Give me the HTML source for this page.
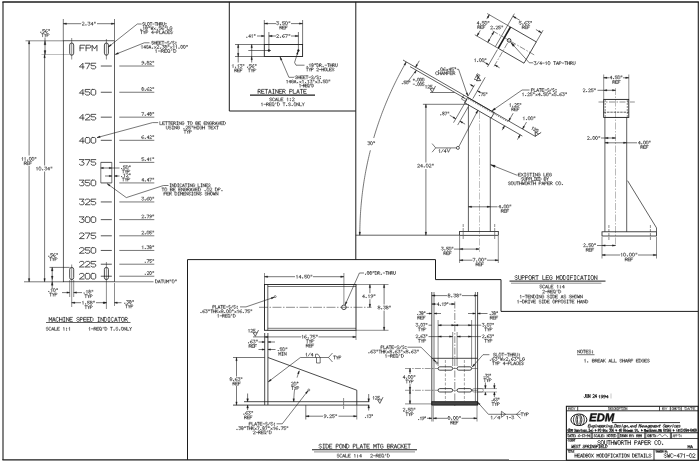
<!DOCTYPE html>
<html><head><meta charset="utf-8"><title>Headbox Modification Details</title>
<style>
html,body{margin:0;padding:0;background:#fff;}
body{width:700px;height:463px;overflow:hidden;font-family:"Liberation Mono",monospace;}
svg{display:block;}
</style></head><body>
<svg width="700" height="463" viewBox="0 0 700 463">
<line x1="2.40" y1="1.90" x2="698.90" y2="1.90" stroke="#1c1c1c" stroke-width="1.5"/>
<line x1="3.00" y1="1.90" x2="3.00" y2="459.90" stroke="#1c1c1c" stroke-width="1.1"/>
<line x1="698.30" y1="1.90" x2="698.30" y2="460.20" stroke="#1c1c1c" stroke-width="1.1"/>
<line x1="2.40" y1="459.90" x2="698.90" y2="460.10" stroke="#1c1c1c" stroke-width="1.2"/>
<line x1="229.30" y1="1.90" x2="229.30" y2="111.00" stroke="#1c1c1c" stroke-width="1.0"/>
<line x1="229.30" y1="111.00" x2="355.80" y2="111.00" stroke="#1c1c1c" stroke-width="1.0"/>
<line x1="355.80" y1="1.90" x2="355.80" y2="259.60" stroke="#1c1c1c" stroke-width="1.0"/>
<path d="M187.50 459.90 L187.50 259.60 L435.50 259.60 L435.50 279.60 L501.00 279.60 L501.00 311.40 L698.20 311.40" fill="none" stroke="#1c1c1c" stroke-width="1.0"/>
<rect x="63.30" y="40.80" width="51.20" height="241.00" rx="0" fill="none" stroke="#1c1c1c" stroke-width="0.7"/>
<line x1="63.30" y1="19.00" x2="63.30" y2="40.80" stroke="#1c1c1c" stroke-width="0.6"/>
<line x1="114.50" y1="19.00" x2="114.50" y2="40.80" stroke="#1c1c1c" stroke-width="0.6"/>
<line x1="63.30" y1="23.70" x2="81.00" y2="23.70" stroke="#1c1c1c" stroke-width="0.6"/>
<line x1="97.00" y1="23.70" x2="114.50" y2="23.70" stroke="#1c1c1c" stroke-width="0.6"/>
<path d="M63.30 23.70 L66.50 22.95 L66.50 24.45 Z" fill="#1c1c1c" stroke="#1c1c1c" stroke-width="0.3"/>
<path d="M114.50 23.70 L111.30 24.45 L111.30 22.95 Z" fill="#1c1c1c" stroke="#1c1c1c" stroke-width="0.3"/>
<path d="M82.00 22.70L82.55 22.20L83.64 22.20L84.19 22.70L84.19 23.30L82.00 25.20L84.19 25.20M85.88 24.90L86.21 24.90L86.21 25.20L85.88 25.20L85.88 24.90M87.91 22.20L90.09 22.20L89.00 23.45L89.55 23.45L90.09 23.95L90.09 24.70L89.55 25.20L88.45 25.20L87.91 24.70M92.50 25.20L92.50 22.20L90.86 24.20L93.05 24.20M94.47 22.20L94.47 23.10M95.34 22.20L95.34 23.10" fill="none" stroke="#1a1a1a" stroke-width="0.56" stroke-linecap="round" stroke-linejoin="round"/>
<rect x="69.70" y="43.00" width="4.00" height="12.20" rx="2" fill="none" stroke="#1c1c1c" stroke-width="0.8"/>
<rect x="69.70" y="267.40" width="4.00" height="12.20" rx="2" fill="none" stroke="#1c1c1c" stroke-width="0.8"/>
<rect x="104.40" y="43.00" width="4.00" height="12.20" rx="2" fill="none" stroke="#1c1c1c" stroke-width="0.8"/>
<rect x="104.40" y="267.40" width="4.00" height="12.20" rx="2" fill="none" stroke="#1c1c1c" stroke-width="0.8"/>
<line x1="71.70" y1="38.00" x2="71.70" y2="59.50" stroke="#1c1c1c" stroke-width="0.5"/>
<line x1="106.40" y1="39.00" x2="106.40" y2="59.50" stroke="#1c1c1c" stroke-width="0.5"/>
<line x1="71.70" y1="264.50" x2="71.70" y2="307.00" stroke="#1c1c1c" stroke-width="0.5"/>
<line x1="106.40" y1="262.00" x2="106.40" y2="309.00" stroke="#1c1c1c" stroke-width="0.5"/>
<path d="M40.77 32.20L41.07 32.20L41.07 32.50L40.77 32.50L40.77 32.20M44.65 29.50L42.63 29.50L42.63 30.80L44.14 30.80L44.65 31.30L44.65 32.00L44.14 32.50L43.14 32.50L42.63 32.00M47.11 29.50L46.36 29.50L45.35 30.50L45.35 32.00L45.86 32.50L46.86 32.50L47.37 32.00L47.37 31.50L46.86 31.00L45.86 31.00L45.35 31.50M48.68 29.50L48.68 30.40M49.48 29.50L49.48 30.40" fill="none" stroke="#1a1a1a" stroke-width="0.56" stroke-linecap="round" stroke-linejoin="round"/>
<path d="M41.57 33.70L43.59 33.70M42.58 33.70L42.58 36.70M44.29 33.70L45.30 35.20L46.31 33.70M45.30 35.20L45.30 36.70M47.01 36.70L47.01 33.70L48.52 33.70L49.03 34.20L49.03 34.70L48.52 35.20L47.01 35.20" fill="none" stroke="#1a1a1a" stroke-width="0.56" stroke-linecap="round" stroke-linejoin="round"/>
<line x1="25.50" y1="40.80" x2="63.30" y2="40.80" stroke="#1c1c1c" stroke-width="0.5"/>
<line x1="41.50" y1="54.60" x2="69.70" y2="54.60" stroke="#1c1c1c" stroke-width="0.45" opacity="0.7"/>
<line x1="45.00" y1="37.50" x2="45.00" y2="40.80" stroke="#1c1c1c" stroke-width="0.6"/>
<line x1="45.00" y1="40.80" x2="45.00" y2="54.60" stroke="#1c1c1c" stroke-width="0.6"/>
<path d="M45.00 40.80 L45.90 44.80 L44.10 44.80 Z" fill="#1c1c1c" stroke="#1c1c1c" stroke-width="0.3"/>
<path d="M45.00 54.60 L44.10 50.60 L45.90 50.60 Z" fill="#1c1c1c" stroke="#1c1c1c" stroke-width="0.3"/>
<line x1="29.10" y1="40.80" x2="29.10" y2="155.50" stroke="#1c1c1c" stroke-width="0.6"/>
<line x1="29.10" y1="166.00" x2="29.10" y2="281.80" stroke="#1c1c1c" stroke-width="0.6"/>
<path d="M29.10 40.80 L29.85 44.00 L28.35 44.00 Z" fill="#1c1c1c" stroke="#1c1c1c" stroke-width="0.3"/>
<path d="M29.10 281.80 L28.35 278.60 L29.85 278.60 Z" fill="#1c1c1c" stroke="#1c1c1c" stroke-width="0.3"/>
<path d="M21.98 158.00L22.56 157.40L22.56 160.40M24.60 158.00L25.18 157.40L25.18 160.40M27.55 160.10L27.84 160.10L27.84 160.40L27.55 160.40L27.55 160.10M29.82 157.40L30.79 157.40L31.27 157.90L31.27 159.90L30.79 160.40L29.82 160.40L29.34 159.90L29.34 157.90L29.82 157.40M32.44 157.40L33.40 157.40L33.89 157.90L33.89 159.90L33.40 160.40L32.44 160.40L31.95 159.90L31.95 157.90L32.44 157.40M35.15 157.40L35.15 158.30M35.92 157.40L35.92 158.30" fill="none" stroke="#1a1a1a" stroke-width="0.56" stroke-linecap="round" stroke-linejoin="round"/>
<path d="M24.27 164.70L24.27 161.70L25.78 161.70L26.29 162.20L26.29 162.70L25.78 163.20L24.27 163.20M25.28 163.20L26.29 164.70M29.01 161.70L26.99 161.70L26.99 164.70L29.01 164.70M26.99 163.20L28.50 163.20M31.73 161.70L29.71 161.70L29.71 164.70M29.71 163.20L31.22 163.20" fill="none" stroke="#1a1a1a" stroke-width="0.56" stroke-linecap="round" stroke-linejoin="round"/>
<line x1="44.60" y1="54.60" x2="44.60" y2="165.50" stroke="#1c1c1c" stroke-width="0.6"/>
<line x1="44.60" y1="171.50" x2="44.60" y2="281.80" stroke="#1c1c1c" stroke-width="0.6"/>
<path d="M44.60 54.60 L45.35 57.80 L43.85 57.80 Z" fill="#1c1c1c" stroke="#1c1c1c" stroke-width="0.3"/>
<path d="M44.60 281.80 L43.85 278.60 L45.35 278.60 Z" fill="#1c1c1c" stroke="#1c1c1c" stroke-width="0.3"/>
<path d="M36.53 167.70L37.17 167.10L37.17 170.10M39.41 167.10L40.47 167.10L41.00 167.60L41.00 169.60L40.47 170.10L39.41 170.10L38.87 169.60L38.87 167.60L39.41 167.10M42.65 169.80L42.97 169.80L42.97 170.10L42.65 170.10L42.65 169.80M44.62 167.10L46.75 167.10L45.69 168.35L46.22 168.35L46.75 168.85L46.75 169.60L46.22 170.10L45.16 170.10L44.62 169.60M49.09 170.10L49.09 167.10L47.50 169.10L49.63 169.10M51.01 167.10L51.01 168.00M51.86 167.10L51.86 168.00" fill="none" stroke="#1a1a1a" stroke-width="0.56" stroke-linecap="round" stroke-linejoin="round"/>
<line x1="24.00" y1="281.80" x2="63.30" y2="281.80" stroke="#1c1c1c" stroke-width="0.6"/>
<line x1="114.50" y1="281.80" x2="153.50" y2="281.80" stroke="#1c1c1c" stroke-width="0.6"/>
<path d="M155.50 279.90L155.50 282.90L156.78 282.90L157.56 282.15L157.56 280.65L156.78 279.90L155.50 279.90M158.28 282.90L159.31 279.90L160.33 282.90M158.69 281.90L159.92 281.90M161.06 279.90L163.11 279.90M162.08 279.90L162.08 282.90M163.83 279.90L163.83 282.40L164.35 282.90L165.38 282.90L165.89 282.40L165.89 279.90M166.61 282.90L166.61 279.90L167.64 281.90L168.67 279.90L168.67 282.90M170.01 279.90L170.01 280.80M170.83 279.90L170.83 280.80M172.68 279.90L173.71 279.90L174.22 280.40L174.22 282.40L173.71 282.90L172.68 282.90L172.17 282.40L172.17 280.40L172.68 279.90M175.56 279.90L175.56 280.80M176.38 279.90L176.38 280.80" fill="none" stroke="#1a1a1a" stroke-width="0.56" stroke-linecap="round" stroke-linejoin="round"/>
<path d="M84.85 45.20L80.00 45.20L80.00 50.80M80.00 48.00L83.64 48.00M86.06 50.80L86.06 45.20L89.69 45.20L90.91 46.13L90.91 47.07L89.69 48.00L86.06 48.00M92.12 50.80L92.12 45.20L94.54 48.93L96.96 45.20L96.96 50.80" fill="none" stroke="#1a1a1a" stroke-width="0.75" stroke-linecap="round" stroke-linejoin="round"/>
<path d="M82.90 68.83L82.90 63.23L79.40 66.97L84.07 66.97M85.24 63.23L89.91 63.23L86.99 68.83M95.75 63.23L91.08 63.23L91.08 65.66L94.58 65.66L95.75 66.59L95.75 67.90L94.58 68.83L92.25 68.83L91.08 67.90" fill="none" stroke="#1a1a1a" stroke-width="0.75" stroke-linecap="round" stroke-linejoin="round"/>
<line x1="100.80" y1="66.03" x2="111.80" y2="66.03" stroke="#1c1c1c" stroke-width="0.75"/>
<line x1="119.30" y1="66.03" x2="154.30" y2="66.03" stroke="#1c1c1c" stroke-width="0.6"/>
<path d="M142.02 64.33L142.75 64.33L143.72 63.33L143.72 61.83L143.24 61.33L142.27 61.33L141.78 61.83L141.78 62.33L142.27 62.83L143.24 62.83L143.72 62.33M145.23 64.03L145.52 64.03L145.52 64.33L145.23 64.33L145.23 64.03M147.51 61.33L148.48 61.33L148.96 61.83L148.96 62.33L148.48 62.83L147.51 62.83L147.02 62.33L147.02 61.83L147.51 61.33M147.51 62.83L147.02 63.33L147.02 63.83L147.51 64.33L148.48 64.33L148.96 63.83L148.96 63.33L148.48 62.83M149.64 61.83L150.13 61.33L151.10 61.33L151.58 61.83L151.58 62.43L149.64 64.33L151.58 64.33M152.84 61.33L152.84 62.23M153.62 61.33L153.62 62.23" fill="none" stroke="#1a1a1a" stroke-width="0.56" stroke-linecap="round" stroke-linejoin="round"/>
<path d="M82.90 95.05L82.90 89.45L79.40 93.19L84.07 93.19M89.91 89.45L85.24 89.45L85.24 91.88L88.74 91.88L89.91 92.81L89.91 94.12L88.74 95.05L86.41 95.05L85.24 94.12M92.25 89.45L94.58 89.45L95.75 90.39L95.75 94.12L94.58 95.05L92.25 95.05L91.08 94.12L91.08 90.39L92.25 89.45" fill="none" stroke="#1a1a1a" stroke-width="0.75" stroke-linecap="round" stroke-linejoin="round"/>
<line x1="100.80" y1="92.25" x2="111.80" y2="92.25" stroke="#1c1c1c" stroke-width="0.75"/>
<line x1="119.30" y1="92.25" x2="154.30" y2="92.25" stroke="#1c1c1c" stroke-width="0.6"/>
<path d="M142.27 87.55L143.24 87.55L143.72 88.05L143.72 88.55L143.24 89.05L142.27 89.05L141.78 88.55L141.78 88.05L142.27 87.55M142.27 89.05L141.78 89.55L141.78 90.05L142.27 90.55L143.24 90.55L143.72 90.05L143.72 89.55L143.24 89.05M145.23 90.25L145.52 90.25L145.52 90.55L145.23 90.55L145.23 90.25M148.72 87.55L147.99 87.55L147.02 88.55L147.02 90.05L147.51 90.55L148.48 90.55L148.96 90.05L148.96 89.55L148.48 89.05L147.51 89.05L147.02 89.55M149.64 88.05L150.13 87.55L151.10 87.55L151.58 88.05L151.58 88.65L149.64 90.55L151.58 90.55M152.84 87.55L152.84 88.45M153.62 87.55L153.62 88.45" fill="none" stroke="#1a1a1a" stroke-width="0.56" stroke-linecap="round" stroke-linejoin="round"/>
<path d="M82.90 119.96L82.90 114.36L79.40 118.10L84.07 118.10M85.24 115.30L86.41 114.36L88.74 114.36L89.91 115.30L89.91 116.42L85.24 119.96L89.91 119.96M95.75 114.36L91.08 114.36L91.08 116.79L94.58 116.79L95.75 117.72L95.75 119.03L94.58 119.96L92.25 119.96L91.08 119.03" fill="none" stroke="#1a1a1a" stroke-width="0.75" stroke-linecap="round" stroke-linejoin="round"/>
<line x1="100.80" y1="117.16" x2="111.80" y2="117.16" stroke="#1c1c1c" stroke-width="0.75"/>
<line x1="119.30" y1="117.16" x2="154.30" y2="117.16" stroke="#1c1c1c" stroke-width="0.6"/>
<path d="M141.78 112.46L143.72 112.46L142.51 115.46M145.23 115.16L145.52 115.16L145.52 115.46L145.23 115.46L145.23 115.16M148.48 115.46L148.48 112.46L147.02 114.46L148.96 114.46M150.13 112.46L151.10 112.46L151.58 112.96L151.58 113.46L151.10 113.96L150.13 113.96L149.64 113.46L149.64 112.96L150.13 112.46M150.13 113.96L149.64 114.46L149.64 114.96L150.13 115.46L151.10 115.46L151.58 114.96L151.58 114.46L151.10 113.96M152.84 112.46L152.84 113.36M153.62 112.46L153.62 113.36" fill="none" stroke="#1a1a1a" stroke-width="0.56" stroke-linecap="round" stroke-linejoin="round"/>
<path d="M82.90 143.12L82.90 137.52L79.40 141.26L84.07 141.26M86.41 137.52L88.74 137.52L89.91 138.46L89.91 142.19L88.74 143.12L86.41 143.12L85.24 142.19L85.24 138.46L86.41 137.52M92.25 137.52L94.58 137.52L95.75 138.46L95.75 142.19L94.58 143.12L92.25 143.12L91.08 142.19L91.08 138.46L92.25 137.52" fill="none" stroke="#1a1a1a" stroke-width="0.75" stroke-linecap="round" stroke-linejoin="round"/>
<line x1="100.80" y1="140.32" x2="111.80" y2="140.32" stroke="#1c1c1c" stroke-width="0.75"/>
<line x1="119.30" y1="140.32" x2="154.30" y2="140.32" stroke="#1c1c1c" stroke-width="0.6"/>
<path d="M143.48 135.62L142.75 135.62L141.78 136.62L141.78 138.12L142.27 138.62L143.24 138.62L143.72 138.12L143.72 137.62L143.24 137.12L142.27 137.12L141.78 137.62M145.23 138.32L145.52 138.32L145.52 138.62L145.23 138.62L145.23 138.32M148.48 138.62L148.48 135.62L147.02 137.62L148.96 137.62M149.64 136.12L150.13 135.62L151.10 135.62L151.58 136.12L151.58 136.72L149.64 138.62L151.58 138.62M152.84 135.62L152.84 136.52M153.62 135.62L153.62 136.52" fill="none" stroke="#1a1a1a" stroke-width="0.56" stroke-linecap="round" stroke-linejoin="round"/>
<path d="M79.40 159.59L84.07 159.59L81.74 161.92L82.90 161.92L84.07 162.86L84.07 164.26L82.90 165.19L80.57 165.19L79.40 164.26M85.24 159.59L89.91 159.59L86.99 165.19M95.75 159.59L91.08 159.59L91.08 162.02L94.58 162.02L95.75 162.95L95.75 164.26L94.58 165.19L92.25 165.19L91.08 164.26" fill="none" stroke="#1a1a1a" stroke-width="0.75" stroke-linecap="round" stroke-linejoin="round"/>
<line x1="100.80" y1="162.39" x2="111.80" y2="162.39" stroke="#1c1c1c" stroke-width="0.75"/>
<line x1="119.30" y1="162.39" x2="154.30" y2="162.39" stroke="#1c1c1c" stroke-width="0.6"/>
<path d="M143.72 157.69L141.78 157.69L141.78 158.99L143.24 158.99L143.72 159.49L143.72 160.19L143.24 160.69L142.27 160.69L141.78 160.19M145.23 160.39L145.52 160.39L145.52 160.69L145.23 160.69L145.23 160.39M148.48 160.69L148.48 157.69L147.02 159.69L148.96 159.69M150.13 158.29L150.71 157.69L150.71 160.69M152.84 157.69L152.84 158.59M153.62 157.69L153.62 158.59" fill="none" stroke="#1a1a1a" stroke-width="0.56" stroke-linecap="round" stroke-linejoin="round"/>
<path d="M79.40 180.13L84.07 180.13L81.74 182.46L82.90 182.46L84.07 183.40L84.07 184.80L82.90 185.73L80.57 185.73L79.40 184.80M89.91 180.13L85.24 180.13L85.24 182.56L88.74 182.56L89.91 183.49L89.91 184.80L88.74 185.73L86.41 185.73L85.24 184.80M92.25 180.13L94.58 180.13L95.75 181.06L95.75 184.80L94.58 185.73L92.25 185.73L91.08 184.80L91.08 181.06L92.25 180.13" fill="none" stroke="#1a1a1a" stroke-width="0.75" stroke-linecap="round" stroke-linejoin="round"/>
<line x1="100.80" y1="182.93" x2="111.80" y2="182.93" stroke="#1c1c1c" stroke-width="0.75"/>
<line x1="119.30" y1="182.93" x2="154.30" y2="182.93" stroke="#1c1c1c" stroke-width="0.6"/>
<path d="M143.24 181.23L143.24 178.23L141.78 180.23L143.72 180.23M145.23 180.93L145.52 180.93L145.52 181.23L145.23 181.23L145.23 180.93M148.48 181.23L148.48 178.23L147.02 180.23L148.96 180.23M149.64 178.23L151.58 178.23L150.37 181.23M152.84 178.23L152.84 179.13M153.62 178.23L153.62 179.13" fill="none" stroke="#1a1a1a" stroke-width="0.56" stroke-linecap="round" stroke-linejoin="round"/>
<path d="M79.40 199.14L84.07 199.14L81.74 201.47L82.90 201.47L84.07 202.41L84.07 203.81L82.90 204.74L80.57 204.74L79.40 203.81M85.24 200.07L86.41 199.14L88.74 199.14L89.91 200.07L89.91 201.19L85.24 204.74L89.91 204.74M95.75 199.14L91.08 199.14L91.08 201.57L94.58 201.57L95.75 202.50L95.75 203.81L94.58 204.74L92.25 204.74L91.08 203.81" fill="none" stroke="#1a1a1a" stroke-width="0.75" stroke-linecap="round" stroke-linejoin="round"/>
<line x1="100.80" y1="201.94" x2="111.80" y2="201.94" stroke="#1c1c1c" stroke-width="0.75"/>
<line x1="119.30" y1="201.94" x2="154.30" y2="201.94" stroke="#1c1c1c" stroke-width="0.6"/>
<path d="M141.78 197.24L143.72 197.24L142.75 198.49L143.24 198.49L143.72 198.99L143.72 199.74L143.24 200.24L142.27 200.24L141.78 199.74M145.23 199.94L145.52 199.94L145.52 200.24L145.23 200.24L145.23 199.94M148.72 197.24L147.99 197.24L147.02 198.24L147.02 199.74L147.51 200.24L148.48 200.24L148.96 199.74L148.96 199.24L148.48 198.74L147.51 198.74L147.02 199.24M150.13 197.24L151.10 197.24L151.58 197.74L151.58 199.74L151.10 200.24L150.13 200.24L149.64 199.74L149.64 197.74L150.13 197.24M152.84 197.24L152.84 198.14M153.62 197.24L153.62 198.14" fill="none" stroke="#1a1a1a" stroke-width="0.56" stroke-linecap="round" stroke-linejoin="round"/>
<path d="M79.40 216.84L84.07 216.84L81.74 219.17L82.90 219.17L84.07 220.11L84.07 221.51L82.90 222.44L80.57 222.44L79.40 221.51M86.41 216.84L88.74 216.84L89.91 217.77L89.91 221.51L88.74 222.44L86.41 222.44L85.24 221.51L85.24 217.77L86.41 216.84M92.25 216.84L94.58 216.84L95.75 217.77L95.75 221.51L94.58 222.44L92.25 222.44L91.08 221.51L91.08 217.77L92.25 216.84" fill="none" stroke="#1a1a1a" stroke-width="0.75" stroke-linecap="round" stroke-linejoin="round"/>
<line x1="100.80" y1="219.64" x2="111.80" y2="219.64" stroke="#1c1c1c" stroke-width="0.75"/>
<line x1="119.30" y1="219.64" x2="154.30" y2="219.64" stroke="#1c1c1c" stroke-width="0.6"/>
<path d="M141.78 215.44L142.27 214.94L143.24 214.94L143.72 215.44L143.72 216.04L141.78 217.94L143.72 217.94M145.23 217.64L145.52 217.64L145.52 217.94L145.23 217.94L145.23 217.64M147.02 214.94L148.96 214.94L147.75 217.94M149.88 217.94L150.61 217.94L151.58 216.94L151.58 215.44L151.10 214.94L150.13 214.94L149.64 215.44L149.64 215.94L150.13 216.44L151.10 216.44L151.58 215.94M152.84 214.94L152.84 215.84M153.62 214.94L153.62 215.84" fill="none" stroke="#1a1a1a" stroke-width="0.56" stroke-linecap="round" stroke-linejoin="round"/>
<path d="M79.40 233.94L80.57 233.01L82.90 233.01L84.07 233.94L84.07 235.06L79.40 238.61L84.07 238.61M85.24 233.01L89.91 233.01L86.99 238.61M95.75 233.01L91.08 233.01L91.08 235.43L94.58 235.43L95.75 236.37L95.75 237.67L94.58 238.61L92.25 238.61L91.08 237.67" fill="none" stroke="#1a1a1a" stroke-width="0.75" stroke-linecap="round" stroke-linejoin="round"/>
<line x1="100.80" y1="235.81" x2="111.80" y2="235.81" stroke="#1c1c1c" stroke-width="0.75"/>
<line x1="119.30" y1="235.81" x2="154.30" y2="235.81" stroke="#1c1c1c" stroke-width="0.6"/>
<path d="M141.78 231.61L142.27 231.11L143.24 231.11L143.72 231.61L143.72 232.21L141.78 234.11L143.72 234.11M145.23 233.81L145.52 233.81L145.52 234.11L145.23 234.11L145.23 233.81M147.51 231.11L148.48 231.11L148.96 231.61L148.96 233.61L148.48 234.11L147.51 234.11L147.02 233.61L147.02 231.61L147.51 231.11M151.58 231.11L149.64 231.11L149.64 232.41L151.10 232.41L151.58 232.91L151.58 233.61L151.10 234.11L150.13 234.11L149.64 233.61M152.84 231.11L152.84 232.01M153.62 231.11L153.62 232.01" fill="none" stroke="#1a1a1a" stroke-width="0.56" stroke-linecap="round" stroke-linejoin="round"/>
<path d="M79.40 248.58L80.57 247.65L82.90 247.65L84.07 248.58L84.07 249.70L79.40 253.25L84.07 253.25M89.91 247.65L85.24 247.65L85.24 250.07L88.74 250.07L89.91 251.01L89.91 252.31L88.74 253.25L86.41 253.25L85.24 252.31M92.25 247.65L94.58 247.65L95.75 248.58L95.75 252.31L94.58 253.25L92.25 253.25L91.08 252.31L91.08 248.58L92.25 247.65" fill="none" stroke="#1a1a1a" stroke-width="0.75" stroke-linecap="round" stroke-linejoin="round"/>
<line x1="100.80" y1="250.45" x2="111.80" y2="250.45" stroke="#1c1c1c" stroke-width="0.75"/>
<line x1="119.30" y1="250.45" x2="154.30" y2="250.45" stroke="#1c1c1c" stroke-width="0.6"/>
<path d="M142.27 246.35L142.85 245.75L142.85 248.75M145.23 248.45L145.52 248.45L145.52 248.75L145.23 248.75L145.23 248.45M147.02 245.75L148.96 245.75L147.99 247.00L148.48 247.00L148.96 247.50L148.96 248.25L148.48 248.75L147.51 248.75L147.02 248.25M150.13 245.75L151.10 245.75L151.58 246.25L151.58 246.75L151.10 247.25L150.13 247.25L149.64 246.75L149.64 246.25L150.13 245.75M150.13 247.25L149.64 247.75L149.64 248.25L150.13 248.75L151.10 248.75L151.58 248.25L151.58 247.75L151.10 247.25M152.84 245.75L152.84 246.65M153.62 245.75L153.62 246.65" fill="none" stroke="#1a1a1a" stroke-width="0.56" stroke-linecap="round" stroke-linejoin="round"/>
<path d="M79.40 262.35L80.57 261.41L82.90 261.41L84.07 262.35L84.07 263.47L79.40 267.01L84.07 267.01M85.24 262.35L86.41 261.41L88.74 261.41L89.91 262.35L89.91 263.47L85.24 267.01L89.91 267.01M95.75 261.41L91.08 261.41L91.08 263.84L94.58 263.84L95.75 264.77L95.75 266.08L94.58 267.01L92.25 267.01L91.08 266.08" fill="none" stroke="#1a1a1a" stroke-width="0.75" stroke-linecap="round" stroke-linejoin="round"/>
<line x1="100.80" y1="264.21" x2="111.80" y2="264.21" stroke="#1c1c1c" stroke-width="0.75"/>
<line x1="119.30" y1="264.21" x2="154.30" y2="264.21" stroke="#1c1c1c" stroke-width="0.6"/>
<path d="M145.23 262.21L145.52 262.21L145.52 262.51L145.23 262.51L145.23 262.21M147.02 259.51L148.96 259.51L147.75 262.51M151.58 259.51L149.64 259.51L149.64 260.81L151.10 260.81L151.58 261.31L151.58 262.01L151.10 262.51L150.13 262.51L149.64 262.01M152.84 259.51L152.84 260.41M153.62 259.51L153.62 260.41" fill="none" stroke="#1a1a1a" stroke-width="0.56" stroke-linecap="round" stroke-linejoin="round"/>
<path d="M79.40 274.36L80.57 273.43L82.90 273.43L84.07 274.36L84.07 275.48L79.40 279.03L84.07 279.03M86.41 273.43L88.74 273.43L89.91 274.36L89.91 278.10L88.74 279.03L86.41 279.03L85.24 278.10L85.24 274.36L86.41 273.43M92.25 273.43L94.58 273.43L95.75 274.36L95.75 278.10L94.58 279.03L92.25 279.03L91.08 278.10L91.08 274.36L92.25 273.43" fill="none" stroke="#1a1a1a" stroke-width="0.75" stroke-linecap="round" stroke-linejoin="round"/>
<line x1="100.80" y1="276.23" x2="111.80" y2="276.23" stroke="#1c1c1c" stroke-width="0.75"/>
<line x1="119.30" y1="276.23" x2="154.30" y2="276.23" stroke="#1c1c1c" stroke-width="0.6"/>
<path d="M145.23 274.23L145.52 274.23L145.52 274.53L145.23 274.53L145.23 274.23M147.02 272.03L147.51 271.53L148.48 271.53L148.96 272.03L148.96 272.63L147.02 274.53L148.96 274.53M150.13 271.53L151.10 271.53L151.58 272.03L151.58 274.03L151.10 274.53L150.13 274.53L149.64 274.03L149.64 272.03L150.13 271.53M152.84 271.53L152.84 272.43M153.62 271.53L153.62 272.43" fill="none" stroke="#1a1a1a" stroke-width="0.56" stroke-linecap="round" stroke-linejoin="round"/>
<line x1="100.80" y1="162.39" x2="100.80" y2="182.93" stroke="#1c1c1c" stroke-width="0.6"/>
<line x1="111.80" y1="162.39" x2="111.80" y2="182.93" stroke="#1c1c1c" stroke-width="0.6"/>
<line x1="100.80" y1="168.00" x2="111.80" y2="168.00" stroke="#1c1c1c" stroke-width="0.6"/>
<path d="M100.80 168.00 L103.40 167.25 L103.40 168.75 Z" fill="#1c1c1c" stroke="#1c1c1c" stroke-width="0.3"/>
<path d="M111.80 168.00 L109.20 168.75 L109.20 167.25 Z" fill="#1c1c1c" stroke="#1c1c1c" stroke-width="0.3"/>
<line x1="111.80" y1="168.00" x2="119.50" y2="168.00" stroke="#1c1c1c" stroke-width="0.6"/>
<path d="M121.57 168.50L121.87 168.50L121.87 168.80L121.57 168.80L121.57 168.50M125.45 165.80L123.43 165.80L123.43 167.10L124.94 167.10L125.45 167.60L125.45 168.30L124.94 168.80L123.94 168.80L123.43 168.30M126.66 165.80L127.66 165.80L128.17 166.30L128.17 168.30L127.66 168.80L126.66 168.80L126.15 168.30L126.15 166.30L126.66 165.80M129.48 165.80L129.48 166.70M130.28 165.80L130.28 166.70" fill="none" stroke="#1a1a1a" stroke-width="0.56" stroke-linecap="round" stroke-linejoin="round"/>
<path d="M122.27 170.00L124.29 170.00M123.28 170.00L123.28 173.00M124.99 170.00L126.00 171.50L127.01 170.00M126.00 171.50L126.00 173.00M127.71 173.00L127.71 170.00L129.22 170.00L129.73 170.50L129.73 171.00L129.22 171.50L127.71 171.50" fill="none" stroke="#1a1a1a" stroke-width="0.56" stroke-linecap="round" stroke-linejoin="round"/>
<line x1="105.00" y1="176.00" x2="111.80" y2="176.00" stroke="#1c1c1c" stroke-width="0.6"/>
<path d="M111.80 176.00 L109.20 176.75 L109.20 175.25 Z" fill="#1c1c1c" stroke="#1c1c1c" stroke-width="0.3"/>
<path d="M114.50 176.00 L117.10 175.25 L117.10 176.75 Z" fill="#1c1c1c" stroke="#1c1c1c" stroke-width="0.3"/>
<line x1="114.50" y1="176.00" x2="119.50" y2="176.00" stroke="#1c1c1c" stroke-width="0.6"/>
<path d="M121.57 176.50L121.87 176.50L121.87 176.80L121.57 176.80L121.57 176.50M123.94 174.40L124.54 173.80L124.54 176.80M126.15 174.30L126.66 173.80L127.66 173.80L128.17 174.30L128.17 174.90L126.15 176.80L128.17 176.80M129.48 173.80L129.48 174.70M130.28 173.80L130.28 174.70" fill="none" stroke="#1a1a1a" stroke-width="0.56" stroke-linecap="round" stroke-linejoin="round"/>
<path d="M122.27 178.00L124.29 178.00M123.28 178.00L123.28 181.00M124.99 178.00L126.00 179.50L127.01 178.00M126.00 179.50L126.00 181.00M127.71 181.00L127.71 178.00L129.22 178.00L129.73 178.50L129.73 179.00L129.22 179.50L127.71 179.50" fill="none" stroke="#1a1a1a" stroke-width="0.56" stroke-linecap="round" stroke-linejoin="round"/>
<path d="M168.50 185.50 L163.40 185.50 L126.30 197.60 L107.20 183.70" fill="none" stroke="#1c1c1c" stroke-width="0.6"/>
<path d="M107.20 183.70 L110.23 184.98 L109.35 186.19 Z" fill="#1c1c1c" stroke="#1c1c1c" stroke-width="0.3"/>
<path d="M170.55 183.80L170.55 186.80M170.08 183.80L171.03 183.80M170.08 186.80L171.03 186.80M172.18 186.80L172.18 183.80L174.09 186.80L174.09 183.80M174.76 183.80L174.76 186.80L175.95 186.80L176.67 186.05L176.67 184.55L175.95 183.80L174.76 183.80M178.29 183.80L178.29 186.80M177.82 183.80L178.77 183.80M177.82 186.80L178.77 186.80M181.83 184.30L181.35 183.80L180.39 183.80L179.92 184.30L179.92 186.30L180.39 186.80L181.35 186.80L181.83 186.30M182.50 186.80L183.45 183.80L184.41 186.80M182.88 185.80L184.02 185.80M185.08 183.80L186.99 183.80M186.03 183.80L186.03 186.80M188.61 183.80L188.61 186.80M188.13 183.80L189.09 183.80M188.13 186.80L189.09 186.80M190.24 186.80L190.24 183.80L192.14 186.80L192.14 183.80M194.72 184.30L194.25 183.80L193.29 183.80L192.81 184.30L192.81 186.30L193.29 186.80L194.25 186.80L194.72 186.30L194.72 185.30L194.01 185.30M197.97 183.80L197.97 186.80L199.88 186.80M201.51 183.80L201.51 186.80M201.03 183.80L201.98 183.80M201.03 186.80L201.98 186.80M203.13 186.80L203.13 183.80L205.04 186.80L205.04 183.80M207.62 183.80L205.71 183.80L205.71 186.80L207.62 186.80M205.71 185.30L207.14 185.30M210.20 184.30L209.72 183.80L208.77 183.80L208.29 184.30L208.29 184.80L208.77 185.30L209.72 185.30L210.20 185.80L210.20 186.30L209.72 186.80L208.77 186.80L208.29 186.30" fill="none" stroke="#1a1a1a" stroke-width="0.56" stroke-linecap="round" stroke-linejoin="round"/>
<path d="M161.90 188.00L163.98 188.00M162.94 188.00L162.94 191.00M165.24 188.00L166.28 188.00L166.80 188.50L166.80 190.50L166.28 191.00L165.24 191.00L164.72 190.50L164.72 188.50L165.24 188.00M170.35 189.50L171.91 189.50L172.43 190.00L172.43 190.50L171.91 191.00L170.35 191.00L170.35 188.00L171.91 188.00L172.43 188.50L172.43 189.00L171.91 189.50M175.24 188.00L173.16 188.00L173.16 191.00L175.24 191.00M173.16 189.50L174.72 189.50M180.87 188.00L178.79 188.00L178.79 191.00L180.87 191.00M178.79 189.50L180.35 189.50M181.61 191.00L181.61 188.00L183.69 191.00L183.69 188.00M186.50 188.50L185.98 188.00L184.94 188.00L184.42 188.50L184.42 190.50L184.94 191.00L185.98 191.00L186.50 190.50L186.50 189.50L185.72 189.50M187.24 191.00L187.24 188.00L188.80 188.00L189.32 188.50L189.32 189.00L188.80 189.50L187.24 189.50M188.28 189.50L189.32 191.00M190.05 191.00L191.09 188.00L192.13 191.00M190.47 190.00L191.72 190.00M192.87 188.00L193.91 191.00L194.95 188.00M197.76 188.00L195.68 188.00L195.68 191.00L197.76 191.00M195.68 189.50L197.24 189.50M198.50 188.00L198.50 191.00L199.80 191.00L200.58 190.25L200.58 188.75L199.80 188.00L198.50 188.00M205.01 190.70L205.32 190.70L205.32 191.00L205.01 191.00L205.01 190.70M207.46 188.00L208.50 188.00L209.02 188.50L209.02 190.50L208.50 191.00L207.46 191.00L206.94 190.50L206.94 188.50L207.46 188.00M209.76 188.50L210.28 188.00L211.32 188.00L211.84 188.50L211.84 189.10L209.76 191.00L211.84 191.00M215.39 188.00L215.39 191.00L216.69 191.00L217.47 190.25L217.47 188.75L216.69 188.00L215.39 188.00M218.20 191.00L218.20 188.00L219.76 188.00L220.28 188.50L220.28 189.00L219.76 189.50L218.20 189.50M221.90 190.70L222.21 190.70L222.21 191.00L221.90 191.00L221.90 190.70" fill="none" stroke="#1a1a1a" stroke-width="0.56" stroke-linecap="round" stroke-linejoin="round"/>
<path d="M164.00 195.20L164.00 192.20L165.52 192.20L166.02 192.70L166.02 193.20L165.52 193.70L164.00 193.70M168.76 192.20L166.74 192.20L166.74 195.20L168.76 195.20M166.74 193.70L168.25 193.70M169.47 195.20L169.47 192.20L170.99 192.20L171.50 192.70L171.50 193.20L170.99 193.70L169.47 193.70M170.48 193.70L171.50 195.20M174.94 192.20L174.94 195.20L176.21 195.20L176.97 194.45L176.97 192.95L176.21 192.20L174.94 192.20M178.69 192.20L178.69 195.20M178.18 192.20L179.20 192.20M178.18 195.20L179.20 195.20M180.41 195.20L180.41 192.20L181.43 194.20L182.44 192.20L182.44 195.20M185.17 192.20L183.15 192.20L183.15 195.20L185.17 195.20M183.15 193.70L184.67 193.70M185.88 195.20L185.88 192.20L187.91 195.20L187.91 192.20M190.64 192.70L190.14 192.20L189.13 192.20L188.62 192.70L188.62 193.20L189.13 193.70L190.14 193.70L190.64 194.20L190.64 194.70L190.14 195.20L189.13 195.20L188.62 194.70M192.37 192.20L192.37 195.20M191.86 192.20L192.87 192.20M191.86 195.20L192.87 195.20M194.60 192.20L195.61 192.20L196.12 192.70L196.12 194.70L195.61 195.20L194.60 195.20L194.09 194.70L194.09 192.70L194.60 192.20M196.83 195.20L196.83 192.20L198.85 195.20L198.85 192.20M201.59 192.70L201.08 192.20L200.07 192.20L199.56 192.70L199.56 193.20L200.07 193.70L201.08 193.70L201.59 194.20L201.59 194.70L201.08 195.20L200.07 195.20L199.56 194.70M207.06 192.70L206.55 192.20L205.54 192.20L205.03 192.70L205.03 193.20L205.54 193.70L206.55 193.70L207.06 194.20L207.06 194.70L206.55 195.20L205.54 195.20L205.03 194.70M207.77 192.20L207.77 195.20M209.79 192.20L209.79 195.20M207.77 193.70L209.79 193.70M211.01 192.20L212.02 192.20L212.53 192.70L212.53 194.70L212.02 195.20L211.01 195.20L210.50 194.70L210.50 192.70L211.01 192.20M213.24 192.20L213.75 195.20L214.25 193.20L214.76 195.20L215.26 192.20M215.98 195.20L215.98 192.20L218.00 195.20L218.00 192.20" fill="none" stroke="#1a1a1a" stroke-width="0.56" stroke-linecap="round" stroke-linejoin="round"/>
<path d="M158.20 122.60 L152.60 122.60 L97.00 137.60" fill="none" stroke="#1c1c1c" stroke-width="0.6"/>
<path d="M97.00 137.60 L99.89 136.04 L100.28 137.49 Z" fill="#1c1c1c" stroke="#1c1c1c" stroke-width="0.3"/>
<path d="M159.80 121.70L159.80 124.70L161.85 124.70M164.62 121.70L162.57 121.70L162.57 124.70L164.62 124.70M162.57 123.20L164.10 123.20M165.33 121.70L167.38 121.70M166.36 121.70L166.36 124.70M168.10 121.70L170.15 121.70M169.13 121.70L169.13 124.70M172.92 121.70L170.87 121.70L170.87 124.70L172.92 124.70M170.87 123.20L172.41 123.20M173.64 124.70L173.64 121.70L175.17 121.70L175.69 122.20L175.69 122.70L175.17 123.20L173.64 123.20M174.66 123.20L175.69 124.70M177.43 121.70L177.43 124.70M176.92 121.70L177.94 121.70M176.92 124.70L177.94 124.70M179.17 124.70L179.17 121.70L181.22 124.70L181.22 121.70M183.99 122.20L183.48 121.70L182.45 121.70L181.94 122.20L181.94 124.20L182.45 124.70L183.48 124.70L183.99 124.20L183.99 123.20L183.22 123.20M187.47 121.70L189.52 121.70M188.50 121.70L188.50 124.70M190.75 121.70L191.78 121.70L192.29 122.20L192.29 124.20L191.78 124.70L190.75 124.70L190.24 124.20L190.24 122.20L190.75 121.70M195.78 123.20L197.31 123.20L197.83 123.70L197.83 124.20L197.31 124.70L195.78 124.70L195.78 121.70L197.31 121.70L197.83 122.20L197.83 122.70L197.31 123.20M200.59 121.70L198.54 121.70L198.54 124.70L200.59 124.70M198.54 123.20L200.08 123.20M206.13 121.70L204.08 121.70L204.08 124.70L206.13 124.70M204.08 123.20L205.62 123.20M206.85 124.70L206.85 121.70L208.90 124.70L208.90 121.70M211.66 122.20L211.15 121.70L210.13 121.70L209.61 122.20L209.61 124.20L210.13 124.70L211.15 124.70L211.66 124.20L211.66 123.20L210.89 123.20M212.38 124.70L212.38 121.70L213.92 121.70L214.43 122.20L214.43 122.70L213.92 123.20L212.38 123.20M213.41 123.20L214.43 124.70M215.15 124.70L216.17 121.70L217.20 124.70M215.56 123.70L216.79 123.70M217.92 121.70L218.94 124.70L219.97 121.70M222.73 121.70L220.68 121.70L220.68 124.70L222.73 124.70M220.68 123.20L222.22 123.20M223.45 121.70L223.45 124.70L224.73 124.70L225.50 123.95L225.50 122.45L224.73 121.70L223.45 121.70" fill="none" stroke="#1a1a1a" stroke-width="0.56" stroke-linecap="round" stroke-linejoin="round"/>
<path d="M166.30 126.10L166.30 128.60L166.82 129.10L167.85 129.10L168.36 128.60L168.36 126.10M171.15 126.60L170.63 126.10L169.60 126.10L169.09 126.60L169.09 127.10L169.60 127.60L170.63 127.60L171.15 128.10L171.15 128.60L170.63 129.10L169.60 129.10L169.09 128.60M172.90 126.10L172.90 129.10M172.39 126.10L173.42 126.10M172.39 129.10L173.42 129.10M174.66 129.10L174.66 126.10L176.72 129.10L176.72 126.10M179.50 126.60L178.99 126.10L177.96 126.10L177.44 126.60L177.44 128.60L177.96 129.10L178.99 129.10L179.50 128.60L179.50 127.60L178.73 127.60M183.89 128.80L184.20 128.80L184.20 129.10L183.89 129.10L183.89 128.80M185.80 126.60L186.31 126.10L187.34 126.10L187.86 126.60L187.86 127.20L185.80 129.10L187.86 129.10M190.65 126.10L188.58 126.10L188.58 127.40L190.13 127.40L190.65 127.90L190.65 128.60L190.13 129.10L189.10 129.10L188.58 128.60M191.99 126.10L191.99 127.00M192.81 126.10L192.81 127.00M194.15 126.10L194.15 129.10M196.22 126.10L196.22 129.10M194.15 127.60L196.22 127.60M197.97 126.10L197.97 129.10M197.46 126.10L198.49 126.10M197.46 129.10L198.49 129.10M201.79 126.60L201.27 126.10L200.24 126.10L199.73 126.60L199.73 128.60L200.24 129.10L201.27 129.10L201.79 128.60L201.79 127.60L201.01 127.60M202.51 126.10L202.51 129.10M204.57 126.10L204.57 129.10M202.51 127.60L204.57 127.60M208.08 126.10L210.14 126.10M209.11 126.10L209.11 129.10M212.93 126.10L210.87 126.10L210.87 129.10L212.93 129.10M210.87 127.60L212.41 127.60M213.65 126.10L215.71 129.10M215.71 126.10L213.65 129.10M216.44 126.10L218.50 126.10M217.47 126.10L217.47 129.10" fill="none" stroke="#1a1a1a" stroke-width="0.56" stroke-linecap="round" stroke-linejoin="round"/>
<path d="M183.97 130.30L185.99 130.30M184.98 130.30L184.98 133.30M186.69 130.30L187.70 131.80L188.71 130.30M187.70 131.80L187.70 133.30M189.41 133.30L189.41 130.30L190.92 130.30L191.43 130.80L191.43 131.30L190.92 131.80L189.41 131.80" fill="none" stroke="#1a1a1a" stroke-width="0.56" stroke-linecap="round" stroke-linejoin="round"/>
<path d="M141.50 24.00 L137.30 24.00 L108.30 47.00" fill="none" stroke="#1c1c1c" stroke-width="0.6"/>
<path d="M108.30 47.00 L110.34 44.42 L111.27 45.60 Z" fill="#1c1c1c" stroke="#1c1c1c" stroke-width="0.3"/>
<path d="M144.36 23.00L143.90 22.50L142.97 22.50L142.50 23.00L142.50 23.50L142.97 24.00L143.90 24.00L144.36 24.50L144.36 25.00L143.90 25.50L142.97 25.50L142.50 25.00M145.02 22.50L145.02 25.50L146.88 25.50M148.00 22.50L148.93 22.50L149.39 23.00L149.39 25.00L148.93 25.50L148.00 25.50L147.53 25.00L147.53 23.00L148.00 22.50M150.05 22.50L151.91 22.50M150.98 22.50L150.98 25.50M152.79 24.00L154.19 24.00M155.08 22.50L156.94 22.50M156.01 22.50L156.01 25.50M157.59 22.50L157.59 25.50M159.45 22.50L159.45 25.50M157.59 24.00L159.45 24.00M160.11 25.50L160.11 22.50L161.50 22.50L161.97 23.00L161.97 23.50L161.50 24.00L160.11 24.00M161.04 24.00L161.97 25.50M162.62 22.50L162.62 25.00L163.09 25.50L164.02 25.50L164.48 25.00L164.48 22.50M165.93 23.40L166.21 23.40L166.21 23.70L165.93 23.70L165.93 23.40M165.93 25.20L166.21 25.20L166.21 25.50L165.93 25.50L165.93 25.20" fill="none" stroke="#1a1a1a" stroke-width="0.56" stroke-linecap="round" stroke-linejoin="round"/>
<path d="M140.86 29.30L141.16 29.30L141.16 29.60L140.86 29.60L140.86 29.30M143.23 27.20L143.84 26.60L143.84 29.60M145.96 26.60L146.96 26.60L147.47 27.10L147.47 27.60L146.96 28.10L145.96 28.10L145.45 27.60L145.45 27.10L145.96 26.60M145.96 28.10L145.45 28.60L145.45 29.10L145.96 29.60L146.96 29.60L147.47 29.10L147.47 28.60L146.96 28.10M148.78 26.60L148.78 27.50M149.59 26.60L149.59 27.50M150.90 26.60L151.41 29.60L151.91 27.60L152.42 29.60L152.92 26.60M153.88 27.85L155.39 29.60M155.39 27.85L153.88 29.60M157.21 29.30L157.51 29.30L157.51 29.60L157.21 29.60L157.21 29.30M161.10 26.60L159.08 26.60L159.08 27.90L160.59 27.90L161.10 28.40L161.10 29.10L160.59 29.60L159.58 29.60L159.08 29.10M163.57 26.60L162.81 26.60L161.81 27.60L161.81 29.10L162.31 29.60L163.32 29.60L163.82 29.10L163.82 28.60L163.32 28.10L162.31 28.10L161.81 28.60M165.14 26.60L165.14 27.50M165.94 26.60L165.94 27.50M167.26 26.60L167.26 29.60L169.27 29.60M172.00 27.10L171.50 26.60L170.49 26.60L169.98 27.10L169.98 29.10L170.49 29.60L171.50 29.60L172.00 29.10L172.00 28.10L171.24 28.10" fill="none" stroke="#1a1a1a" stroke-width="0.56" stroke-linecap="round" stroke-linejoin="round"/>
<path d="M140.50 30.70L142.52 30.70M141.51 30.70L141.51 33.70M143.23 30.70L144.23 32.20L145.24 30.70M144.23 32.20L144.23 33.70M145.95 33.70L145.95 30.70L147.46 30.70L147.97 31.20L147.97 31.70L147.46 32.20L145.95 32.20M152.92 33.70L152.92 30.70L151.40 32.70L153.42 32.70M154.38 32.20L155.89 32.20M156.85 33.70L156.85 30.70L158.37 30.70L158.87 31.20L158.87 31.70L158.37 32.20L156.85 32.20M159.58 30.70L159.58 33.70L161.60 33.70M162.31 33.70L163.31 30.70L164.32 33.70M162.71 32.70L163.92 32.70M167.05 31.20L166.54 30.70L165.54 30.70L165.03 31.20L165.03 33.20L165.54 33.70L166.54 33.70L167.05 33.20M169.77 30.70L167.76 30.70L167.76 33.70L169.77 33.70M167.76 32.20L169.27 32.20M172.50 31.20L172.00 30.70L170.99 30.70L170.48 31.20L170.48 31.70L170.99 32.20L172.00 32.20L172.50 32.70L172.50 33.20L172.00 33.70L170.99 33.70L170.48 33.20" fill="none" stroke="#1a1a1a" stroke-width="0.56" stroke-linecap="round" stroke-linejoin="round"/>
<path d="M149.50 42.80 L144.30 42.80 L115.30 54.40" fill="none" stroke="#1c1c1c" stroke-width="0.6"/>
<path d="M115.30 54.40 L117.99 52.52 L118.55 53.91 Z" fill="#1c1c1c" stroke="#1c1c1c" stroke-width="0.3"/>
<path d="M153.44 41.80L152.95 41.30L151.98 41.30L151.50 41.80L151.50 42.30L151.98 42.80L152.95 42.80L153.44 43.30L153.44 43.80L152.95 44.30L151.98 44.30L151.50 43.80M154.12 41.30L154.12 44.30M156.06 41.30L156.06 44.30M154.12 42.80L156.06 42.80M158.67 41.30L156.74 41.30L156.74 44.30L158.67 44.30M156.74 42.80L158.19 42.80M161.29 41.30L159.35 41.30L159.35 44.30L161.29 44.30M159.35 42.80L160.81 42.80M161.97 41.30L163.91 41.30M162.94 41.30L162.94 44.30M164.83 42.80L166.29 42.80M169.15 41.80L168.66 41.30L167.69 41.30L167.21 41.80L167.21 42.30L167.69 42.80L168.66 42.80L169.15 43.30L169.15 43.80L168.66 44.30L167.69 44.30L167.21 43.80M169.83 44.30L171.76 41.30M174.38 41.80L173.90 41.30L172.93 41.30L172.44 41.80L172.44 42.30L172.93 42.80L173.90 42.80L174.38 43.30L174.38 43.80L173.90 44.30L172.93 44.30L172.44 43.80M175.89 42.20L176.18 42.20L176.18 42.50L175.89 42.50L175.89 42.20M175.89 44.00L176.18 44.00L176.18 44.30L175.89 44.30L175.89 44.00" fill="none" stroke="#1a1a1a" stroke-width="0.56" stroke-linecap="round" stroke-linejoin="round"/>
<path d="M141.49 46.00L142.08 45.40L142.08 48.40M145.12 48.40L145.12 45.40L143.65 47.40L145.61 47.40M148.26 45.90L147.77 45.40L146.79 45.40L146.30 45.90L146.30 47.90L146.79 48.40L147.77 48.40L148.26 47.90L148.26 46.90L147.52 46.90M148.95 48.40L149.93 45.40L150.91 48.40M149.34 47.40L150.52 47.40M152.43 48.10L152.72 48.10L152.72 48.40L152.43 48.40L152.43 48.10M154.49 46.65L155.96 48.40M155.96 46.65L154.49 48.40M156.90 45.90L157.39 45.40L158.37 45.40L158.86 45.90L158.86 46.50L156.90 48.40L158.86 48.40M160.38 48.10L160.67 48.10L160.67 48.40L160.38 48.40L160.38 48.10M162.20 45.40L164.16 45.40L163.18 46.65L163.67 46.65L164.16 47.15L164.16 47.90L163.67 48.40L162.69 48.40L162.20 47.90M165.33 45.40L166.31 45.40L166.80 45.90L166.80 46.40L166.31 46.90L165.33 46.90L164.84 46.40L164.84 45.90L165.33 45.40M165.33 46.90L164.84 47.40L164.84 47.90L165.33 48.40L166.31 48.40L166.80 47.90L166.80 47.40L166.31 46.90M168.08 45.40L168.08 46.30M168.87 45.40L168.87 46.30M170.39 46.65L171.86 48.40M171.86 46.65L170.39 48.40M173.28 46.00L173.87 45.40L173.87 48.40M175.93 46.00L176.52 45.40L176.52 48.40M178.92 48.10L179.22 48.10L179.22 48.40L178.92 48.40L178.92 48.10M181.23 45.40L182.21 45.40L182.70 45.90L182.70 47.90L182.21 48.40L181.23 48.40L180.74 47.90L180.74 45.90L181.23 45.40M183.88 45.40L184.86 45.40L185.35 45.90L185.35 47.90L184.86 48.40L183.88 48.40L183.39 47.90L183.39 45.90L183.88 45.40M186.63 45.40L186.63 46.30M187.41 45.40L187.41 46.30" fill="none" stroke="#1a1a1a" stroke-width="0.56" stroke-linecap="round" stroke-linejoin="round"/>
<path d="M155.58 50.10L156.27 49.50L156.27 52.50M158.40 51.00L160.13 51.00M161.23 52.50L161.23 49.50L162.96 49.50L163.54 50.00L163.54 50.50L162.96 51.00L161.23 51.00M162.38 51.00L163.54 52.50M166.65 49.50L164.35 49.50L164.35 52.50L166.65 52.50M164.35 51.00L166.08 51.00M168.04 49.50L169.19 49.50L169.77 50.00L169.77 52.00L169.19 52.50L168.04 52.50L167.46 52.00L167.46 50.00L168.04 49.50M168.90 51.75L169.77 52.65M171.73 49.50L171.73 50.40M173.69 49.50L173.69 52.50L175.14 52.50L176.00 51.75L176.00 50.25L175.14 49.50L173.69 49.50" fill="none" stroke="#1a1a1a" stroke-width="0.56" stroke-linecap="round" stroke-linejoin="round"/>
<path d="M48.77 256.20L49.07 256.20L49.07 256.50L48.77 256.50L48.77 256.20M52.65 253.50L50.63 253.50L50.63 254.80L52.14 254.80L52.65 255.30L52.65 256.00L52.14 256.50L51.14 256.50L50.63 256.00M55.11 253.50L54.36 253.50L53.35 254.50L53.35 256.00L53.86 256.50L54.86 256.50L55.37 256.00L55.37 255.50L54.86 255.00L53.86 255.00L53.35 255.50M56.68 253.50L56.68 254.40M57.48 253.50L57.48 254.40" fill="none" stroke="#1a1a1a" stroke-width="0.56" stroke-linecap="round" stroke-linejoin="round"/>
<path d="M49.57 257.70L51.59 257.70M50.58 257.70L50.58 260.70M52.29 257.70L53.30 259.20L54.31 257.70M53.30 259.20L53.30 260.70M55.01 260.70L55.01 257.70L56.52 257.70L57.03 258.20L57.03 258.70L56.52 259.20L55.01 259.20" fill="none" stroke="#1a1a1a" stroke-width="0.56" stroke-linecap="round" stroke-linejoin="round"/>
<line x1="49.50" y1="267.40" x2="69.70" y2="267.40" stroke="#1c1c1c" stroke-width="0.6"/>
<line x1="52.20" y1="267.40" x2="52.20" y2="289.00" stroke="#1c1c1c" stroke-width="0.6"/>
<path d="M52.20 267.40 L53.10 270.90 L51.30 270.90 Z" fill="#1c1c1c" stroke="#1c1c1c" stroke-width="0.3"/>
<path d="M52.20 279.60 L51.30 276.10 L53.10 276.10 Z" fill="#1c1c1c" stroke="#1c1c1c" stroke-width="0.3"/>
<path d="M52.20 281.80 L53.10 285.30 L51.30 285.30 Z" fill="#1c1c1c" stroke="#1c1c1c" stroke-width="0.3"/>
<path d="M48.77 291.40L49.07 291.40L49.07 291.70L48.77 291.70L48.77 291.40M51.14 289.30L51.74 288.70L51.74 291.70M53.86 288.70L54.86 288.70L55.37 289.20L55.37 291.20L54.86 291.70L53.86 291.70L53.35 291.20L53.35 289.20L53.86 288.70M56.68 288.70L56.68 289.60M57.48 288.70L57.48 289.60" fill="none" stroke="#1a1a1a" stroke-width="0.56" stroke-linecap="round" stroke-linejoin="round"/>
<path d="M49.57 293.10L51.59 293.10M50.58 293.10L50.58 296.10M52.29 293.10L53.30 294.60L54.31 293.10M53.30 294.60L53.30 296.10M55.01 296.10L55.01 293.10L56.52 293.10L57.03 293.60L57.03 294.10L56.52 294.60L55.01 294.60" fill="none" stroke="#1a1a1a" stroke-width="0.56" stroke-linecap="round" stroke-linejoin="round"/>
<line x1="69.70" y1="280.00" x2="69.70" y2="297.00" stroke="#1c1c1c" stroke-width="0.5"/>
<line x1="73.70" y1="280.00" x2="73.70" y2="297.00" stroke="#1c1c1c" stroke-width="0.5"/>
<line x1="62.00" y1="292.60" x2="69.70" y2="292.60" stroke="#1c1c1c" stroke-width="0.6"/>
<path d="M69.70 292.60 L66.90 293.35 L66.90 291.85 Z" fill="#1c1c1c" stroke="#1c1c1c" stroke-width="0.3"/>
<line x1="73.70" y1="292.60" x2="82.00" y2="292.60" stroke="#1c1c1c" stroke-width="0.6"/>
<path d="M73.70 292.60 L76.50 291.85 L76.50 293.35 Z" fill="#1c1c1c" stroke="#1c1c1c" stroke-width="0.3"/>
<path d="M84.07 293.00L84.37 293.00L84.37 293.30L84.07 293.30L84.07 293.00M86.44 290.90L87.04 290.30L87.04 293.30M89.16 290.30L90.16 290.30L90.67 290.80L90.67 291.30L90.16 291.80L89.16 291.80L88.65 291.30L88.65 290.80L89.16 290.30M89.16 291.80L88.65 292.30L88.65 292.80L89.16 293.30L90.16 293.30L90.67 292.80L90.67 292.30L90.16 291.80M91.98 290.30L91.98 291.20M92.78 290.30L92.78 291.20" fill="none" stroke="#1a1a1a" stroke-width="0.56" stroke-linecap="round" stroke-linejoin="round"/>
<path d="M84.77 294.70L86.79 294.70M85.78 294.70L85.78 297.70M87.49 294.70L88.50 296.20L89.51 294.70M88.50 296.20L88.50 297.70M90.21 297.70L90.21 294.70L91.72 294.70L92.23 295.20L92.23 295.70L91.72 296.20L90.21 296.20" fill="none" stroke="#1a1a1a" stroke-width="0.56" stroke-linecap="round" stroke-linejoin="round"/>
<line x1="71.70" y1="302.70" x2="81.00" y2="302.70" stroke="#1c1c1c" stroke-width="0.6"/>
<line x1="96.00" y1="302.70" x2="106.40" y2="302.70" stroke="#1c1c1c" stroke-width="0.6"/>
<path d="M71.70 302.70 L74.90 301.95 L74.90 303.45 Z" fill="#1c1c1c" stroke="#1c1c1c" stroke-width="0.3"/>
<path d="M106.40 302.70 L103.20 303.45 L103.20 301.95 Z" fill="#1c1c1c" stroke="#1c1c1c" stroke-width="0.3"/>
<path d="M82.51 301.80L83.12 301.20L83.12 304.20M85.61 303.90L85.91 303.90L85.91 304.20L85.61 304.20L85.61 303.90M89.51 301.20L87.49 301.20L87.49 302.50L89.01 302.50L89.51 303.00L89.51 303.70L89.01 304.20L87.99 304.20L87.49 303.70M90.74 301.20L91.75 301.20L92.26 301.70L92.26 302.20L91.75 302.70L90.74 302.70L90.23 302.20L90.23 301.70L90.74 301.20M90.74 302.70L90.23 303.20L90.23 303.70L90.74 304.20L91.75 304.20L92.26 303.70L92.26 303.20L91.75 302.70M93.58 301.20L93.58 302.10M94.39 301.20L94.39 302.10" fill="none" stroke="#1a1a1a" stroke-width="0.56" stroke-linecap="round" stroke-linejoin="round"/>
<path d="M84.87 305.70L86.89 305.70M85.88 305.70L85.88 308.70M87.59 305.70L88.60 307.20L89.61 305.70M88.60 307.20L88.60 308.70M90.31 308.70L90.31 305.70L91.82 305.70L92.33 306.20L92.33 306.70L91.82 307.20L90.31 307.20" fill="none" stroke="#1a1a1a" stroke-width="0.56" stroke-linecap="round" stroke-linejoin="round"/>
<line x1="114.50" y1="283.00" x2="114.50" y2="306.00" stroke="#1c1c1c" stroke-width="0.5"/>
<line x1="114.50" y1="302.70" x2="121.50" y2="302.70" stroke="#1c1c1c" stroke-width="0.6"/>
<path d="M114.50 302.70 L117.30 301.95 L117.30 303.45 Z" fill="#1c1c1c" stroke="#1c1c1c" stroke-width="0.3"/>
<path d="M106.40 302.70 L103.60 303.45 L103.60 301.95 Z" fill="#1c1c1c" stroke="#1c1c1c" stroke-width="0.3"/>
<path d="M124.77 303.20L125.07 303.20L125.07 303.50L124.77 303.50L124.77 303.20M126.63 300.50L128.65 300.50L127.64 301.75L128.14 301.75L128.65 302.25L128.65 303.00L128.14 303.50L127.14 303.50L126.63 303.00M129.86 300.50L130.86 300.50L131.37 301.00L131.37 301.50L130.86 302.00L129.86 302.00L129.35 301.50L129.35 301.00L129.86 300.50M129.86 302.00L129.35 302.50L129.35 303.00L129.86 303.50L130.86 303.50L131.37 303.00L131.37 302.50L130.86 302.00M132.68 300.50L132.68 301.40M133.48 300.50L133.48 301.40" fill="none" stroke="#1a1a1a" stroke-width="0.56" stroke-linecap="round" stroke-linejoin="round"/>
<path d="M125.47 304.90L127.49 304.90M126.48 304.90L126.48 307.90M128.19 304.90L129.20 306.40L130.21 304.90M129.20 306.40L129.20 307.90M130.91 307.90L130.91 304.90L132.42 304.90L132.93 305.40L132.93 305.90L132.42 306.40L130.91 306.40" fill="none" stroke="#1a1a1a" stroke-width="0.56" stroke-linecap="round" stroke-linejoin="round"/>
<path d="M49.20 321.42L49.20 317.38L50.47 320.07L51.75 317.38L51.75 321.42M52.64 321.42L53.92 317.38L55.19 321.42M53.15 320.07L54.68 320.07M58.63 318.06L58.00 317.38L56.72 317.38L56.09 318.06L56.09 320.74L56.72 321.42L58.00 321.42L58.63 320.74M59.53 317.38L59.53 321.42M62.08 317.38L62.08 321.42M59.53 319.40L62.08 319.40M64.25 317.38L64.25 321.42M63.61 317.38L64.88 317.38M63.61 321.42L64.88 321.42M66.42 321.42L66.42 317.38L68.96 321.42L68.96 317.38M72.41 317.38L69.86 317.38L69.86 321.42L72.41 321.42M69.86 319.40L71.77 319.40M79.29 318.06L78.66 317.38L77.38 317.38L76.75 318.06L76.75 318.73L77.38 319.40L78.66 319.40L79.29 320.07L79.29 320.74L78.66 321.42L77.38 321.42L76.75 320.74M80.19 321.42L80.19 317.38L82.10 317.38L82.74 318.06L82.74 318.73L82.10 319.40L80.19 319.40M86.18 317.38L83.63 317.38L83.63 321.42L86.18 321.42M83.63 319.40L85.54 319.40M89.62 317.38L87.08 317.38L87.08 321.42L89.62 321.42M87.08 319.40L88.99 319.40M90.52 317.38L90.52 321.42L92.11 321.42L93.07 320.41L93.07 318.39L92.11 317.38L90.52 317.38M98.68 317.38L98.68 321.42M98.04 317.38L99.32 317.38M98.04 321.42L99.32 321.42M100.85 321.42L100.85 317.38L103.40 321.42L103.40 317.38M104.29 317.38L104.29 321.42L105.88 321.42L106.84 320.41L106.84 318.39L105.88 317.38L104.29 317.38M109.01 317.38L109.01 321.42M108.37 317.38L109.65 317.38M108.37 321.42L109.65 321.42M113.73 318.06L113.09 317.38L111.82 317.38L111.18 318.06L111.18 320.74L111.82 321.42L113.09 321.42L113.73 320.74M114.62 321.42L115.90 317.38L117.17 321.42M115.13 320.07L116.66 320.07M118.07 317.38L120.61 317.38M119.34 317.38L119.34 321.42M122.15 317.38L123.42 317.38L124.06 318.06L124.06 320.74L123.42 321.42L122.15 321.42L121.51 320.74L121.51 318.06L122.15 317.38M124.95 321.42L124.95 317.38L126.86 317.38L127.50 318.06L127.50 318.73L126.86 319.40L124.95 319.40M126.23 319.40L127.50 321.42" fill="none" stroke="#1a1a1a" stroke-width="0.65" stroke-linecap="round" stroke-linejoin="round"/>
<line x1="46.00" y1="322.50" x2="130.50" y2="322.50" stroke="#1c1c1c" stroke-width="0.7"/>
<path d="M48.26 327.80L47.74 327.30L46.71 327.30L46.20 327.80L46.20 328.30L46.71 328.80L47.74 328.80L48.26 329.30L48.26 329.80L47.74 330.30L46.71 330.30L46.20 329.80M51.04 327.80L50.52 327.30L49.49 327.30L48.98 327.80L48.98 329.80L49.49 330.30L50.52 330.30L51.04 329.80M51.76 330.30L52.79 327.30L53.82 330.30M52.17 329.30L53.41 329.30M54.54 327.30L54.54 330.30L56.60 330.30M59.38 327.30L57.32 327.30L57.32 330.30L59.38 330.30M57.32 328.80L58.86 328.80M63.40 327.90L64.01 327.30L64.01 330.30M66.54 328.20L66.85 328.20L66.85 328.50L66.54 328.50L66.54 328.20M66.54 330.00L66.85 330.00L66.85 330.30L66.54 330.30L66.54 330.00M68.96 327.90L69.57 327.30L69.57 330.30" fill="none" stroke="#1a1a1a" stroke-width="0.56" stroke-linecap="round" stroke-linejoin="round"/>
<path d="M89.01 327.90L89.61 327.30L89.61 330.30M91.49 328.80L93.01 328.80M93.98 330.30L93.98 327.30L95.50 327.30L96.00 327.80L96.00 328.30L95.50 328.80L93.98 328.80M94.99 328.80L96.00 330.30M98.74 327.30L96.71 327.30L96.71 330.30L98.74 330.30M96.71 328.80L98.23 328.80M99.96 327.30L100.97 327.30L101.48 327.80L101.48 329.80L100.97 330.30L99.96 330.30L99.45 329.80L99.45 327.80L99.96 327.30M100.72 329.55L101.48 330.45M103.20 327.30L103.20 328.20M104.93 327.30L104.93 330.30L106.20 330.30L106.96 329.55L106.96 328.05L106.20 327.30L104.93 327.30M110.41 327.30L112.43 327.30M111.42 327.30L111.42 330.30M114.01 330.00L114.31 330.00L114.31 330.30L114.01 330.30L114.01 330.00M117.91 327.80L117.40 327.30L116.39 327.30L115.88 327.80L115.88 328.30L116.39 328.80L117.40 328.80L117.91 329.30L117.91 329.80L117.40 330.30L116.39 330.30L115.88 329.80M119.48 330.00L119.79 330.00L119.79 330.30L119.48 330.30L119.48 330.00M121.87 327.30L122.88 327.30L123.39 327.80L123.39 329.80L122.88 330.30L121.87 330.30L121.36 329.80L121.36 327.80L121.87 327.30M124.10 330.30L124.10 327.30L126.12 330.30L126.12 327.30M126.84 327.30L126.84 330.30L128.86 330.30M129.57 327.30L130.59 328.80L131.60 327.30M130.59 328.80L130.59 330.30" fill="none" stroke="#1a1a1a" stroke-width="0.56" stroke-linecap="round" stroke-linejoin="round"/>
<rect x="264.30" y="44.50" width="38.30" height="12.00" rx="0" fill="none" stroke="#1c1c1c" stroke-width="0.9"/>
<line x1="264.30" y1="20.00" x2="264.30" y2="44.50" stroke="#1c1c1c" stroke-width="0.6"/>
<line x1="302.60" y1="20.00" x2="302.60" y2="44.50" stroke="#1c1c1c" stroke-width="0.6"/>
<line x1="264.30" y1="23.60" x2="276.00" y2="23.60" stroke="#1c1c1c" stroke-width="0.6"/>
<line x1="291.00" y1="23.60" x2="302.60" y2="23.60" stroke="#1c1c1c" stroke-width="0.6"/>
<path d="M264.30 23.60 L267.50 22.85 L267.50 24.35 Z" fill="#1c1c1c" stroke="#1c1c1c" stroke-width="0.3"/>
<path d="M302.60 23.60 L299.40 24.35 L299.40 22.85 Z" fill="#1c1c1c" stroke="#1c1c1c" stroke-width="0.3"/>
<path d="M276.50 21.70L278.69 21.70L277.59 22.95L278.14 22.95L278.69 23.45L278.69 24.20L278.14 24.70L277.05 24.70L276.50 24.20M280.38 24.40L280.71 24.40L280.71 24.70L280.38 24.70L280.38 24.40M284.59 21.70L282.41 21.70L282.41 23.00L284.05 23.00L284.59 23.50L284.59 24.20L284.05 24.70L282.95 24.70L282.41 24.20M285.91 21.70L287.00 21.70L287.55 22.20L287.55 24.20L287.00 24.70L285.91 24.70L285.36 24.20L285.36 22.20L285.91 21.70M288.97 21.70L288.97 22.60M289.84 21.70L289.84 22.60" fill="none" stroke="#1a1a1a" stroke-width="0.56" stroke-linecap="round" stroke-linejoin="round"/>
<path d="M279.87 29.10L279.87 26.10L281.38 26.10L281.89 26.60L281.89 27.10L281.38 27.60L279.87 27.60M280.88 27.60L281.89 29.10M284.61 26.10L282.59 26.10L282.59 29.10L284.61 29.10M282.59 27.60L284.10 27.60M287.33 26.10L285.31 26.10L285.31 29.10M285.31 27.60L286.82 27.60" fill="none" stroke="#1a1a1a" stroke-width="0.56" stroke-linecap="round" stroke-linejoin="round"/>
<line x1="268.90" y1="32.00" x2="268.90" y2="51.50" stroke="#1c1c1c" stroke-width="0.6"/>
<line x1="298.40" y1="32.00" x2="298.40" y2="51.50" stroke="#1c1c1c" stroke-width="0.6"/>
<line x1="268.90" y1="36.00" x2="276.00" y2="36.00" stroke="#1c1c1c" stroke-width="0.6"/>
<line x1="291.00" y1="36.00" x2="298.40" y2="36.00" stroke="#1c1c1c" stroke-width="0.6"/>
<path d="M268.90 36.00 L272.10 35.25 L272.10 36.75 Z" fill="#1c1c1c" stroke="#1c1c1c" stroke-width="0.3"/>
<path d="M298.40 36.00 L295.20 36.75 L295.20 35.25 Z" fill="#1c1c1c" stroke="#1c1c1c" stroke-width="0.3"/>
<path d="M276.50 35.00L277.05 34.50L278.14 34.50L278.69 35.00L278.69 35.60L276.50 37.50L278.69 37.50M280.38 37.20L280.71 37.20L280.71 37.50L280.38 37.50L280.38 37.20M284.32 34.50L283.50 34.50L282.41 35.50L282.41 37.00L282.95 37.50L284.05 37.50L284.59 37.00L284.59 36.50L284.05 36.00L282.95 36.00L282.41 36.50M285.36 34.50L287.55 34.50L286.18 37.50M288.97 34.50L288.97 35.40M289.84 34.50L289.84 35.40" fill="none" stroke="#1a1a1a" stroke-width="0.56" stroke-linecap="round" stroke-linejoin="round"/>
<path d="M246.82 37.20L247.10 37.20L247.10 37.50L246.82 37.50L246.82 37.20M250.03 37.50L250.03 34.50L248.59 36.50L250.51 36.50M251.67 35.10L252.24 34.50L252.24 37.50M254.36 34.50L254.36 35.40M255.12 34.50L255.12 35.40" fill="none" stroke="#1a1a1a" stroke-width="0.56" stroke-linecap="round" stroke-linejoin="round"/>
<line x1="257.00" y1="36.00" x2="264.30" y2="36.00" stroke="#1c1c1c" stroke-width="0.6"/>
<path d="M264.30 36.00 L261.50 36.75 L261.50 35.25 Z" fill="#1c1c1c" stroke="#1c1c1c" stroke-width="0.3"/>
<circle cx="268.90" cy="50.50" r="0.9" fill="#1c1c1c" stroke="#1c1c1c" stroke-width="0.5"/>
<circle cx="298.40" cy="50.50" r="0.9" fill="#1c1c1c" stroke="#1c1c1c" stroke-width="0.5"/>
<line x1="235.00" y1="44.50" x2="264.30" y2="44.50" stroke="#1c1c1c" stroke-width="0.6"/>
<line x1="235.00" y1="56.50" x2="264.30" y2="56.50" stroke="#1c1c1c" stroke-width="0.6"/>
<line x1="248.30" y1="50.50" x2="271.00" y2="50.50" stroke="#1c1c1c" stroke-width="0.6"/>
<line x1="238.20" y1="44.50" x2="238.20" y2="62.50" stroke="#1c1c1c" stroke-width="0.6"/>
<path d="M238.20 44.50 L238.95 47.70 L237.45 47.70 Z" fill="#1c1c1c" stroke="#1c1c1c" stroke-width="0.3"/>
<path d="M238.20 56.50 L237.45 53.30 L238.95 53.30 Z" fill="#1c1c1c" stroke="#1c1c1c" stroke-width="0.3"/>
<line x1="251.70" y1="44.50" x2="251.70" y2="62.50" stroke="#1c1c1c" stroke-width="0.6"/>
<path d="M251.70 44.50 L252.45 47.70 L250.95 47.70 Z" fill="#1c1c1c" stroke="#1c1c1c" stroke-width="0.3"/>
<path d="M251.70 56.50 L252.45 59.70 L250.95 59.70 Z" fill="#1c1c1c" stroke="#1c1c1c" stroke-width="0.3"/>
<path d="M232.49 65.10L233.07 64.50L233.07 67.50M235.47 67.20L235.76 67.20L235.76 67.50L235.47 67.50L235.47 67.20M237.76 65.10L238.35 64.50L238.35 67.50M239.91 64.50L241.86 64.50L240.89 65.75L241.38 65.75L241.86 66.25L241.86 67.00L241.38 67.50L240.40 67.50L239.91 67.00M243.13 64.50L243.13 65.40M243.91 64.50L243.91 65.40" fill="none" stroke="#1a1a1a" stroke-width="0.56" stroke-linecap="round" stroke-linejoin="round"/>
<path d="M234.77 71.90L234.77 68.90L236.28 68.90L236.79 69.40L236.79 69.90L236.28 70.40L234.77 70.40M235.78 70.40L236.79 71.90M239.51 68.90L237.49 68.90L237.49 71.90L239.51 71.90M237.49 70.40L239.00 70.40M242.23 68.90L240.21 68.90L240.21 71.90M240.21 70.40L241.72 70.40" fill="none" stroke="#1a1a1a" stroke-width="0.56" stroke-linecap="round" stroke-linejoin="round"/>
<path d="M247.47 67.20L247.77 67.20L247.77 67.50L247.47 67.50L247.47 67.20M251.35 64.50L249.33 64.50L249.33 65.80L250.84 65.80L251.35 66.30L251.35 67.00L250.84 67.50L249.84 67.50L249.33 67.00M253.81 64.50L253.06 64.50L252.05 65.50L252.05 67.00L252.56 67.50L253.56 67.50L254.07 67.00L254.07 66.50L253.56 66.00L252.56 66.00L252.05 66.50M255.38 64.50L255.38 65.40M256.18 64.50L256.18 65.40" fill="none" stroke="#1a1a1a" stroke-width="0.56" stroke-linecap="round" stroke-linejoin="round"/>
<path d="M248.27 68.90L250.29 68.90M249.28 68.90L249.28 71.90M250.99 68.90L252.00 70.40L253.01 68.90M252.00 70.40L252.00 71.90M253.71 71.90L253.71 68.90L255.22 68.90L255.73 69.40L255.73 69.90L255.22 70.40L253.71 70.40" fill="none" stroke="#1a1a1a" stroke-width="0.56" stroke-linecap="round" stroke-linejoin="round"/>
<path d="M304.50 65.20 L296.00 65.20 L294.60 62.50 L298.10 51.20" fill="none" stroke="#1c1c1c" stroke-width="0.6"/>
<path d="M298.10 51.20 L297.87 54.48 L296.44 54.03 Z" fill="#1c1c1c" stroke="#1c1c1c" stroke-width="0.3"/>
<path d="M307.13 66.40L307.43 66.40L307.43 66.70L307.13 66.70L307.13 66.40M309.44 64.30L310.03 63.70L310.03 66.70M312.09 63.70L313.07 63.70L313.56 64.20L313.56 64.70L313.07 65.20L312.09 65.20L311.60 64.70L311.60 64.20L312.09 63.70M312.09 65.20L311.60 65.70L311.60 66.20L312.09 66.70L313.07 66.70L313.56 66.20L313.56 65.70L313.07 65.20M314.84 63.70L314.84 64.60M315.62 63.70L315.62 64.60M316.90 63.70L316.90 66.70L318.12 66.70L318.86 65.95L318.86 64.45L318.12 63.70L316.90 63.70M319.55 66.70L319.55 63.70L321.02 63.70L321.51 64.20L321.51 64.70L321.02 65.20L319.55 65.20M320.53 65.20L321.51 66.70M323.03 66.40L323.32 66.40L323.32 66.70L323.03 66.70L323.03 66.40M325.09 65.20L326.56 65.20M327.49 63.70L329.45 63.70M328.47 63.70L328.47 66.70M330.14 63.70L330.14 66.70M332.10 63.70L332.10 66.70M330.14 65.20L332.10 65.20M332.79 66.70L332.79 63.70L334.26 63.70L334.75 64.20L334.75 64.70L334.26 65.20L332.79 65.20M333.77 65.20L334.75 66.70M335.44 63.70L335.44 66.20L335.93 66.70L336.91 66.70L337.40 66.20L337.40 63.70" fill="none" stroke="#1a1a1a" stroke-width="0.56" stroke-linecap="round" stroke-linejoin="round"/>
<path d="M306.30 68.00L308.21 68.00M307.25 68.00L307.25 71.00M308.88 68.00L309.83 69.50L310.79 68.00M309.83 69.50L309.83 71.00M311.46 71.00L311.46 68.00L312.89 68.00L313.37 68.50L313.37 69.00L312.89 69.50L311.46 69.50M316.62 68.50L317.09 68.00L318.05 68.00L318.53 68.50L318.53 69.10L316.62 71.00L318.53 71.00M319.43 69.50L320.87 69.50M321.77 68.00L321.77 71.00M323.68 68.00L323.68 71.00M321.77 69.50L323.68 69.50M324.83 68.00L325.79 68.00L326.26 68.50L326.26 70.50L325.79 71.00L324.83 71.00L324.35 70.50L324.35 68.50L324.83 68.00M326.93 68.00L326.93 71.00L328.84 71.00M331.42 68.00L329.51 68.00L329.51 71.00L331.42 71.00M329.51 69.50L330.94 69.50M334.00 68.50L333.52 68.00L332.57 68.00L332.09 68.50L332.09 69.00L332.57 69.50L333.52 69.50L334.00 70.00L334.00 70.50L333.52 71.00L332.57 71.00L332.09 70.50" fill="none" stroke="#1a1a1a" stroke-width="0.56" stroke-linecap="round" stroke-linejoin="round"/>
<path d="M294.20 77.30 L288.90 77.30 L280.10 56.90" fill="none" stroke="#1c1c1c" stroke-width="0.6"/>
<path d="M280.10 56.90 L282.06 59.54 L280.68 60.14 Z" fill="#1c1c1c" stroke="#1c1c1c" stroke-width="0.3"/>
<path d="M297.28 76.30L296.79 75.80L295.80 75.80L295.30 76.30L295.30 76.80L295.80 77.30L296.79 77.30L297.28 77.80L297.28 78.30L296.79 78.80L295.80 78.80L295.30 78.30M297.98 75.80L297.98 78.80M299.96 75.80L299.96 78.80M297.98 77.30L299.96 77.30M302.64 75.80L300.66 75.80L300.66 78.80L302.64 78.80M300.66 77.30L302.15 77.30M305.32 75.80L303.34 75.80L303.34 78.80L305.32 78.80M303.34 77.30L304.83 77.30M306.02 75.80L308.00 75.80M307.01 75.80L307.01 78.80M308.95 77.30L310.43 77.30M313.36 76.30L312.87 75.80L311.87 75.80L311.38 76.30L311.38 76.80L311.87 77.30L312.87 77.30L313.36 77.80L313.36 78.30L312.87 78.80L311.87 78.80L311.38 78.30M314.06 78.80L316.04 75.80M318.72 76.30L318.22 75.80L317.23 75.80L316.74 76.30L316.74 76.80L317.23 77.30L318.22 77.30L318.72 77.80L318.72 78.30L318.22 78.80L317.23 78.80L316.74 78.30M320.26 76.70L320.56 76.70L320.56 77.00L320.26 77.00L320.26 76.70M320.26 78.50L320.56 78.50L320.56 78.80L320.26 78.80L320.26 78.50" fill="none" stroke="#1a1a1a" stroke-width="0.56" stroke-linecap="round" stroke-linejoin="round"/>
<path d="M286.69 80.60L287.27 80.00L287.27 83.00M290.31 83.00L290.31 80.00L288.84 82.00L290.79 82.00M293.43 80.50L292.95 80.00L291.97 80.00L291.48 80.50L291.48 82.50L291.97 83.00L292.95 83.00L293.43 82.50L293.43 81.50L292.70 81.50M294.12 83.00L295.10 80.00L296.08 83.00M294.51 82.00L295.68 82.00M297.59 82.70L297.89 82.70L297.89 83.00L297.59 83.00L297.59 82.70M299.65 81.25L301.11 83.00M301.11 81.25L299.65 83.00M302.53 80.60L303.12 80.00L303.12 83.00M305.51 82.70L305.81 82.70L305.81 83.00L305.51 83.00L305.51 82.70M307.81 80.60L308.40 80.00L308.40 83.00M309.96 80.00L311.92 80.00L310.94 81.25L311.43 81.25L311.92 81.75L311.92 82.50L311.43 83.00L310.45 83.00L309.96 82.50M313.19 80.00L313.19 80.90M313.97 80.00L313.97 80.90M315.49 81.25L316.95 83.00M316.95 81.25L315.49 83.00M317.88 80.00L319.84 80.00L318.86 81.25L319.35 81.25L319.84 81.75L319.84 82.50L319.35 83.00L318.37 83.00L317.88 82.50M321.36 82.70L321.65 82.70L321.65 83.00L321.36 83.00L321.36 82.70M325.12 80.00L323.17 80.00L323.17 81.30L324.63 81.30L325.12 81.80L325.12 82.50L324.63 83.00L323.65 83.00L323.17 82.50M326.29 80.00L327.27 80.00L327.76 80.50L327.76 82.50L327.27 83.00L326.29 83.00L325.81 82.50L325.81 80.50L326.29 80.00M329.03 80.00L329.03 80.90M329.81 80.00L329.81 80.90" fill="none" stroke="#1a1a1a" stroke-width="0.56" stroke-linecap="round" stroke-linejoin="round"/>
<path d="M299.69 84.70L300.15 84.10L300.15 87.10M301.59 85.60L302.75 85.60M303.48 87.10L303.48 84.10L304.65 84.10L305.03 84.60L305.03 85.10L304.65 85.60L303.48 85.60M304.26 85.60L305.03 87.10M307.12 84.10L305.58 84.10L305.58 87.10L307.12 87.10M305.58 85.60L306.74 85.60M308.05 84.10L308.83 84.10L309.22 84.60L309.22 86.60L308.83 87.10L308.05 87.10L307.67 86.60L307.67 84.60L308.05 84.10M308.64 86.35L309.22 87.25M310.53 84.10L310.53 85.00M311.85 84.10L311.85 87.10L312.82 87.10L313.40 86.35L313.40 84.85L312.82 84.10L311.85 84.10" fill="none" stroke="#1a1a1a" stroke-width="0.56" stroke-linecap="round" stroke-linejoin="round"/>
<path d="M258.10 93.42L258.10 89.38L260.05 89.38L260.70 90.06L260.70 90.73L260.05 91.40L258.10 91.40M259.40 91.40L260.70 93.42M264.20 89.38L261.61 89.38L261.61 93.42L264.20 93.42M261.61 91.40L263.55 91.40M265.12 89.38L267.71 89.38M266.41 89.38L266.41 93.42M268.62 93.42L269.92 89.38L271.22 93.42M269.14 92.07L270.70 92.07M273.43 89.38L273.43 93.42M272.78 89.38L274.08 89.38M272.78 93.42L274.08 93.42M275.64 93.42L275.64 89.38L278.24 93.42L278.24 89.38M281.74 89.38L279.15 89.38L279.15 93.42L281.74 93.42M279.15 91.40L281.09 91.40M282.66 93.42L282.66 89.38L284.60 89.38L285.25 90.06L285.25 90.73L284.60 91.40L282.66 91.40M283.95 91.40L285.25 93.42M289.67 93.42L289.67 89.38L291.62 89.38L292.27 90.06L292.27 90.73L291.62 91.40L289.67 91.40M293.18 89.38L293.18 93.42L295.78 93.42M296.69 93.42L297.99 89.38L299.28 93.42M297.21 92.07L298.76 92.07M300.20 89.38L302.79 89.38M301.49 89.38L301.49 93.42M306.30 89.38L303.70 89.38L303.70 93.42L306.30 93.42M303.70 91.40L305.65 91.40" fill="none" stroke="#1a1a1a" stroke-width="0.65" stroke-linecap="round" stroke-linejoin="round"/>
<line x1="250.00" y1="95.20" x2="315.00" y2="95.20" stroke="#1c1c1c" stroke-width="1.3"/>
<path d="M271.69 98.40L271.17 97.90L270.12 97.90L269.60 98.40L269.60 98.90L270.12 99.40L271.17 99.40L271.69 99.90L271.69 100.40L271.17 100.90L270.12 100.90L269.60 100.40M274.52 98.40L273.99 97.90L272.95 97.90L272.43 98.40L272.43 100.40L272.95 100.90L273.99 100.90L274.52 100.40M275.25 100.90L276.30 97.90L277.34 100.90M275.67 99.90L276.93 99.90M278.08 97.90L278.08 100.90L280.17 100.90M283.00 97.90L280.90 97.90L280.90 100.90L283.00 100.90M280.90 99.40L282.47 99.40M287.08 98.50L287.71 97.90L287.71 100.90M290.27 98.80L290.59 98.80L290.59 99.10L290.27 99.10L290.27 98.80M290.27 100.60L290.59 100.60L290.59 100.90L290.27 100.90L290.27 100.60M292.21 98.40L292.73 97.90L293.78 97.90L294.30 98.40L294.30 99.00L292.21 100.90L294.30 100.90" fill="none" stroke="#1a1a1a" stroke-width="0.56" stroke-linecap="round" stroke-linejoin="round"/>
<path d="M261.51 103.40L262.12 102.80L262.12 105.80M264.01 104.30L265.53 104.30M266.50 105.80L266.50 102.80L268.03 102.80L268.54 103.30L268.54 103.80L268.03 104.30L266.50 104.30M267.52 104.30L268.54 105.80M271.29 102.80L269.25 102.80L269.25 105.80L271.29 105.80M269.25 104.30L270.78 104.30M272.51 102.80L273.53 102.80L274.04 103.30L274.04 105.30L273.53 105.80L272.51 105.80L272.00 105.30L272.00 103.30L272.51 102.80M273.28 105.05L274.04 105.95M275.77 102.80L275.77 103.70M277.51 102.80L277.51 105.80L278.78 105.80L279.54 105.05L279.54 103.55L278.78 102.80L277.51 102.80M283.01 102.80L285.04 102.80M284.03 102.80L284.03 105.80M286.62 105.50L286.93 105.50L286.93 105.80L286.62 105.80L286.62 105.50M290.55 103.30L290.04 102.80L289.02 102.80L288.51 103.30L288.51 103.80L289.02 104.30L290.04 104.30L290.55 104.80L290.55 105.30L290.04 105.80L289.02 105.80L288.51 105.30M292.13 105.50L292.43 105.50L292.43 105.80L292.13 105.80L292.13 105.50M294.52 102.80L295.54 102.80L296.05 103.30L296.05 105.30L295.54 105.80L294.52 105.80L294.01 105.30L294.01 103.30L294.52 102.80M296.76 105.80L296.76 102.80L298.80 105.80L298.80 102.80M299.51 102.80L299.51 105.80L301.55 105.80M302.26 102.80L303.28 104.30L304.30 102.80M303.28 104.30L303.28 105.80" fill="none" stroke="#1a1a1a" stroke-width="0.56" stroke-linecap="round" stroke-linejoin="round"/>
<line x1="355.80" y1="235.20" x2="459.60" y2="235.20" stroke="#1c1c1c" stroke-width="0.7"/>
<path d="M359.80 235.20 L359.81 233.05 L359.83 230.91 L359.86 228.77 L359.91 226.62 L359.97 224.48 L360.04 222.33 L360.13 220.19 L360.23 218.05 L360.34 215.90 L360.46 213.76 L360.60 211.62 L360.76 209.48 L360.92 207.34 L361.10 205.21 L361.29 203.07 L361.50 200.94 L361.72 198.80 L361.95 196.67 L362.20 194.54 L362.45 192.41 L362.73 190.28 L363.01 188.16 L363.31 186.03 L363.62 183.91 L363.94 181.79 L364.28 179.67 L364.63 177.55 L365.00 175.44 L365.37 173.33 L365.76 171.22 L366.17 169.11 L366.58 167.01 L367.01 164.91 L367.45 162.81 L367.91 160.71 L368.38 158.62 L368.86 156.53 L369.35 154.44 L369.86 152.36 L370.38 150.27" fill="none" stroke="#1c1c1c" stroke-width="0.6"/>
<path d="M373.72 138.03 L374.30 136.05 L374.90 134.07 L375.51 132.09 L376.13 130.12 L376.77 128.15 L377.41 126.18 L378.07 124.22 L378.74 122.26 L379.42 120.31 L380.11 118.36 L380.82 116.41 L381.53 114.47 L382.26 112.53 L383.00 110.60 L383.75 108.67 L384.51 106.74 L385.29 104.83 L386.07 102.91 L386.87 101.00 L387.68 99.10 L388.50 97.19 L389.33 95.30 L390.17 93.41 L391.02 91.52 L391.89 89.64 L392.76 87.77 L393.65 85.90 L394.55 84.03 L395.46 82.17 L396.38 80.32 L397.31 78.47 L398.25 76.63 L399.20 74.79 L400.17 72.96 L401.14 71.14 L402.13 69.32 L403.13 67.50 L404.13 65.70 L405.15 63.90 L406.18 62.10" fill="none" stroke="#1c1c1c" stroke-width="0.6"/>
<path d="M359.80 235.20 L359.05 232.00 L360.55 232.00 Z" fill="#1c1c1c" stroke="#1c1c1c" stroke-width="0.3"/>
<path d="M406.18 62.10 L405.25 65.25 L403.94 64.51 Z" fill="#1c1c1c" stroke="#1c1c1c" stroke-width="0.3"/>
<path d="M367.77 141.80L369.79 141.80L368.78 143.05L369.28 143.05L369.79 143.55L369.79 144.30L369.28 144.80L368.28 144.80L367.77 144.30M371.00 141.80L372.00 141.80L372.51 142.30L372.51 144.30L372.00 144.80L371.00 144.80L370.49 144.30L370.49 142.30L371.00 141.80M373.82 141.80L374.62 141.80L374.62 142.65L373.82 142.65L373.82 141.80" fill="none" stroke="#1a1a1a" stroke-width="0.56" stroke-linecap="round" stroke-linejoin="round"/>
<line x1="403.00" y1="60.00" x2="535.50" y2="136.50" stroke="#1c1c1c" stroke-width="0.7"/>
<line x1="410.00" y1="66.60" x2="464.56" y2="98.10" stroke="#1c1c1c" stroke-width="0.7"/>
<path d="M467.69 97.35 L494.28 112.70 L491.18 118.07 L464.59 102.72 Z" fill="none" stroke="#1c1c1c" stroke-width="0.8"/>
<line x1="468.06" y1="98.72" x2="492.91" y2="113.07" stroke="#1c1c1c" stroke-width="0.7" stroke-dasharray="1 1"/>
<line x1="494.65" y1="114.07" x2="508.50" y2="122.07" stroke="#1c1c1c" stroke-width="0.7" stroke-dasharray="1 1"/>
<line x1="466.49" y1="99.43" x2="462.59" y2="97.18" stroke="#1c1c1c" stroke-width="0.6"/>
<line x1="463.79" y1="95.10" x2="461.49" y2="99.08" stroke="#1c1c1c" stroke-width="0.6"/>
<line x1="461.49" y1="99.08" x2="465.39" y2="101.33" stroke="#1c1c1c" stroke-width="0.6"/>
<line x1="491.18" y1="118.07" x2="522.36" y2="136.07" stroke="#1c1c1c" stroke-width="0.7"/>
<line x1="468.40" y1="104.30" x2="468.40" y2="231.50" stroke="#1c1c1c" stroke-width="0.7"/>
<line x1="490.30" y1="117.60" x2="490.30" y2="231.50" stroke="#1c1c1c" stroke-width="0.7"/>
<line x1="479.30" y1="112.00" x2="479.30" y2="252.00" stroke="#1c1c1c" stroke-width="0.45" stroke-dasharray="7 1.5 1.5 1.5" opacity="0.75"/>
<line x1="422.90" y1="104.30" x2="467.00" y2="104.30" stroke="#1c1c1c" stroke-width="0.6"/>
<line x1="425.90" y1="104.30" x2="425.90" y2="162.50" stroke="#1c1c1c" stroke-width="0.6"/>
<line x1="425.90" y1="169.00" x2="425.90" y2="235.20" stroke="#1c1c1c" stroke-width="0.6"/>
<path d="M425.90 104.30 L426.65 107.50 L425.15 107.50 Z" fill="#1c1c1c" stroke="#1c1c1c" stroke-width="0.3"/>
<path d="M425.90 235.20 L425.15 232.00 L426.65 232.00 Z" fill="#1c1c1c" stroke="#1c1c1c" stroke-width="0.3"/>
<path d="M417.50 164.70L418.03 164.20L419.10 164.20L419.63 164.70L419.63 165.30L417.50 167.20L419.63 167.20M421.97 167.20L421.97 164.20L420.37 166.20L422.50 166.20M424.15 166.90L424.47 166.90L424.47 167.20L424.15 167.20L424.15 166.90M426.66 164.20L427.72 164.20L428.25 164.70L428.25 166.70L427.72 167.20L426.66 167.20L426.12 166.70L426.12 164.70L426.66 164.20M429.00 164.70L429.53 164.20L430.59 164.20L431.13 164.70L431.13 165.30L429.00 167.20L431.13 167.20M432.51 164.20L432.51 165.10M433.36 164.20L433.36 165.10" fill="none" stroke="#1a1a1a" stroke-width="0.56" stroke-linecap="round" stroke-linejoin="round"/>
<rect x="459.60" y="231.50" width="38.70" height="3.80" rx="0" fill="none" stroke="#1c1c1c" stroke-width="0.8"/>
<line x1="463.20" y1="224.00" x2="463.20" y2="240.00" stroke="#1c1c1c" stroke-width="0.5" stroke-dasharray="3 1"/>
<line x1="494.70" y1="224.00" x2="494.70" y2="240.00" stroke="#1c1c1c" stroke-width="0.5" stroke-dasharray="3 1"/>
<line x1="468.40" y1="206.80" x2="490.30" y2="206.80" stroke="#1c1c1c" stroke-width="0.6"/>
<path d="M468.40 206.80 L471.60 206.05 L471.60 207.55 Z" fill="#1c1c1c" stroke="#1c1c1c" stroke-width="0.3"/>
<path d="M490.30 206.80 L487.10 207.55 L487.10 206.05 Z" fill="#1c1c1c" stroke="#1c1c1c" stroke-width="0.3"/>
<line x1="490.30" y1="206.80" x2="497.50" y2="206.80" stroke="#1c1c1c" stroke-width="0.6"/>
<path d="M500.19 208.00L500.19 205.00L498.70 207.00L500.68 207.00M502.22 207.70L502.52 207.70L502.52 208.00L502.22 208.00L502.22 207.70M504.55 205.00L505.55 205.00L506.04 205.50L506.04 207.50L505.55 208.00L504.55 208.00L504.06 207.50L504.06 205.50L504.55 205.00M507.23 205.00L508.22 205.00L508.72 205.50L508.72 207.50L508.22 208.00L507.23 208.00L506.74 207.50L506.74 205.50L507.23 205.00M510.01 205.00L510.01 205.90M510.81 205.00L510.81 205.90" fill="none" stroke="#1a1a1a" stroke-width="0.56" stroke-linecap="round" stroke-linejoin="round"/>
<path d="M501.27 212.40L501.27 209.40L502.78 209.40L503.29 209.90L503.29 210.40L502.78 210.90L501.27 210.90M502.28 210.90L503.29 212.40M506.01 209.40L503.99 209.40L503.99 212.40L506.01 212.40M503.99 210.90L505.50 210.90M508.73 209.40L506.71 209.40L506.71 212.40M506.71 210.90L508.22 210.90" fill="none" stroke="#1a1a1a" stroke-width="0.56" stroke-linecap="round" stroke-linejoin="round"/>
<line x1="459.60" y1="236.00" x2="459.60" y2="263.00" stroke="#1c1c1c" stroke-width="0.5"/>
<line x1="498.30" y1="236.00" x2="498.30" y2="263.00" stroke="#1c1c1c" stroke-width="0.5"/>
<line x1="459.60" y1="249.10" x2="479.30" y2="249.10" stroke="#1c1c1c" stroke-width="0.6"/>
<path d="M459.60 249.10 L462.80 248.35 L462.80 249.85 Z" fill="#1c1c1c" stroke="#1c1c1c" stroke-width="0.3"/>
<path d="M479.30 249.10 L476.10 249.85 L476.10 248.35 Z" fill="#1c1c1c" stroke="#1c1c1c" stroke-width="0.3"/>
<line x1="454.00" y1="249.10" x2="459.60" y2="249.10" stroke="#1c1c1c" stroke-width="0.6"/>
<path d="M441.50 247.20L443.37 247.20L442.44 248.45L442.91 248.45L443.37 248.95L443.37 249.70L442.91 250.20L441.97 250.20L441.50 249.70M444.83 249.90L445.11 249.90L445.11 250.20L444.83 250.20L444.83 249.90M448.44 247.20L446.56 247.20L446.56 248.50L447.97 248.50L448.44 249.00L448.44 249.70L447.97 250.20L447.03 250.20L446.56 249.70M449.56 247.20L450.50 247.20L450.97 247.70L450.97 249.70L450.50 250.20L449.56 250.20L449.09 249.70L449.09 247.70L449.56 247.20M452.19 247.20L452.19 248.10M452.94 247.20L452.94 248.10" fill="none" stroke="#1a1a1a" stroke-width="0.56" stroke-linecap="round" stroke-linejoin="round"/>
<path d="M443.87 254.70L443.87 251.70L445.38 251.70L445.89 252.20L445.89 252.70L445.38 253.20L443.87 253.20M444.88 253.20L445.89 254.70M448.61 251.70L446.59 251.70L446.59 254.70L448.61 254.70M446.59 253.20L448.10 253.20M451.33 251.70L449.31 251.70L449.31 254.70M449.31 253.20L450.82 253.20" fill="none" stroke="#1a1a1a" stroke-width="0.56" stroke-linecap="round" stroke-linejoin="round"/>
<line x1="459.60" y1="260.20" x2="472.50" y2="260.20" stroke="#1c1c1c" stroke-width="0.6"/>
<line x1="487.00" y1="260.20" x2="498.30" y2="260.20" stroke="#1c1c1c" stroke-width="0.6"/>
<path d="M459.60 260.20 L462.80 259.45 L462.80 260.95 Z" fill="#1c1c1c" stroke="#1c1c1c" stroke-width="0.3"/>
<path d="M498.30 260.20 L495.10 260.95 L495.10 259.45 Z" fill="#1c1c1c" stroke="#1c1c1c" stroke-width="0.3"/>
<path d="M473.00 258.30L475.11 258.30L473.79 261.30M476.74 261.00L477.06 261.00L477.06 261.30L476.74 261.30L476.74 261.00M479.22 258.30L480.28 258.30L480.80 258.80L480.80 260.80L480.28 261.30L479.22 261.30L478.70 260.80L478.70 258.80L479.22 258.30M482.07 258.30L483.12 258.30L483.65 258.80L483.65 260.80L483.12 261.30L482.07 261.30L481.54 260.80L481.54 258.80L482.07 258.30M485.02 258.30L485.02 259.20M485.87 258.30L485.87 259.20" fill="none" stroke="#1a1a1a" stroke-width="0.56" stroke-linecap="round" stroke-linejoin="round"/>
<path d="M476.07 265.80L476.07 262.80L477.58 262.80L478.09 263.30L478.09 263.80L477.58 264.30L476.07 264.30M477.08 264.30L478.09 265.80M480.81 262.80L478.79 262.80L478.79 265.80L480.81 265.80M478.79 264.30L480.30 264.30M483.53 262.80L481.51 262.80L481.51 265.80M481.51 264.30L483.02 264.30" fill="none" stroke="#1a1a1a" stroke-width="0.56" stroke-linecap="round" stroke-linejoin="round"/>
<path d="M517.50 175.00 L516.40 175.00 L490.70 164.70" fill="none" stroke="#1c1c1c" stroke-width="0.6"/>
<path d="M490.70 164.70 L495.29 165.35 L494.47 167.40 Z" fill="#1c1c1c" stroke="#1c1c1c" stroke-width="0.3"/>
<path d="M520.49 173.20L518.40 173.20L518.40 176.20L520.49 176.20M518.40 174.70L519.96 174.70M521.22 173.20L523.31 176.20M523.31 173.20L521.22 176.20M525.08 173.20L525.08 176.20M524.56 173.20L525.60 173.20M524.56 176.20L525.60 176.20M528.94 173.70L528.42 173.20L527.38 173.20L526.86 173.70L526.86 174.20L527.38 174.70L528.42 174.70L528.94 175.20L528.94 175.70L528.42 176.20L527.38 176.20L526.86 175.70M529.68 173.20L531.76 173.20M530.72 173.20L530.72 176.20M533.54 173.20L533.54 176.20M533.02 173.20L534.06 173.20M533.02 176.20L534.06 176.20M535.32 176.20L535.32 173.20L537.40 176.20L537.40 173.20M540.22 173.70L539.70 173.20L538.66 173.20L538.14 173.70L538.14 175.70L538.66 176.20L539.70 176.20L540.22 175.70L540.22 174.70L539.44 174.70M543.77 173.20L543.77 176.20L545.86 176.20M548.68 173.20L546.59 173.20L546.59 176.20L548.68 176.20M546.59 174.70L548.16 174.70M551.50 173.70L550.98 173.20L549.94 173.20L549.41 173.70L549.41 175.70L549.94 176.20L550.98 176.20L551.50 175.70L551.50 174.70L550.72 174.70" fill="none" stroke="#1a1a1a" stroke-width="0.56" stroke-linecap="round" stroke-linejoin="round"/>
<path d="M523.27 178.00L522.80 177.50L521.87 177.50L521.40 178.00L521.40 178.50L521.87 179.00L522.80 179.00L523.27 179.50L523.27 180.00L522.80 180.50L521.87 180.50L521.40 180.00M523.92 177.50L523.92 180.00L524.39 180.50L525.32 180.50L525.79 180.00L525.79 177.50M526.45 180.50L526.45 177.50L527.85 177.50L528.31 178.00L528.31 178.50L527.85 179.00L526.45 179.00M528.97 180.50L528.97 177.50L530.37 177.50L530.84 178.00L530.84 178.50L530.37 179.00L528.97 179.00M531.49 177.50L531.49 180.50L533.36 180.50M534.95 177.50L534.95 180.50M534.48 177.50L535.42 177.50M534.48 180.50L535.42 180.50M538.41 177.50L536.54 177.50L536.54 180.50L538.41 180.50M536.54 179.00L537.94 179.00M539.06 177.50L539.06 180.50L540.23 180.50L540.93 179.75L540.93 178.25L540.23 177.50L539.06 177.50M544.11 179.00L545.51 179.00L545.98 179.50L545.98 180.00L545.51 180.50L544.11 180.50L544.11 177.50L545.51 177.50L545.98 178.00L545.98 178.50L545.51 179.00M546.63 177.50L547.57 179.00L548.50 177.50M547.57 179.00L547.57 180.50" fill="none" stroke="#1a1a1a" stroke-width="0.56" stroke-linecap="round" stroke-linejoin="round"/>
<path d="M510.47 182.30L509.95 181.80L508.92 181.80L508.40 182.30L508.40 182.80L508.92 183.30L509.95 183.30L510.47 183.80L510.47 184.30L509.95 184.80L508.92 184.80L508.40 184.30M511.71 181.80L512.74 181.80L513.26 182.30L513.26 184.30L512.74 184.80L511.71 184.80L511.19 184.30L511.19 182.30L511.71 181.80M513.98 181.80L513.98 184.30L514.50 184.80L515.53 184.80L516.05 184.30L516.05 181.80M516.77 181.80L518.84 181.80M517.81 181.80L517.81 184.80M519.57 181.80L519.57 184.80M521.63 181.80L521.63 184.80M519.57 183.30L521.63 183.30M522.36 181.80L522.87 184.80L523.39 182.80L523.91 184.80L524.42 181.80M525.66 181.80L526.70 181.80L527.21 182.30L527.21 184.30L526.70 184.80L525.66 184.80L525.15 184.30L525.15 182.30L525.66 181.80M527.94 184.80L527.94 181.80L529.49 181.80L530.00 182.30L530.00 182.80L529.49 183.30L527.94 183.30M528.97 183.30L530.00 184.80M530.73 181.80L532.80 181.80M531.76 181.80L531.76 184.80M533.52 181.80L533.52 184.80M535.59 181.80L535.59 184.80M533.52 183.30L535.59 183.30M539.10 184.80L539.10 181.80L540.65 181.80L541.17 182.30L541.17 182.80L540.65 183.30L539.10 183.30M541.90 184.80L542.93 181.80L543.96 184.80M542.31 183.80L543.55 183.80M544.69 184.80L544.69 181.80L546.24 181.80L546.75 182.30L546.75 182.80L546.24 183.30L544.69 183.30M549.54 181.80L547.48 181.80L547.48 184.80L549.54 184.80M547.48 183.30L549.03 183.30M550.27 184.80L550.27 181.80L551.82 181.80L552.33 182.30L552.33 182.80L551.82 183.30L550.27 183.30M551.30 183.30L552.33 184.80M557.92 182.30L557.40 181.80L556.37 181.80L555.85 182.30L555.85 184.30L556.37 184.80L557.40 184.80L557.92 184.30M559.16 181.80L560.19 181.80L560.71 182.30L560.71 184.30L560.19 184.80L559.16 184.80L558.64 184.30L558.64 182.30L559.16 181.80M562.31 184.50L562.62 184.50L562.62 184.80L562.31 184.80L562.31 184.50" fill="none" stroke="#1a1a1a" stroke-width="0.56" stroke-linecap="round" stroke-linejoin="round"/>
<circle cx="457.90" cy="147.90" r="1.5" fill="none" stroke="#1c1c1c" stroke-width="0.7"/>
<line x1="435.70" y1="147.90" x2="456.40" y2="147.90" stroke="#1c1c1c" stroke-width="0.6"/>
<line x1="435.70" y1="147.90" x2="432.10" y2="143.60" stroke="#1c1c1c" stroke-width="0.6"/>
<line x1="435.70" y1="147.90" x2="432.10" y2="152.20" stroke="#1c1c1c" stroke-width="0.6"/>
<path d="M439.01 150.09L439.61 149.49L439.61 152.51M441.24 152.51L443.26 149.49M445.49 152.51L445.49 149.49L443.97 151.50L446.00 151.50" fill="none" stroke="#1a1a1a" stroke-width="0.56" stroke-linecap="round" stroke-linejoin="round"/>
<path d="M446.80 148.20 L448.40 152.30 L450.40 148.20" fill="none" stroke="#1c1c1c" stroke-width="0.6"/>
<line x1="458.80" y1="146.70" x2="477.90" y2="110.30" stroke="#1c1c1c" stroke-width="0.6"/>
<path d="M477.90 110.30 L477.08 113.48 L475.75 112.79 Z" fill="#1c1c1c" stroke="#1c1c1c" stroke-width="0.3"/>
<line x1="467.04" y1="99.28" x2="453.54" y2="122.66" stroke="#1c1c1c" stroke-width="0.6"/>
<line x1="468.20" y1="106.88" x2="457.70" y2="125.06" stroke="#1c1c1c" stroke-width="0.6"/>
<line x1="449.73" y1="115.27" x2="455.79" y2="118.77" stroke="#1c1c1c" stroke-width="0.6"/>
<path d="M455.79 118.77 L452.99 118.02 L453.74 116.72 Z" fill="#1c1c1c" stroke="#1c1c1c" stroke-width="0.3"/>
<line x1="465.14" y1="124.17" x2="459.95" y2="121.17" stroke="#1c1c1c" stroke-width="0.6"/>
<path d="M459.95 121.17 L462.75 121.92 L462.00 123.22 Z" fill="#1c1c1c" stroke="#1c1c1c" stroke-width="0.3"/>
<path d="M440.78 114.80L441.06 114.80L441.06 115.10L440.78 115.10L440.78 114.80M442.95 112.10L443.87 112.10L444.33 112.60L444.33 113.10L443.87 113.60L442.95 113.60L442.49 113.10L442.49 112.60L442.95 112.10M442.95 113.60L442.49 114.10L442.49 114.60L442.95 115.10L443.87 115.10L444.33 114.60L444.33 114.10L443.87 113.60M444.97 112.10L446.81 112.10L445.66 115.10M448.01 112.10L448.01 113.00M448.75 112.10L448.75 113.00" fill="none" stroke="#1a1a1a" stroke-width="0.56" stroke-linecap="round" stroke-linejoin="round"/>
<path d="M438.76 70.50L439.07 70.50L439.07 70.80L438.76 70.80L438.76 70.50M441.15 67.80L442.17 67.80L442.68 68.30L442.68 70.30L442.17 70.80L441.15 70.80L440.64 70.30L440.64 68.30L441.15 67.80M445.17 67.80L444.41 67.80L443.39 68.80L443.39 70.30L443.90 70.80L444.91 70.80L445.42 70.30L445.42 69.80L444.91 69.30L443.90 69.30L443.39 69.80M446.39 69.05L447.91 70.80M447.91 69.05L446.39 70.80M450.40 70.80L450.40 67.80L448.88 69.80L450.91 69.80M453.66 67.80L451.62 67.80L451.62 69.10L453.15 69.10L453.66 69.60L453.66 70.30L453.15 70.80L452.13 70.80L451.62 70.30M454.98 67.80L455.79 67.80L455.79 68.65L454.98 68.65L454.98 67.80" fill="none" stroke="#1a1a1a" stroke-width="0.56" stroke-linecap="round" stroke-linejoin="round"/>
<path d="M437.82 72.20L437.29 71.70L436.23 71.70L435.70 72.20L435.70 74.20L436.23 74.70L437.29 74.70L437.82 74.20M438.56 71.70L438.56 74.70M440.68 71.70L440.68 74.70M438.56 73.20L440.68 73.20M441.43 74.70L442.49 71.70L443.55 74.70M441.85 73.70L443.12 73.70M444.29 74.70L444.29 71.70L445.35 73.70L446.41 71.70L446.41 74.70M449.27 71.70L447.15 71.70L447.15 74.70M447.15 73.20L448.74 73.20M452.14 71.70L450.02 71.70L450.02 74.70L452.14 74.70M450.02 73.20L451.61 73.20M452.88 74.70L452.88 71.70L454.47 71.70L455.00 72.20L455.00 72.70L454.47 73.20L452.88 73.20M453.94 73.20L455.00 74.70" fill="none" stroke="#1a1a1a" stroke-width="0.56" stroke-linecap="round" stroke-linejoin="round"/>
<path d="M456.80 69.30 L458.60 69.30 L467.70 95.70" fill="none" stroke="#1c1c1c" stroke-width="0.6"/>
<path d="M467.70 95.70 L466.08 93.30 L467.50 92.81 Z" fill="#1c1c1c" stroke="#1c1c1c" stroke-width="0.3"/>
<line x1="467.90" y1="96.40" x2="474.65" y2="84.71" stroke="#1c1c1c" stroke-width="0.6"/>
<line x1="472.90" y1="98.60" x2="485.20" y2="77.30" stroke="#1c1c1c" stroke-width="0.6"/>
<line x1="469.75" y1="84.19" x2="473.65" y2="86.44" stroke="#1c1c1c" stroke-width="0.6"/>
<path d="M473.65 86.44 L470.85 85.69 L471.60 84.39 Z" fill="#1c1c1c" stroke="#1c1c1c" stroke-width="0.3"/>
<line x1="480.86" y1="92.81" x2="477.40" y2="90.81" stroke="#1c1c1c" stroke-width="0.6"/>
<path d="M477.40 90.81 L480.20 91.56 L479.45 92.86 Z" fill="#1c1c1c" stroke="#1c1c1c" stroke-width="0.3"/>
<path d="M479.35 95.50L479.61 95.50L479.61 95.80L479.35 95.80L479.35 95.50M480.98 92.80L482.74 92.80L481.64 95.80M485.12 92.80L483.36 92.80L483.36 94.10L484.68 94.10L485.12 94.60L485.12 95.30L484.68 95.80L483.80 95.80L483.36 95.30M486.27 92.80L486.27 93.70M486.97 92.80L486.97 93.70" fill="none" stroke="#1a1a1a" stroke-width="0.56" stroke-linecap="round" stroke-linejoin="round"/>
<g transform="translate(480.70 80.60) rotate(-60)">
<path d="M-2.20 -3.60 L0.00 0.00 L3.20 -6.20" fill="none" stroke="#1c1c1c" stroke-width="0.7"/>
<line x1="-2.20" y1="-3.60" x2="1.90" y2="-3.60" stroke="#1c1c1c" stroke-width="0.6"/>
<path d="M-2.13 -5.67L-1.56 -6.25L-1.56 -3.35M-0.05 -5.77L0.43 -6.25L1.37 -6.25L1.85 -5.77L1.85 -5.19L-0.05 -3.35L1.85 -3.35M4.40 -6.25L2.51 -6.25L2.51 -4.99L3.93 -4.99L4.40 -4.51L4.40 -3.83L3.93 -3.35L2.98 -3.35L2.51 -3.83" fill="none" stroke="#1a1a1a" stroke-width="0.56" stroke-linecap="round" stroke-linejoin="round"/>
</g>
<g transform="translate(432.30 92.30)">
<path d="M-2.20 -3.60 L0.00 0.00 L3.20 -6.20" fill="none" stroke="#1c1c1c" stroke-width="0.7"/>
<line x1="-2.20" y1="-3.60" x2="1.90" y2="-3.60" stroke="#1c1c1c" stroke-width="0.6"/>
<path d="M-6.73 -6.47L-6.16 -7.05L-6.16 -4.15M-4.65 -6.57L-4.17 -7.05L-3.23 -7.05L-2.75 -6.57L-2.75 -5.99L-4.65 -4.15L-2.75 -4.15M-0.20 -7.05L-2.09 -7.05L-2.09 -5.79L-0.67 -5.79L-0.20 -5.31L-0.20 -4.63L-0.67 -4.15L-1.62 -4.15L-2.09 -4.63" fill="none" stroke="#1a1a1a" stroke-width="0.56" stroke-linecap="round" stroke-linejoin="round"/>
</g>
<line x1="430.00" y1="92.50" x2="454.50" y2="92.50" stroke="#1c1c1c" stroke-width="0.6"/>
<line x1="419.31" y1="60.75" x2="415.56" y2="67.25" stroke="#1c1c1c" stroke-width="0.6"/>
<path d="M415.56 67.25 L416.41 64.28 L417.71 65.03 Z" fill="#1c1c1c" stroke="#1c1c1c" stroke-width="0.3"/>
<line x1="416.32" y1="70.25" x2="407.50" y2="82.00" stroke="#1c1c1c" stroke-width="0.6"/>
<path d="M416.32 70.25 L415.47 73.22 L414.17 72.47 Z" fill="#1c1c1c" stroke="#1c1c1c" stroke-width="0.3"/>
<path d="M402.26 83.70L402.52 83.70L402.52 84.00L402.26 84.00L402.26 83.70M405.69 81.00L403.91 81.00L403.91 82.30L405.24 82.30L405.69 82.80L405.69 83.50L405.24 84.00L404.35 84.00L403.91 83.50M406.76 81.00L407.65 81.00L408.09 81.50L408.09 83.50L407.65 84.00L406.76 84.00L406.31 83.50L406.31 81.50L406.76 81.00M409.25 81.00L409.25 81.90M409.97 81.00L409.97 81.90" fill="none" stroke="#1a1a1a" stroke-width="0.56" stroke-linecap="round" stroke-linejoin="round"/>
<path d="M413.21 79.70L414.50 79.70M413.86 78.94L413.86 80.46M416.05 80.91L416.31 80.91L416.31 81.21L416.05 81.21L416.05 80.91M418.07 78.19L418.93 78.19L419.36 78.69L419.36 80.71L418.93 81.21L418.07 81.21L417.64 80.71L417.64 78.69L418.07 78.19M420.39 78.19L421.25 78.19L421.68 78.69L421.68 80.71L421.25 81.21L420.39 81.21L419.96 80.71L419.96 78.69L420.39 78.19M422.71 78.19L423.57 78.19L424.00 78.69L424.00 80.71L423.57 81.21L422.71 81.21L422.28 80.71L422.28 78.69L422.71 78.19" fill="none" stroke="#1a1a1a" stroke-width="0.56" stroke-linecap="round" stroke-linejoin="round"/>
<path d="M413.21 84.20L414.50 84.20M416.05 85.41L416.31 85.41L416.31 85.71L416.05 85.71L416.05 85.41M418.07 82.69L418.93 82.69L419.36 83.19L419.36 85.21L418.93 85.71L418.07 85.71L417.64 85.21L417.64 83.19L418.07 82.69M420.39 82.69L421.25 82.69L421.68 83.19L421.68 85.21L421.25 85.71L420.39 85.71L419.96 85.21L419.96 83.19L420.39 82.69M424.00 82.69L422.28 82.69L422.28 84.00L423.57 84.00L424.00 84.50L424.00 85.21L423.57 85.71L422.71 85.71L422.28 85.21" fill="none" stroke="#1a1a1a" stroke-width="0.56" stroke-linecap="round" stroke-linejoin="round"/>
<path d="M529.50 90.00 L522.10 90.00 L492.10 110.70" fill="none" stroke="#1c1c1c" stroke-width="0.6"/>
<path d="M492.10 110.70 L494.41 107.89 L495.55 109.54 Z" fill="#1c1c1c" stroke="#1c1c1c" stroke-width="0.3"/>
<path d="M531.40 91.50L531.40 88.50L532.86 88.50L533.35 89.00L533.35 89.50L532.86 90.00L531.40 90.00M534.04 88.50L534.04 91.50L535.99 91.50M536.68 91.50L537.65 88.50L538.63 91.50M537.07 90.50L538.24 90.50M539.32 88.50L541.27 88.50M540.29 88.50L540.29 91.50M543.91 88.50L541.95 88.50L541.95 91.50L543.91 91.50M541.95 90.00L543.42 90.00M544.84 90.00L546.30 90.00M549.18 89.00L548.70 88.50L547.72 88.50L547.23 89.00L547.23 89.50L547.72 90.00L548.70 90.00L549.18 90.50L549.18 91.00L548.70 91.50L547.72 91.50L547.23 91.00M549.87 91.50L551.82 88.50M554.46 89.00L553.97 88.50L553.00 88.50L552.51 89.00L552.51 89.50L553.00 90.00L553.97 90.00L554.46 90.50L554.46 91.00L553.97 91.50L553.00 91.50L552.51 91.00M555.98 89.40L556.27 89.40L556.27 89.70L555.98 89.70L555.98 89.40M555.98 91.20L556.27 91.20L556.27 91.50L555.98 91.50L555.98 91.20" fill="none" stroke="#1a1a1a" stroke-width="0.56" stroke-linecap="round" stroke-linejoin="round"/>
<path d="M522.60 93.40L523.19 92.80L523.19 95.80M525.63 95.50L525.93 95.50L525.93 95.80L525.63 95.80L525.63 95.50M527.48 93.30L527.97 92.80L528.97 92.80L529.47 93.30L529.47 93.90L527.48 95.80L529.47 95.80M532.15 92.80L530.16 92.80L530.16 94.10L531.66 94.10L532.15 94.60L532.15 95.30L531.66 95.80L530.66 95.80L530.16 95.30M533.45 92.80L533.45 93.70M534.25 92.80L534.25 93.70M535.79 94.05L537.28 95.80M537.28 94.05L535.79 95.80M539.72 95.80L539.72 92.80L538.23 94.80L540.22 94.80M541.76 95.50L542.06 95.50L542.06 95.80L541.76 95.80L541.76 95.50M545.59 92.80L543.61 92.80L543.61 94.10L545.10 94.10L545.59 94.60L545.59 95.30L545.10 95.80L544.10 95.80L543.61 95.30M546.79 92.80L547.79 92.80L548.28 93.30L548.28 95.30L547.79 95.80L546.79 95.80L546.29 95.30L546.29 93.30L546.79 92.80M549.58 92.80L549.58 93.70M550.37 92.80L550.37 93.70M551.92 94.05L553.41 95.80M553.41 94.05L551.92 95.80M556.35 92.80L554.36 92.80L554.36 94.10L555.85 94.10L556.35 94.60L556.35 95.30L555.85 95.80L554.86 95.80L554.36 95.30M557.89 95.50L558.19 95.50L558.19 95.80L557.89 95.80L557.89 95.50M561.48 92.80L560.73 92.80L559.73 93.80L559.73 95.30L560.23 95.80L561.23 95.80L561.72 95.30L561.72 94.80L561.23 94.30L560.23 94.30L559.73 94.80M562.42 92.80L564.41 92.80L563.42 94.05L563.91 94.05L564.41 94.55L564.41 95.30L563.91 95.80L562.92 95.80L562.42 95.30M565.71 92.80L565.71 93.70M566.50 92.80L566.50 93.70" fill="none" stroke="#1a1a1a" stroke-width="0.56" stroke-linecap="round" stroke-linejoin="round"/>
<line x1="513.16" y1="113.21" x2="508.66" y2="121.00" stroke="#1c1c1c" stroke-width="0.6"/>
<path d="M508.66 121.00 L509.51 118.03 L510.80 118.78 Z" fill="#1c1c1c" stroke="#1c1c1c" stroke-width="0.3"/>
<line x1="502.10" y1="130.15" x2="504.60" y2="125.82" stroke="#1c1c1c" stroke-width="0.6"/>
<path d="M504.60 125.82 L503.75 128.79 L502.45 128.04 Z" fill="#1c1c1c" stroke="#1c1c1c" stroke-width="0.3"/>
<path d="M509.77 104.10L510.34 103.50L510.34 106.50M512.66 106.20L512.94 106.20L512.94 106.50L512.66 106.50L512.66 106.20M514.41 104.00L514.88 103.50L515.82 103.50L516.29 104.00L516.29 104.60L514.41 106.50L516.29 106.50M518.85 103.50L516.96 103.50L516.96 104.80L518.38 104.80L518.85 105.30L518.85 106.00L518.38 106.50L517.43 106.50L516.96 106.00M520.08 103.50L520.08 104.40M520.83 103.50L520.83 104.40" fill="none" stroke="#1a1a1a" stroke-width="0.56" stroke-linecap="round" stroke-linejoin="round"/>
<path d="M511.77 110.80L511.77 107.80L513.28 107.80L513.79 108.30L513.79 108.80L513.28 109.30L511.77 109.30M512.78 109.30L513.79 110.80M516.51 107.80L514.49 107.80L514.49 110.80L516.51 110.80M514.49 109.30L516.00 109.30M519.23 107.80L517.21 107.80L517.21 110.80M517.21 109.30L518.72 109.30" fill="none" stroke="#1a1a1a" stroke-width="0.56" stroke-linecap="round" stroke-linejoin="round"/>
<line x1="526.51" y1="122.07" x2="522.51" y2="129.00" stroke="#1c1c1c" stroke-width="0.6"/>
<path d="M522.51 129.00 L523.36 126.03 L524.66 126.78 Z" fill="#1c1c1c" stroke="#1c1c1c" stroke-width="0.3"/>
<line x1="517.44" y1="139.58" x2="520.19" y2="134.82" stroke="#1c1c1c" stroke-width="0.6"/>
<path d="M520.19 134.82 L519.34 137.79 L518.04 137.04 Z" fill="#1c1c1c" stroke="#1c1c1c" stroke-width="0.3"/>
<path d="M523.39 117.40L523.98 116.80L523.98 119.80M526.39 119.50L526.69 119.50L526.69 119.80L526.39 119.80L526.39 119.50M528.71 116.80L529.69 116.80L530.18 117.30L530.18 119.30L529.69 119.80L528.71 119.80L528.22 119.30L528.22 117.30L528.71 116.80M531.37 116.80L532.35 116.80L532.84 117.30L532.84 119.30L532.35 119.80L531.37 119.80L530.87 119.30L530.87 117.30L531.37 116.80M534.12 116.80L534.12 117.70M534.91 116.80L534.91 117.70" fill="none" stroke="#1a1a1a" stroke-width="0.56" stroke-linecap="round" stroke-linejoin="round"/>
<g transform="translate(535.30 136.20) rotate(30)">
<path d="M-2.20 -3.60 L0.00 0.00 L3.20 -6.20" fill="none" stroke="#1c1c1c" stroke-width="0.7"/>
<line x1="-2.20" y1="-3.60" x2="1.90" y2="-3.60" stroke="#1c1c1c" stroke-width="0.6"/>
<path d="M-6.73 -6.47L-6.16 -7.05L-6.16 -4.15M-4.65 -6.57L-4.17 -7.05L-3.23 -7.05L-2.75 -6.57L-2.75 -5.99L-4.65 -4.15L-2.75 -4.15M-0.20 -7.05L-2.09 -7.05L-2.09 -5.79L-0.67 -5.79L-0.20 -5.31L-0.20 -4.63L-0.67 -4.15L-1.62 -4.15L-2.09 -4.63" fill="none" stroke="#1a1a1a" stroke-width="0.56" stroke-linecap="round" stroke-linejoin="round"/>
</g>
<line x1="510.50" y1="27.00" x2="536.31" y2="41.90" stroke="#1c1c1c" stroke-width="0.8"/>
<line x1="536.31" y1="41.90" x2="524.01" y2="63.20" stroke="#1c1c1c" stroke-width="0.8"/>
<line x1="524.01" y1="63.20" x2="498.20" y2="48.30" stroke="#1c1c1c" stroke-width="0.8"/>
<line x1="510.50" y1="27.00" x2="498.20" y2="48.30" stroke="#1c1c1c" stroke-width="1.6"/>
<line x1="514.39" y1="13.66" x2="495.34" y2="46.65" stroke="#1c1c1c" stroke-width="0.6"/>
<line x1="497.45" y1="49.60" x2="487.45" y2="66.92" stroke="#1c1c1c" stroke-width="0.6"/>
<line x1="487.12" y1="13.50" x2="510.50" y2="27.00" stroke="#1c1c1c" stroke-width="0.6"/>
<line x1="474.82" y1="34.80" x2="498.20" y2="48.30" stroke="#1c1c1c" stroke-width="0.6"/>
<line x1="543.06" y1="30.21" x2="536.31" y2="41.90" stroke="#1c1c1c" stroke-width="0.6"/>
<line x1="512.89" y1="16.26" x2="519.82" y2="20.26" stroke="#1c1c1c" stroke-width="0.6"/>
<line x1="535.93" y1="29.56" x2="541.56" y2="32.81" stroke="#1c1c1c" stroke-width="0.6"/>
<path d="M512.89 16.26 L516.04 17.21 L515.29 18.51 Z" fill="#1c1c1c" stroke="#1c1c1c" stroke-width="0.3"/>
<path d="M541.56 32.81 L538.41 31.86 L539.16 30.56 Z" fill="#1c1c1c" stroke="#1c1c1c" stroke-width="0.3"/>
<path d="M521.30 21.40L519.30 21.40L519.30 22.70L520.80 22.70L521.30 23.20L521.30 23.90L520.80 24.40L519.80 24.40L519.30 23.90M522.85 24.10L523.15 24.10L523.15 24.40L522.85 24.40L522.85 24.10M526.45 21.40L525.70 21.40L524.70 22.40L524.70 23.90L525.20 24.40L526.20 24.40L526.70 23.90L526.70 23.40L526.20 22.90L525.20 22.90L524.70 23.40M527.40 21.40L529.40 21.40L528.40 22.65L528.90 22.65L529.40 23.15L529.40 23.90L528.90 24.40L527.90 24.40L527.40 23.90M530.70 21.40L530.70 22.30M531.50 21.40L531.50 22.30" fill="none" stroke="#1a1a1a" stroke-width="0.56" stroke-linecap="round" stroke-linejoin="round"/>
<path d="M522.27 28.70L522.27 25.70L523.78 25.70L524.29 26.20L524.29 26.70L523.78 27.20L522.27 27.20M523.28 27.20L524.29 28.70M527.01 25.70L524.99 25.70L524.99 28.70L527.01 28.70M524.99 27.20L526.50 27.20M529.73 25.70L527.71 25.70L527.71 28.70M527.71 27.20L529.22 27.20" fill="none" stroke="#1a1a1a" stroke-width="0.56" stroke-linecap="round" stroke-linejoin="round"/>
<line x1="489.28" y1="14.75" x2="486.78" y2="19.08" stroke="#1c1c1c" stroke-width="0.6"/>
<line x1="480.23" y1="30.43" x2="476.98" y2="36.05" stroke="#1c1c1c" stroke-width="0.6"/>
<path d="M489.28 14.75 L488.33 17.90 L487.03 17.15 Z" fill="#1c1c1c" stroke="#1c1c1c" stroke-width="0.3"/>
<path d="M476.98 36.05 L477.93 32.91 L479.23 33.66 Z" fill="#1c1c1c" stroke="#1c1c1c" stroke-width="0.3"/>
<path d="M478.46 24.40L478.46 21.40L477.00 23.40L478.95 23.40M480.47 24.10L480.76 24.10L480.76 24.40L480.47 24.40L480.47 24.10M484.23 21.40L482.27 21.40L482.27 22.70L483.74 22.70L484.23 23.20L484.23 23.90L483.74 24.40L482.76 24.40L482.27 23.90M485.40 21.40L486.38 21.40L486.86 21.90L486.86 23.90L486.38 24.40L485.40 24.40L484.91 23.90L484.91 21.90L485.40 21.40M488.13 21.40L488.13 22.30M488.91 21.40L488.91 22.30" fill="none" stroke="#1a1a1a" stroke-width="0.56" stroke-linecap="round" stroke-linejoin="round"/>
<path d="M477.77 28.60L477.77 25.60L479.28 25.60L479.79 26.10L479.79 26.60L479.28 27.10L477.77 27.10M478.78 27.10L479.79 28.60M482.51 25.60L480.49 25.60L480.49 28.60L482.51 28.60M480.49 27.10L482.00 27.10M485.23 25.60L483.21 25.60L483.21 28.60M483.21 27.10L484.72 27.10" fill="none" stroke="#1a1a1a" stroke-width="0.56" stroke-linecap="round" stroke-linejoin="round"/>
<circle cx="509.08" cy="40.38" r="1.8" fill="none" stroke="#1c1c1c" stroke-width="0.9"/>
<line x1="492.62" y1="30.88" x2="535.06" y2="55.38" stroke="#1c1c1c" stroke-width="0.5" stroke-dasharray="6 1.5 1.5 1.5"/>
<line x1="507.58" y1="42.98" x2="493.58" y2="67.23" stroke="#1c1c1c" stroke-width="0.5" stroke-dasharray="6 1.5 1.5 1.5"/>
<line x1="493.92" y1="31.63" x2="487.81" y2="42.30" stroke="#1c1c1c" stroke-width="0.6"/>
<path d="M493.92 31.63 L492.97 34.78 L491.67 34.03 Z" fill="#1c1c1c" stroke="#1c1c1c" stroke-width="0.3"/>
<path d="M487.81 42.30 L488.76 39.16 L490.06 39.91 Z" fill="#1c1c1c" stroke="#1c1c1c" stroke-width="0.3"/>
<path d="M490.60 26.50L491.09 26.00L492.08 26.00L492.57 26.50L492.57 27.10L490.60 29.00L492.57 29.00M494.09 28.70L494.39 28.70L494.39 29.00L494.09 29.00L494.09 28.70M495.92 26.50L496.41 26.00L497.39 26.00L497.88 26.50L497.88 27.10L495.92 29.00L497.88 29.00M500.54 26.00L498.57 26.00L498.57 27.30L500.05 27.30L500.54 27.80L500.54 28.50L500.05 29.00L499.07 29.00L498.57 28.50M501.82 26.00L501.82 26.90M502.61 26.00L502.61 26.90" fill="none" stroke="#1a1a1a" stroke-width="0.56" stroke-linecap="round" stroke-linejoin="round"/>
<path d="M510.80 42.40 L529.30 62.80 L533.00 62.80" fill="none" stroke="#1c1c1c" stroke-width="0.6"/>
<path d="M510.80 42.40 L514.64 44.99 L513.01 46.47 Z" fill="#1c1c1c" stroke="#1c1c1c" stroke-width="0.3"/>
<path d="M534.00 61.60L536.07 61.60L535.03 62.85L535.55 62.85L536.07 63.35L536.07 64.10L535.55 64.60L534.52 64.60L534.00 64.10M536.80 64.60L538.86 61.60M541.14 64.60L541.14 61.60L539.59 63.60L541.66 63.60M542.64 63.10L544.20 63.10M545.70 62.20L546.32 61.60L546.32 64.60M548.49 61.60L549.53 61.60L550.04 62.10L550.04 64.10L549.53 64.60L548.49 64.60L547.98 64.10L547.98 62.10L548.49 61.60M553.57 61.60L555.63 61.60M554.60 61.60L554.60 64.60M556.36 64.60L557.40 61.60L558.43 64.60M556.77 63.60L558.02 63.60M559.16 64.60L559.16 61.60L560.71 61.60L561.22 62.10L561.22 62.60L560.71 63.10L559.16 63.10M562.21 63.10L563.76 63.10M564.75 61.60L566.81 61.60M565.78 61.60L565.78 64.60M567.54 61.60L567.54 64.60M569.61 61.60L569.61 64.60M567.54 63.10L569.61 63.10M570.34 64.60L570.34 61.60L571.89 61.60L572.40 62.10L572.40 62.60L571.89 63.10L570.34 63.10M571.37 63.10L572.40 64.60M573.13 61.60L573.13 64.10L573.65 64.60L574.68 64.60L575.20 64.10L575.20 61.60" fill="none" stroke="#1a1a1a" stroke-width="0.56" stroke-linecap="round" stroke-linejoin="round"/>
<line x1="483.50" y1="61.76" x2="488.70" y2="64.76" stroke="#1c1c1c" stroke-width="0.6"/>
<path d="M488.70 64.76 L485.90 64.01 L486.65 62.71 Z" fill="#1c1c1c" stroke="#1c1c1c" stroke-width="0.3"/>
<line x1="499.59" y1="67.81" x2="494.83" y2="65.06" stroke="#1c1c1c" stroke-width="0.6"/>
<path d="M494.83 65.06 L497.63 65.81 L496.88 67.11 Z" fill="#1c1c1c" stroke="#1c1c1c" stroke-width="0.3"/>
<path d="M474.78 59.30L475.35 58.70L475.35 61.70M477.68 61.40L477.97 61.40L477.97 61.70L477.68 61.70L477.68 61.40M479.92 58.70L480.88 58.70L481.35 59.20L481.35 61.20L480.88 61.70L479.92 61.70L479.45 61.20L479.45 59.20L479.92 58.70M482.50 58.70L483.45 58.70L483.93 59.20L483.93 61.20L483.45 61.70L482.50 61.70L482.02 61.20L482.02 59.20L482.50 58.70M485.17 58.70L485.17 59.60M485.93 58.70L485.93 59.60" fill="none" stroke="#1a1a1a" stroke-width="0.56" stroke-linecap="round" stroke-linejoin="round"/>
<rect x="603.70" y="99.40" width="25.10" height="18.00" rx="0" fill="none" stroke="#1c1c1c" stroke-width="0.9"/>
<line x1="603.70" y1="112.20" x2="628.80" y2="112.20" stroke="#1c1c1c" stroke-width="0.7" stroke-dasharray="2.5 0.8"/>
<line x1="605.20" y1="100.00" x2="605.20" y2="117.00" stroke="#1c1c1c" stroke-width="0.5" stroke-dasharray="2 1"/>
<line x1="627.30" y1="100.00" x2="627.30" y2="117.00" stroke="#1c1c1c" stroke-width="0.5" stroke-dasharray="2 1"/>
<line x1="598.50" y1="102.00" x2="634.80" y2="102.00" stroke="#1c1c1c" stroke-width="0.5" stroke-dasharray="6 1.5 1.5 1.5"/>
<line x1="615.60" y1="88.00" x2="615.60" y2="246.00" stroke="#1c1c1c" stroke-width="0.45" stroke-dasharray="7 1.5 1.5 1.5" opacity="0.75"/>
<line x1="603.70" y1="74.50" x2="603.70" y2="99.00" stroke="#1c1c1c" stroke-width="0.5"/>
<line x1="628.80" y1="74.50" x2="628.80" y2="99.00" stroke="#1c1c1c" stroke-width="0.5"/>
<line x1="603.70" y1="77.80" x2="609.50" y2="77.80" stroke="#1c1c1c" stroke-width="0.6"/>
<line x1="623.00" y1="77.80" x2="628.80" y2="77.80" stroke="#1c1c1c" stroke-width="0.6"/>
<path d="M603.70 77.80 L606.90 77.05 L606.90 78.55 Z" fill="#1c1c1c" stroke="#1c1c1c" stroke-width="0.3"/>
<path d="M628.80 77.80 L625.60 78.55 L625.60 77.05 Z" fill="#1c1c1c" stroke="#1c1c1c" stroke-width="0.3"/>
<path d="M611.46 78.90L611.46 75.90L610.00 77.90L611.95 77.90M613.47 78.60L613.76 78.60L613.76 78.90L613.47 78.90L613.47 78.60M617.23 75.90L615.27 75.90L615.27 77.20L616.74 77.20L617.23 77.70L617.23 78.40L616.74 78.90L615.76 78.90L615.27 78.40M618.40 75.90L619.38 75.90L619.86 76.40L619.86 78.40L619.38 78.90L618.40 78.90L617.91 78.40L617.91 76.40L618.40 75.90M621.13 75.90L621.13 76.80M621.91 75.90L621.91 76.80" fill="none" stroke="#1a1a1a" stroke-width="0.56" stroke-linecap="round" stroke-linejoin="round"/>
<path d="M612.77 83.50L612.77 80.50L614.28 80.50L614.79 81.00L614.79 81.50L614.28 82.00L612.77 82.00M613.78 82.00L614.79 83.50M617.51 80.50L615.49 80.50L615.49 83.50L617.51 83.50M615.49 82.00L617.00 82.00M620.23 80.50L618.21 80.50L618.21 83.50M618.21 82.00L619.72 82.00" fill="none" stroke="#1a1a1a" stroke-width="0.56" stroke-linecap="round" stroke-linejoin="round"/>
<line x1="603.70" y1="90.30" x2="615.60" y2="90.30" stroke="#1c1c1c" stroke-width="0.6"/>
<path d="M603.70 90.30 L606.90 89.55 L606.90 91.05 Z" fill="#1c1c1c" stroke="#1c1c1c" stroke-width="0.3"/>
<path d="M615.60 90.30 L612.40 91.05 L612.40 89.55 Z" fill="#1c1c1c" stroke="#1c1c1c" stroke-width="0.3"/>
<line x1="597.50" y1="90.30" x2="603.70" y2="90.30" stroke="#1c1c1c" stroke-width="0.6"/>
<path d="M583.00 89.30L583.51 88.80L584.52 88.80L585.03 89.30L585.03 89.90L583.00 91.80L585.03 91.80M586.61 91.50L586.91 91.50L586.91 91.80L586.61 91.80L586.61 91.50M588.49 89.30L588.99 88.80L590.01 88.80L590.51 89.30L590.51 89.90L588.49 91.80L590.51 91.80M593.26 88.80L591.23 88.80L591.23 90.10L592.75 90.10L593.26 90.60L593.26 91.30L592.75 91.80L591.74 91.80L591.23 91.30M594.58 88.80L594.58 89.70M595.39 88.80L595.39 89.70" fill="none" stroke="#1a1a1a" stroke-width="0.56" stroke-linecap="round" stroke-linejoin="round"/>
<line x1="604.90" y1="117.40" x2="604.90" y2="231.80" stroke="#1c1c1c" stroke-width="0.7"/>
<line x1="626.70" y1="117.40" x2="626.70" y2="231.80" stroke="#1c1c1c" stroke-width="0.7"/>
<line x1="604.90" y1="138.00" x2="615.60" y2="138.00" stroke="#1c1c1c" stroke-width="0.6"/>
<path d="M604.90 138.00 L608.10 137.25 L608.10 138.75 Z" fill="#1c1c1c" stroke="#1c1c1c" stroke-width="0.3"/>
<path d="M615.60 138.00 L612.40 138.75 L612.40 137.25 Z" fill="#1c1c1c" stroke="#1c1c1c" stroke-width="0.3"/>
<line x1="601.00" y1="138.00" x2="604.90" y2="138.00" stroke="#1c1c1c" stroke-width="0.6"/>
<path d="M587.30 137.00L587.81 136.50L588.82 136.50L589.33 137.00L589.33 137.60L587.30 139.50L589.33 139.50M590.91 139.20L591.21 139.20L591.21 139.50L590.91 139.50L590.91 139.20M593.29 136.50L594.31 136.50L594.81 137.00L594.81 139.00L594.31 139.50L593.29 139.50L592.79 139.00L592.79 137.00L593.29 136.50M596.04 136.50L597.05 136.50L597.56 137.00L597.56 139.00L597.05 139.50L596.04 139.50L595.53 139.00L595.53 137.00L596.04 136.50M598.88 136.50L598.88 137.40M599.69 136.50L599.69 137.40" fill="none" stroke="#1a1a1a" stroke-width="0.56" stroke-linecap="round" stroke-linejoin="round"/>
<line x1="604.90" y1="142.80" x2="626.70" y2="142.80" stroke="#1c1c1c" stroke-width="0.6"/>
<path d="M604.90 142.80 L608.10 142.05 L608.10 143.55 Z" fill="#1c1c1c" stroke="#1c1c1c" stroke-width="0.3"/>
<path d="M626.70 142.80 L623.50 143.55 L623.50 142.05 Z" fill="#1c1c1c" stroke="#1c1c1c" stroke-width="0.3"/>
<line x1="626.70" y1="142.80" x2="637.00" y2="142.80" stroke="#1c1c1c" stroke-width="0.6"/>
<path d="M639.76 144.10L639.76 141.10L638.30 143.10L640.25 143.10M641.77 143.80L642.06 143.80L642.06 144.10L641.77 144.10L641.77 143.80M644.06 141.10L645.04 141.10L645.53 141.60L645.53 143.60L645.04 144.10L644.06 144.10L643.57 143.60L643.57 141.60L644.06 141.10M646.70 141.10L647.67 141.10L648.16 141.60L648.16 143.60L647.67 144.10L646.70 144.10L646.21 143.60L646.21 141.60L646.70 141.10M649.43 141.10L649.43 142.00M650.21 141.10L650.21 142.00" fill="none" stroke="#1a1a1a" stroke-width="0.56" stroke-linecap="round" stroke-linejoin="round"/>
<path d="M640.77 148.50L640.77 145.50L642.28 145.50L642.79 146.00L642.79 146.50L642.28 147.00L640.77 147.00M641.78 147.00L642.79 148.50M645.51 145.50L643.49 145.50L643.49 148.50L645.51 148.50M643.49 147.00L645.00 147.00M648.23 145.50L646.21 145.50L646.21 148.50M646.21 147.00L647.72 147.00" fill="none" stroke="#1a1a1a" stroke-width="0.56" stroke-linecap="round" stroke-linejoin="round"/>
<path d="M627.60 180.70 L656.50 227.90 L656.50 231.80" fill="none" stroke="#1c1c1c" stroke-width="0.7"/>
<rect x="602.00" y="231.80" width="54.50" height="4.20" rx="0" fill="none" stroke="#1c1c1c" stroke-width="0.8"/>
<line x1="608.90" y1="225.00" x2="608.90" y2="241.00" stroke="#1c1c1c" stroke-width="0.5" stroke-dasharray="3 1"/>
<line x1="650.40" y1="225.00" x2="650.40" y2="241.00" stroke="#1c1c1c" stroke-width="0.5" stroke-dasharray="3 1"/>
<line x1="602.00" y1="237.00" x2="602.00" y2="258.50" stroke="#1c1c1c" stroke-width="0.5"/>
<line x1="656.50" y1="237.00" x2="656.50" y2="258.50" stroke="#1c1c1c" stroke-width="0.5"/>
<line x1="602.00" y1="245.50" x2="615.60" y2="245.50" stroke="#1c1c1c" stroke-width="0.6"/>
<path d="M602.00 245.50 L605.20 244.75 L605.20 246.25 Z" fill="#1c1c1c" stroke="#1c1c1c" stroke-width="0.3"/>
<path d="M615.60 245.50 L612.40 246.25 L612.40 244.75 Z" fill="#1c1c1c" stroke="#1c1c1c" stroke-width="0.3"/>
<line x1="597.00" y1="245.50" x2="602.00" y2="245.50" stroke="#1c1c1c" stroke-width="0.6"/>
<path d="M583.50 244.20L583.99 243.70L584.96 243.70L585.45 244.20L585.45 244.80L583.50 246.70L585.45 246.70M586.97 246.40L587.26 246.40L587.26 246.70L586.97 246.70L586.97 246.40M590.73 243.70L588.77 243.70L588.77 245.00L590.24 245.00L590.73 245.50L590.73 246.20L590.24 246.70L589.26 246.70L588.77 246.20M591.90 243.70L592.88 243.70L593.36 244.20L593.36 246.20L592.88 246.70L591.90 246.70L591.41 246.20L591.41 244.20L591.90 243.70M594.63 243.70L594.63 244.60M595.41 243.70L595.41 244.60" fill="none" stroke="#1a1a1a" stroke-width="0.56" stroke-linecap="round" stroke-linejoin="round"/>
<path d="M586.27 251.30L586.27 248.30L587.78 248.30L588.29 248.80L588.29 249.30L587.78 249.80L586.27 249.80M587.28 249.80L588.29 251.30M591.01 248.30L588.99 248.30L588.99 251.30L591.01 251.30M588.99 249.80L590.50 249.80M593.73 248.30L591.71 248.30L591.71 251.30M591.71 249.80L593.22 249.80" fill="none" stroke="#1a1a1a" stroke-width="0.56" stroke-linecap="round" stroke-linejoin="round"/>
<line x1="602.00" y1="255.00" x2="620.00" y2="255.00" stroke="#1c1c1c" stroke-width="0.6"/>
<line x1="638.00" y1="255.00" x2="656.50" y2="255.00" stroke="#1c1c1c" stroke-width="0.6"/>
<path d="M602.00 255.00 L605.20 254.25 L605.20 255.75 Z" fill="#1c1c1c" stroke="#1c1c1c" stroke-width="0.3"/>
<path d="M656.50 255.00 L653.30 255.75 L653.30 254.25 Z" fill="#1c1c1c" stroke="#1c1c1c" stroke-width="0.3"/>
<path d="M621.05 253.80L621.71 253.20L621.71 256.20M624.01 253.20L625.11 253.20L625.65 253.70L625.65 255.70L625.11 256.20L624.01 256.20L623.46 255.70L623.46 253.70L624.01 253.20M627.35 255.90L627.68 255.90L627.68 256.20L627.35 256.20L627.35 255.90M629.93 253.20L631.03 253.20L631.58 253.70L631.58 255.70L631.03 256.20L629.93 256.20L629.39 255.70L629.39 253.70L629.93 253.20M632.89 253.20L633.99 253.20L634.54 253.70L634.54 255.70L633.99 256.20L632.89 256.20L632.35 255.70L632.35 253.70L632.89 253.20M635.97 253.20L635.97 254.10M636.84 253.20L636.84 254.10" fill="none" stroke="#1a1a1a" stroke-width="0.56" stroke-linecap="round" stroke-linejoin="round"/>
<path d="M625.27 260.90L625.27 257.90L626.78 257.90L627.29 258.40L627.29 258.90L626.78 259.40L625.27 259.40M626.28 259.40L627.29 260.90M630.01 257.90L627.99 257.90L627.99 260.90L630.01 260.90M627.99 259.40L629.50 259.40M632.73 257.90L630.71 257.90L630.71 260.90M630.71 259.40L632.22 259.40" fill="none" stroke="#1a1a1a" stroke-width="0.56" stroke-linecap="round" stroke-linejoin="round"/>
<path d="M517.65 276.26L517.01 275.58L515.74 275.58L515.10 276.26L515.10 276.93L515.74 277.60L517.01 277.60L517.65 278.27L517.65 278.94L517.01 279.62L515.74 279.62L515.10 278.94M518.55 275.58L518.55 278.94L519.19 279.62L520.46 279.62L521.10 278.94L521.10 275.58M522.00 279.62L522.00 275.58L523.91 275.58L524.55 276.26L524.55 276.93L523.91 277.60L522.00 277.60M525.45 279.62L525.45 275.58L527.36 275.58L528.00 276.26L528.00 276.93L527.36 277.60L525.45 277.60M529.54 275.58L530.81 275.58L531.45 276.26L531.45 278.94L530.81 279.62L529.54 279.62L528.90 278.94L528.90 276.26L529.54 275.58M532.35 279.62L532.35 275.58L534.26 275.58L534.90 276.26L534.90 276.93L534.26 277.60L532.35 277.60M533.63 277.60L534.90 279.62M535.80 275.58L538.35 275.58M537.08 275.58L537.08 279.62M542.70 275.58L542.70 279.62L545.25 279.62M548.70 275.58L546.15 275.58L546.15 279.62L548.70 279.62M546.15 277.60L548.06 277.60M552.15 276.26L551.51 275.58L550.24 275.58L549.60 276.26L549.60 278.94L550.24 279.62L551.51 279.62L552.15 278.94L552.15 277.60L551.19 277.60M556.50 279.62L556.50 275.58L557.77 278.27L559.05 275.58L559.05 279.62M560.59 275.58L561.86 275.58L562.50 276.26L562.50 278.94L561.86 279.62L560.59 279.62L559.95 278.94L559.95 276.26L560.59 275.58M563.40 275.58L563.40 279.62L564.99 279.62L565.95 278.61L565.95 276.59L564.99 275.58L563.40 275.58M568.12 275.58L568.12 279.62M567.49 275.58L568.76 275.58M567.49 279.62L568.76 279.62M572.85 275.58L570.30 275.58L570.30 279.62M570.30 277.60L572.21 277.60M575.02 275.58L575.02 279.62M574.39 275.58L575.66 275.58M574.39 279.62L575.66 279.62M579.75 276.26L579.11 275.58L577.84 275.58L577.20 276.26L577.20 278.94L577.84 279.62L579.11 279.62L579.75 278.94M580.65 279.62L581.92 275.58L583.20 279.62M581.16 278.27L582.69 278.27M584.10 275.58L586.65 275.58M585.37 275.58L585.37 279.62M588.82 275.58L588.82 279.62M588.19 275.58L589.46 275.58M588.19 279.62L589.46 279.62M591.64 275.58L592.91 275.58L593.55 276.26L593.55 278.94L592.91 279.62L591.64 279.62L591.00 278.94L591.00 276.26L591.64 275.58M594.45 279.62L594.45 275.58L597.00 279.62L597.00 275.58" fill="none" stroke="#1a1a1a" stroke-width="0.65" stroke-linecap="round" stroke-linejoin="round"/>
<line x1="509.50" y1="281.10" x2="605.50" y2="281.10" stroke="#1c1c1c" stroke-width="1.0"/>
<line x1="511.00" y1="283.20" x2="601.40" y2="283.20" stroke="#1c1c1c" stroke-width="0.5"/>
<path d="M541.87 285.60L541.36 285.10L540.32 285.10L539.80 285.60L539.80 286.10L540.32 286.60L541.36 286.60L541.87 287.10L541.87 287.60L541.36 288.10L540.32 288.10L539.80 287.60M544.68 285.60L544.16 285.10L543.12 285.10L542.60 285.60L542.60 287.60L543.12 288.10L544.16 288.10L544.68 287.60M545.41 288.10L546.44 285.10L547.48 288.10M545.82 287.10L547.07 287.10M548.21 285.10L548.21 288.10L550.28 288.10M553.09 285.10L551.01 285.10L551.01 288.10L553.09 288.10M551.01 286.60L552.57 286.60M557.14 285.70L557.76 285.10L557.76 288.10M560.30 286.00L560.62 286.00L560.62 286.30L560.30 286.30L560.30 286.00M560.30 287.80L560.62 287.80L560.62 288.10L560.30 288.10L560.30 287.80M563.78 288.10L563.78 285.10L562.23 287.10L564.30 287.10" fill="none" stroke="#1a1a1a" stroke-width="0.56" stroke-linecap="round" stroke-linejoin="round"/>
<path d="M542.60 290.60L543.10 290.10L544.09 290.10L544.59 290.60L544.59 291.20L542.60 293.10L544.59 293.10M545.53 291.60L547.02 291.60M547.97 293.10L547.97 290.10L549.46 290.10L549.96 290.60L549.96 291.10L549.46 291.60L547.97 291.60M548.96 291.60L549.96 293.10M552.64 290.10L550.66 290.10L550.66 293.10L552.64 293.10M550.66 291.60L552.15 291.60M553.84 290.10L554.83 290.10L555.33 290.60L555.33 292.60L554.83 293.10L553.84 293.10L553.34 292.60L553.34 290.60L553.84 290.10M554.58 292.35L555.33 293.25M557.02 290.10L557.02 291.00M558.71 290.10L558.71 293.10L559.95 293.10L560.70 292.35L560.70 290.85L559.95 290.10L558.71 290.10" fill="none" stroke="#1a1a1a" stroke-width="0.56" stroke-linecap="round" stroke-linejoin="round"/>
<path d="M520.21 295.70L520.82 295.10L520.82 298.10M522.71 296.60L524.24 296.60M525.21 295.10L527.25 295.10M526.23 295.10L526.23 298.10M530.01 295.10L527.97 295.10L527.97 298.10L530.01 298.10M527.97 296.60L529.50 296.60M530.73 298.10L530.73 295.10L532.77 298.10L532.77 295.10M533.49 295.10L533.49 298.10L534.76 298.10L535.53 297.35L535.53 295.85L534.76 295.10L533.49 295.10M537.26 295.10L537.26 298.10M536.75 295.10L537.77 295.10M536.75 298.10L537.77 298.10M539.00 298.10L539.00 295.10L541.04 298.10L541.04 295.10M543.80 295.60L543.29 295.10L542.27 295.10L541.76 295.60L541.76 297.60L542.27 298.10L543.29 298.10L543.80 297.60L543.80 296.60L543.03 296.60M549.31 295.60L548.80 295.10L547.78 295.10L547.27 295.60L547.27 296.10L547.78 296.60L548.80 296.60L549.31 297.10L549.31 297.60L548.80 298.10L547.78 298.10L547.27 297.60M551.05 295.10L551.05 298.10M550.54 295.10L551.56 295.10M550.54 298.10L551.56 298.10M552.79 295.10L552.79 298.10L554.06 298.10L554.83 297.35L554.83 295.85L554.06 295.10L552.79 295.10M557.58 295.10L555.54 295.10L555.54 298.10L557.58 298.10M555.54 296.60L557.07 296.60M561.06 298.10L562.08 295.10L563.10 298.10M561.47 297.10L562.69 297.10M565.86 295.60L565.35 295.10L564.33 295.10L563.82 295.60L563.82 296.10L564.33 296.60L565.35 296.60L565.86 297.10L565.86 297.60L565.35 298.10L564.33 298.10L563.82 297.60M571.37 295.60L570.86 295.10L569.84 295.10L569.33 295.60L569.33 296.10L569.84 296.60L570.86 296.60L571.37 297.10L571.37 297.60L570.86 298.10L569.84 298.10L569.33 297.60M572.09 295.10L572.09 298.10M574.13 295.10L574.13 298.10M572.09 296.60L574.13 296.60M575.36 295.10L576.38 295.10L576.89 295.60L576.89 297.60L576.38 298.10L575.36 298.10L574.85 297.60L574.85 295.60L575.36 295.10M577.60 295.10L578.11 298.10L578.62 296.10L579.13 298.10L579.64 295.10M580.36 298.10L580.36 295.10L582.40 298.10L582.40 295.10" fill="none" stroke="#1a1a1a" stroke-width="0.56" stroke-linecap="round" stroke-linejoin="round"/>
<path d="M517.61 300.70L518.22 300.10L518.22 303.10M520.10 301.60L521.63 301.60M522.59 300.10L522.59 303.10L523.86 303.10L524.63 302.35L524.63 300.85L523.86 300.10L522.59 300.10M525.34 303.10L525.34 300.10L526.86 300.10L527.37 300.60L527.37 301.10L526.86 301.60L525.34 301.60M526.36 301.60L527.37 303.10M529.10 300.10L529.10 303.10M528.59 300.10L529.61 300.10M528.59 303.10L529.61 303.10M530.83 300.10L531.85 303.10L532.87 300.10M535.61 300.10L533.58 300.10L533.58 303.10L535.61 303.10M533.58 301.60L535.10 301.60M541.11 300.60L540.60 300.10L539.58 300.10L539.07 300.60L539.07 301.10L539.58 301.60L540.60 301.60L541.11 302.10L541.11 302.60L540.60 303.10L539.58 303.10L539.07 302.60M542.84 300.10L542.84 303.10M542.33 300.10L543.34 300.10M542.33 303.10L543.34 303.10M544.57 300.10L544.57 303.10L545.84 303.10L546.60 302.35L546.60 300.85L545.84 300.10L544.57 300.10M549.35 300.10L547.31 300.10L547.31 303.10L549.35 303.10M547.31 301.60L548.84 301.60M553.32 300.10L554.33 300.10L554.84 300.60L554.84 302.60L554.33 303.10L553.32 303.10L552.81 302.60L552.81 300.60L553.32 300.10M555.55 303.10L555.55 300.10L557.08 300.10L557.59 300.60L557.59 301.10L557.08 301.60L555.55 301.60M558.30 303.10L558.30 300.10L559.82 300.10L560.33 300.60L560.33 301.10L559.82 301.60L558.30 301.60M561.56 300.10L562.57 300.10L563.08 300.60L563.08 302.60L562.57 303.10L561.56 303.10L561.05 302.60L561.05 300.60L561.56 300.10M565.83 300.60L565.32 300.10L564.30 300.10L563.79 300.60L563.79 301.10L564.30 301.60L565.32 301.60L565.83 302.10L565.83 302.60L565.32 303.10L564.30 303.10L563.79 302.60M567.56 300.10L567.56 303.10M567.05 300.10L568.06 300.10M567.05 303.10L568.06 303.10M569.29 300.10L571.32 300.10M570.30 300.10L570.30 303.10M574.07 300.10L572.03 300.10L572.03 303.10L574.07 303.10M572.03 301.60L573.56 301.60M577.53 300.10L577.53 303.10M579.56 300.10L579.56 303.10M577.53 301.60L579.56 301.60M580.27 303.10L581.29 300.10L582.31 303.10M580.68 302.10L581.90 302.10M583.02 303.10L583.02 300.10L585.05 303.10L585.05 300.10M585.77 300.10L585.77 303.10L587.04 303.10L587.80 302.35L587.80 300.85L587.04 300.10L585.77 300.10" fill="none" stroke="#1a1a1a" stroke-width="0.56" stroke-linecap="round" stroke-linejoin="round"/>
<path d="M577.70 353.10L577.70 350.10L579.76 353.10L579.76 350.10M581.00 350.10L582.03 350.10L582.55 350.60L582.55 352.60L582.03 353.10L581.00 353.10L580.49 352.60L580.49 350.60L581.00 350.10M583.27 350.10L585.34 350.10M584.31 350.10L584.31 353.10M588.13 350.10L586.06 350.10L586.06 353.10L588.13 353.10M586.06 351.60L587.61 351.60M590.91 350.60L590.40 350.10L589.37 350.10L588.85 350.60L588.85 351.10L589.37 351.60L590.40 351.60L590.91 352.10L590.91 352.60L590.40 353.10L589.37 353.10L588.85 352.60M592.51 351.00L592.82 351.00L592.82 351.30L592.51 351.30L592.51 351.00M592.51 352.80L592.82 352.80L592.82 353.10L592.51 353.10L592.51 352.80" fill="none" stroke="#1a1a1a" stroke-width="0.56" stroke-linecap="round" stroke-linejoin="round"/>
<line x1="577.00" y1="354.70" x2="594.50" y2="354.70" stroke="#1c1c1c" stroke-width="0.6"/>
<path d="M584.61 359.80L585.22 359.20L585.22 362.20M587.72 361.90L588.02 361.90L588.02 362.20L587.72 362.20L587.72 361.90M592.35 360.70L593.88 360.70L594.39 361.20L594.39 361.70L593.88 362.20L592.35 362.20L592.35 359.20L593.88 359.20L594.39 359.70L594.39 360.20L593.88 360.70M595.10 362.20L595.10 359.20L596.63 359.20L597.14 359.70L597.14 360.20L596.63 360.70L595.10 360.70M596.12 360.70L597.14 362.20M599.89 359.20L597.85 359.20L597.85 362.20L599.89 362.20M597.85 360.70L599.38 360.70M600.60 362.20L601.62 359.20L602.64 362.20M601.01 361.20L602.23 361.20M603.35 359.20L603.35 362.20M605.39 359.20L603.35 360.95M604.12 360.45L605.39 362.20M608.86 362.20L609.87 359.20L610.89 362.20M609.26 361.20L610.48 361.20M611.61 359.20L611.61 362.20L613.64 362.20M614.36 359.20L614.36 362.20L616.39 362.20M621.89 359.70L621.38 359.20L620.37 359.20L619.86 359.70L619.86 360.20L620.37 360.70L621.38 360.70L621.89 361.20L621.89 361.70L621.38 362.20L620.37 362.20L619.86 361.70M622.61 359.20L622.61 362.20M624.64 359.20L624.64 362.20M622.61 360.70L624.64 360.70M625.36 362.20L626.38 359.20L627.39 362.20M625.77 361.20L626.99 361.20M628.11 362.20L628.11 359.20L629.64 359.20L630.15 359.70L630.15 360.20L629.64 360.70L628.11 360.70M629.13 360.70L630.15 362.20M630.86 362.20L630.86 359.20L632.39 359.20L632.90 359.70L632.90 360.20L632.39 360.70L630.86 360.70M638.40 359.20L636.36 359.20L636.36 362.20L638.40 362.20M636.36 360.70L637.89 360.70M639.11 359.20L639.11 362.20L640.38 362.20L641.15 361.45L641.15 359.95L640.38 359.20L639.11 359.20M643.90 359.70L643.39 359.20L642.37 359.20L641.86 359.70L641.86 361.70L642.37 362.20L643.39 362.20L643.90 361.70L643.90 360.70L643.14 360.70M646.65 359.20L644.61 359.20L644.61 362.20L646.65 362.20M644.61 360.70L646.14 360.70M649.40 359.70L648.89 359.20L647.87 359.20L647.36 359.70L647.36 360.20L647.87 360.70L648.89 360.70L649.40 361.20L649.40 361.70L648.89 362.20L647.87 362.20L647.36 361.70" fill="none" stroke="#1a1a1a" stroke-width="0.56" stroke-linecap="round" stroke-linejoin="round"/>
<path d="M585.52 394.40L585.52 397.07L585.09 397.60L584.44 397.60L584.00 397.07M586.18 394.40L586.18 397.07L586.61 397.60L587.48 397.60L587.92 397.07L587.92 394.40M588.36 397.60L588.36 394.40L590.10 397.60L590.10 394.40M592.71 394.93L593.15 394.40L594.02 394.40L594.45 394.93L594.45 395.57L592.71 397.60L594.45 397.60M596.20 397.60L596.20 394.40L594.89 396.53L596.63 396.53" fill="none" stroke="#1a1a1a" stroke-width="0.8" stroke-linecap="round" stroke-linejoin="round"/>
<path d="M599.01 395.82L599.62 395.30L599.62 397.90M601.29 397.90L602.06 397.90L603.07 397.03L603.07 395.73L602.56 395.30L601.55 395.30L601.04 395.73L601.04 396.17L601.55 396.60L602.56 396.60L603.07 396.17M603.83 397.90L604.60 397.90L605.61 397.03L605.61 395.73L605.10 395.30L604.09 395.30L603.58 395.73L603.58 396.17L604.09 396.60L605.10 396.60L605.61 396.17M607.64 397.90L607.64 395.30L606.12 397.03L608.15 397.03" fill="none" stroke="#1a1a1a" stroke-width="0.8" stroke-linecap="round" stroke-linejoin="round"/>
<line x1="611.00" y1="393.50" x2="611.00" y2="398.50" stroke="#1c1c1c" stroke-width="0.5" opacity="0.5"/>
<rect x="264.50" y="284.50" width="91.50" height="45.80" rx="0" fill="none" stroke="#1c1c1c" stroke-width="0.9"/>
<line x1="267.80" y1="284.50" x2="267.80" y2="330.30" stroke="#1c1c1c" stroke-width="0.7"/>
<line x1="267.80" y1="286.50" x2="356.00" y2="286.50" stroke="#1c1c1c" stroke-width="0.6"/>
<line x1="267.80" y1="328.30" x2="356.00" y2="328.30" stroke="#1c1c1c" stroke-width="0.6"/>
<circle cx="343.90" cy="307.30" r="2.3" fill="none" stroke="#1c1c1c" stroke-width="0.8"/>
<line x1="259.00" y1="307.30" x2="371.50" y2="307.30" stroke="#1c1c1c" stroke-width="0.5" stroke-dasharray="9 1.5 1.5 1.5"/>
<line x1="264.50" y1="273.00" x2="264.50" y2="284.50" stroke="#1c1c1c" stroke-width="0.5"/>
<line x1="343.90" y1="273.00" x2="343.90" y2="304.50" stroke="#1c1c1c" stroke-width="0.5"/>
<line x1="264.50" y1="276.70" x2="295.00" y2="276.70" stroke="#1c1c1c" stroke-width="0.6"/>
<line x1="313.00" y1="276.70" x2="343.90" y2="276.70" stroke="#1c1c1c" stroke-width="0.6"/>
<path d="M264.50 276.70 L267.70 275.95 L267.70 277.45 Z" fill="#1c1c1c" stroke="#1c1c1c" stroke-width="0.3"/>
<path d="M343.90 276.70 L340.70 277.45 L340.70 275.95 Z" fill="#1c1c1c" stroke="#1c1c1c" stroke-width="0.3"/>
<path d="M296.53 275.80L297.17 275.20L297.17 278.20M300.47 278.20L300.47 275.20L298.87 277.20L301.00 277.20M302.65 277.90L302.97 277.90L302.97 278.20L302.65 278.20L302.65 277.90M306.75 275.20L304.62 275.20L304.62 276.50L306.22 276.50L306.75 277.00L306.75 277.70L306.22 278.20L305.16 278.20L304.62 277.70M308.03 275.20L309.09 275.20L309.63 275.70L309.63 277.70L309.09 278.20L308.03 278.20L307.50 277.70L307.50 275.70L308.03 275.20M311.01 275.20L311.01 276.10M311.86 275.20L311.86 276.10" fill="none" stroke="#1a1a1a" stroke-width="0.56" stroke-linecap="round" stroke-linejoin="round"/>
<path d="M364.00 273.00 L359.40 273.00 L345.10 305.00" fill="none" stroke="#1c1c1c" stroke-width="0.6"/>
<path d="M345.10 305.00 L345.72 301.77 L347.09 302.38 Z" fill="#1c1c1c" stroke="#1c1c1c" stroke-width="0.3"/>
<path d="M365.43 274.20L365.72 274.20L365.72 274.50L365.43 274.50L365.43 274.20M367.72 271.50L368.69 271.50L369.18 272.00L369.18 272.50L368.69 273.00L367.72 273.00L367.23 272.50L367.23 272.00L367.72 271.50M367.72 273.00L367.23 273.50L367.23 274.00L367.72 274.50L368.69 274.50L369.18 274.00L369.18 273.50L368.69 273.00M370.35 271.50L371.32 271.50L371.81 272.00L371.81 272.50L371.32 273.00L370.35 273.00L369.86 272.50L369.86 272.00L370.35 271.50M370.35 273.00L369.86 273.50L369.86 274.00L370.35 274.50L371.32 274.50L371.81 274.00L371.81 273.50L371.32 273.00M373.08 271.50L373.08 272.40M373.86 271.50L373.86 272.40M375.13 271.50L375.13 274.50L376.35 274.50L377.08 273.75L377.08 272.25L376.35 271.50L375.13 271.50M377.76 274.50L377.76 271.50L379.22 271.50L379.71 272.00L379.71 272.50L379.22 273.00L377.76 273.00M378.73 273.00L379.71 274.50M381.22 274.20L381.51 274.20L381.51 274.50L381.22 274.50L381.22 274.20M383.27 273.00L384.73 273.00M385.66 271.50L387.60 271.50M386.63 271.50L386.63 274.50M388.29 271.50L388.29 274.50M390.24 271.50L390.24 274.50M388.29 273.00L390.24 273.00M390.92 274.50L390.92 271.50L392.38 271.50L392.87 272.00L392.87 272.50L392.38 273.00L390.92 273.00M391.89 273.00L392.87 274.50M393.55 271.50L393.55 274.00L394.04 274.50L395.01 274.50L395.50 274.00L395.50 271.50" fill="none" stroke="#1a1a1a" stroke-width="0.56" stroke-linecap="round" stroke-linejoin="round"/>
<line x1="356.00" y1="284.50" x2="388.50" y2="284.50" stroke="#1c1c1c" stroke-width="0.5"/>
<line x1="356.00" y1="330.30" x2="388.50" y2="330.30" stroke="#1c1c1c" stroke-width="0.5"/>
<line x1="369.90" y1="284.50" x2="369.90" y2="293.20" stroke="#1c1c1c" stroke-width="0.6"/>
<line x1="369.90" y1="299.20" x2="369.90" y2="307.30" stroke="#1c1c1c" stroke-width="0.6"/>
<path d="M369.90 284.50 L370.65 287.70 L369.15 287.70 Z" fill="#1c1c1c" stroke="#1c1c1c" stroke-width="0.3"/>
<path d="M369.90 307.30 L369.15 304.10 L370.65 304.10 Z" fill="#1c1c1c" stroke="#1c1c1c" stroke-width="0.3"/>
<path d="M363.95 297.70L363.95 294.70L362.40 296.70L364.46 296.70M366.06 297.40L366.37 297.40L366.37 297.70L366.06 297.70L366.06 297.40M368.48 295.30L369.10 294.70L369.10 297.70M371.01 297.70L371.78 297.70L372.82 296.70L372.82 295.20L372.30 294.70L371.27 294.70L370.75 295.20L370.75 295.70L371.27 296.20L372.30 296.20L372.82 295.70M374.16 294.70L374.16 295.60M374.98 294.70L374.98 295.60" fill="none" stroke="#1a1a1a" stroke-width="0.56" stroke-linecap="round" stroke-linejoin="round"/>
<line x1="384.10" y1="284.50" x2="384.10" y2="304.50" stroke="#1c1c1c" stroke-width="0.6"/>
<line x1="384.10" y1="310.60" x2="384.10" y2="330.30" stroke="#1c1c1c" stroke-width="0.6"/>
<path d="M384.10 284.50 L384.85 287.70 L383.35 287.70 Z" fill="#1c1c1c" stroke="#1c1c1c" stroke-width="0.3"/>
<path d="M384.10 330.30 L383.35 327.10 L384.85 327.10 Z" fill="#1c1c1c" stroke="#1c1c1c" stroke-width="0.3"/>
<path d="M378.51 306.10L379.52 306.10L380.03 306.60L380.03 307.10L379.52 307.60L378.51 307.60L378.00 307.10L378.00 306.60L378.51 306.10M378.51 307.60L378.00 308.10L378.00 308.60L378.51 309.10L379.52 309.10L380.03 308.60L380.03 308.10L379.52 307.60M381.61 308.80L381.91 308.80L381.91 309.10L381.61 309.10L381.61 308.80M383.49 306.10L385.51 306.10L384.50 307.35L385.01 307.35L385.51 307.85L385.51 308.60L385.01 309.10L383.99 309.10L383.49 308.60M386.74 306.10L387.75 306.10L388.26 306.60L388.26 307.10L387.75 307.60L386.74 307.60L386.23 307.10L386.23 306.60L386.74 306.10M386.74 307.60L386.23 308.10L386.23 308.60L386.74 309.10L387.75 309.10L388.26 308.60L388.26 308.10L387.75 307.60M389.58 306.10L389.58 307.00M390.39 306.10L390.39 307.00" fill="none" stroke="#1a1a1a" stroke-width="0.56" stroke-linecap="round" stroke-linejoin="round"/>
<path d="M240.00 306.90 L246.00 306.90 L274.40 297.20" fill="none" stroke="#1c1c1c" stroke-width="0.6"/>
<path d="M274.40 297.20 L271.61 298.94 L271.13 297.52 Z" fill="#1c1c1c" stroke="#1c1c1c" stroke-width="0.3"/>
<circle cx="275.20" cy="296.60" r="1.0" fill="none" stroke="#1c1c1c" stroke-width="0.5"/>
<path d="M212.80 308.40L212.80 305.40L214.25 305.40L214.74 305.90L214.74 306.40L214.25 306.90L212.80 306.90M215.42 305.40L215.42 308.40L217.36 308.40M218.04 308.40L219.00 305.40L219.97 308.40M218.42 307.40L219.59 307.40M220.65 305.40L222.59 305.40M221.62 305.40L221.62 308.40M225.21 305.40L223.27 305.40L223.27 308.40L225.21 308.40M223.27 306.90L224.73 306.90M226.13 306.90L227.59 306.90M230.45 305.90L229.96 305.40L228.99 305.40L228.51 305.90L228.51 306.40L228.99 306.90L229.96 306.90L230.45 307.40L230.45 307.90L229.96 308.40L228.99 308.40L228.51 307.90M231.13 308.40L233.06 305.40M235.68 305.90L235.20 305.40L234.23 305.40L233.74 305.90L233.74 306.40L234.23 306.90L235.20 306.90L235.68 307.40L235.68 307.90L235.20 308.40L234.23 308.40L233.74 307.90M237.19 306.30L237.48 306.30L237.48 306.60L237.19 306.60L237.19 306.30M237.19 308.10L237.48 308.10L237.48 308.40L237.19 308.40L237.19 308.10" fill="none" stroke="#1a1a1a" stroke-width="0.56" stroke-linecap="round" stroke-linejoin="round"/>
<path d="M200.93 312.50L201.23 312.50L201.23 312.80L200.93 312.80L200.93 312.50M204.46 309.80L203.72 309.80L202.74 310.80L202.74 312.30L203.23 312.80L204.21 312.80L204.70 312.30L204.70 311.80L204.21 311.30L203.23 311.30L202.74 311.80M205.39 309.80L207.35 309.80L206.37 311.05L206.86 311.05L207.35 311.55L207.35 312.30L206.86 312.80L205.88 312.80L205.39 312.30M208.62 309.80L208.62 310.70M209.40 309.80L209.40 310.70M210.68 309.80L212.63 309.80M211.66 309.80L211.66 312.80M213.32 309.80L213.32 312.80M215.28 309.80L215.28 312.80M213.32 311.30L215.28 311.30M215.97 309.80L215.97 312.80M217.92 309.80L215.97 311.55M216.70 311.05L217.92 312.80M218.86 311.05L220.32 312.80M220.32 311.05L218.86 312.80M221.74 309.80L222.72 309.80L223.21 310.30L223.21 310.80L222.72 311.30L221.74 311.30L221.26 310.80L221.26 310.30L221.74 309.80M221.74 311.30L221.26 311.80L221.26 312.30L221.74 312.80L222.72 312.80L223.21 312.30L223.21 311.80L222.72 311.30M224.73 312.50L225.02 312.50L225.02 312.80L224.73 312.80L224.73 312.50M227.03 309.80L228.01 309.80L228.50 310.30L228.50 312.30L228.01 312.80L227.03 312.80L226.54 312.30L226.54 310.30L227.03 309.80M229.68 309.80L230.66 309.80L231.14 310.30L231.14 312.30L230.66 312.80L229.68 312.80L229.19 312.30L229.19 310.30L229.68 309.80M232.42 309.80L232.42 310.70M233.20 309.80L233.20 310.70M234.72 311.05L236.19 312.80M236.19 311.05L234.72 312.80M237.61 310.40L238.20 309.80L238.20 312.80M241.48 309.80L240.74 309.80L239.77 310.80L239.77 312.30L240.25 312.80L241.23 312.80L241.72 312.30L241.72 311.80L241.23 311.30L240.25 311.30L239.77 311.80M243.24 312.50L243.54 312.50L243.54 312.80L243.24 312.80L243.24 312.50M245.05 309.80L247.01 309.80L245.79 312.80M249.66 309.80L247.70 309.80L247.70 311.10L249.17 311.10L249.66 311.60L249.66 312.30L249.17 312.80L248.19 312.80L247.70 312.30M250.93 309.80L250.93 310.70M251.71 309.80L251.71 310.70" fill="none" stroke="#1a1a1a" stroke-width="0.56" stroke-linecap="round" stroke-linejoin="round"/>
<path d="M217.70 314.90L218.29 314.30L218.29 317.30M220.13 315.80L221.62 315.80M222.57 317.30L222.57 314.30L224.06 314.30L224.56 314.80L224.56 315.30L224.06 315.80L222.57 315.80M223.56 315.80L224.56 317.30M227.24 314.30L225.26 314.30L225.26 317.30L227.24 317.30M225.26 315.80L226.75 315.80M228.44 314.30L229.43 314.30L229.93 314.80L229.93 316.80L229.43 317.30L228.44 317.30L227.94 316.80L227.94 314.80L228.44 314.30M229.18 316.55L229.93 317.45M231.62 314.30L231.62 315.20M233.31 314.30L233.31 317.30L234.55 317.30L235.30 316.55L235.30 315.05L234.55 314.30L233.31 314.30" fill="none" stroke="#1a1a1a" stroke-width="0.56" stroke-linecap="round" stroke-linejoin="round"/>
<line x1="356.00" y1="330.30" x2="356.00" y2="340.00" stroke="#1c1c1c" stroke-width="0.5"/>
<line x1="264.50" y1="336.90" x2="301.00" y2="336.90" stroke="#1c1c1c" stroke-width="0.6"/>
<line x1="318.50" y1="336.90" x2="356.00" y2="336.90" stroke="#1c1c1c" stroke-width="0.6"/>
<path d="M264.50 336.90 L267.70 336.15 L267.70 337.65 Z" fill="#1c1c1c" stroke="#1c1c1c" stroke-width="0.3"/>
<path d="M356.00 336.90 L352.80 337.65 L352.80 336.15 Z" fill="#1c1c1c" stroke="#1c1c1c" stroke-width="0.3"/>
<path d="M302.03 335.80L302.67 335.20L302.67 338.20M306.24 335.20L305.44 335.20L304.37 336.20L304.37 337.70L304.91 338.20L305.97 338.20L306.50 337.70L306.50 337.20L305.97 336.70L304.91 336.70L304.37 337.20M308.15 337.90L308.47 337.90L308.47 338.20L308.15 338.20L308.15 337.90M310.12 335.20L312.25 335.20L310.92 338.20M315.13 335.20L313.00 335.20L313.00 336.50L314.59 336.50L315.13 337.00L315.13 337.70L314.59 338.20L313.53 338.20L313.00 337.70M316.51 335.20L316.51 336.10M317.36 335.20L317.36 336.10" fill="none" stroke="#1a1a1a" stroke-width="0.56" stroke-linecap="round" stroke-linejoin="round"/>
<path d="M306.27 339.70L308.29 339.70M307.28 339.70L307.28 342.70M308.99 339.70L310.00 341.20L311.01 339.70M310.00 341.20L310.00 342.70M311.71 342.70L311.71 339.70L313.22 339.70L313.73 340.20L313.73 340.70L313.22 341.20L311.71 341.20" fill="none" stroke="#1a1a1a" stroke-width="0.56" stroke-linecap="round" stroke-linejoin="round"/>
<path d="M306.27 347.10L306.27 344.10L307.78 344.10L308.29 344.60L308.29 345.10L307.78 345.60L306.27 345.60M307.28 345.60L308.29 347.10M311.01 344.10L308.99 344.10L308.99 347.10L311.01 347.10M308.99 345.60L310.50 345.60M313.73 344.10L311.71 344.10L311.71 347.10M311.71 345.60L313.22 345.60" fill="none" stroke="#1a1a1a" stroke-width="0.56" stroke-linecap="round" stroke-linejoin="round"/>
<g transform="translate(255.30 336.30)">
<path d="M-2.20 -3.60 L0.00 0.00 L3.20 -6.20" fill="none" stroke="#1c1c1c" stroke-width="0.7"/>
<line x1="-2.20" y1="-3.60" x2="1.90" y2="-3.60" stroke="#1c1c1c" stroke-width="0.6"/>
<path d="M-6.73 -6.47L-6.16 -7.05L-6.16 -4.15M-4.65 -6.57L-4.17 -7.05L-3.23 -7.05L-2.75 -6.57L-2.75 -5.99L-4.65 -4.15L-2.75 -4.15M-0.20 -7.05L-2.09 -7.05L-2.09 -5.79L-0.67 -5.79L-0.20 -5.31L-0.20 -4.63L-0.67 -4.15L-1.62 -4.15L-2.09 -4.63" fill="none" stroke="#1a1a1a" stroke-width="0.56" stroke-linecap="round" stroke-linejoin="round"/>
</g>
<line x1="253.00" y1="336.90" x2="264.50" y2="336.90" stroke="#1c1c1c" stroke-width="0.6"/>
<line x1="264.70" y1="333.00" x2="264.70" y2="405.00" stroke="#1c1c1c" stroke-width="0.8"/>
<line x1="267.90" y1="333.00" x2="267.90" y2="405.00" stroke="#1c1c1c" stroke-width="0.8"/>
<path d="M267.90 357.50 L356.80 390.20 L356.80 405.00" fill="none" stroke="#1c1c1c" stroke-width="0.8"/>
<line x1="244.00" y1="401.70" x2="369.30" y2="401.70" stroke="#1c1c1c" stroke-width="0.8"/>
<line x1="233.00" y1="405.10" x2="369.30" y2="405.10" stroke="#1c1c1c" stroke-width="0.8"/>
<line x1="233.00" y1="357.50" x2="264.70" y2="357.50" stroke="#1c1c1c" stroke-width="0.6"/>
<line x1="236.50" y1="357.50" x2="236.50" y2="376.50" stroke="#1c1c1c" stroke-width="0.6"/>
<line x1="236.50" y1="386.00" x2="236.50" y2="405.10" stroke="#1c1c1c" stroke-width="0.6"/>
<path d="M236.50 357.50 L237.25 360.70 L235.75 360.70 Z" fill="#1c1c1c" stroke="#1c1c1c" stroke-width="0.3"/>
<path d="M236.50 405.10 L235.75 401.90 L237.25 401.90 Z" fill="#1c1c1c" stroke="#1c1c1c" stroke-width="0.3"/>
<path d="M230.49 377.70L231.46 377.70L231.95 378.20L231.95 378.70L231.46 379.20L230.49 379.20L230.00 378.70L230.00 378.20L230.49 377.70M230.49 379.20L230.00 379.70L230.00 380.20L230.49 380.70L231.46 380.70L231.95 380.20L231.95 379.70L231.46 379.20M233.47 380.40L233.76 380.40L233.76 380.70L233.47 380.70L233.47 380.40M236.98 377.70L236.25 377.70L235.27 378.70L235.27 380.20L235.76 380.70L236.74 380.70L237.23 380.20L237.23 379.70L236.74 379.20L235.76 379.20L235.27 379.70M237.91 377.70L239.86 377.70L238.89 378.95L239.38 378.95L239.86 379.45L239.86 380.20L239.38 380.70L238.40 380.70L237.91 380.20M241.13 377.70L241.13 378.60M241.91 377.70L241.91 378.60" fill="none" stroke="#1a1a1a" stroke-width="0.56" stroke-linecap="round" stroke-linejoin="round"/>
<path d="M232.97 385.10L232.97 382.10L234.48 382.10L234.99 382.60L234.99 383.10L234.48 383.60L232.97 383.60M233.98 383.60L234.99 385.10M237.71 382.10L235.69 382.10L235.69 385.10L237.71 385.10M235.69 383.60L237.20 383.60M240.43 382.10L238.41 382.10L238.41 385.10M238.41 383.60L239.92 383.60" fill="none" stroke="#1a1a1a" stroke-width="0.56" stroke-linecap="round" stroke-linejoin="round"/>
<path d="M248.47 342.80L248.78 342.80L248.78 343.10L248.47 343.10L248.47 342.80M252.18 340.10L251.41 340.10L250.38 341.10L250.38 342.60L250.90 343.10L251.92 343.10L252.44 342.60L252.44 342.10L251.92 341.60L250.90 341.60L250.38 342.10M253.16 340.10L255.22 340.10L254.19 341.35L254.70 341.35L255.22 341.85L255.22 342.60L254.70 343.10L253.68 343.10L253.16 342.60M256.56 340.10L256.56 341.00M257.38 340.10L257.38 341.00" fill="none" stroke="#1a1a1a" stroke-width="0.56" stroke-linecap="round" stroke-linejoin="round"/>
<path d="M249.07 347.50L249.07 344.50L250.58 344.50L251.09 345.00L251.09 345.50L250.58 346.00L249.07 346.00M250.08 346.00L251.09 347.50M253.81 344.50L251.79 344.50L251.79 347.50L253.81 347.50M251.79 346.00L253.30 346.00M256.53 344.50L254.51 344.50L254.51 347.50M254.51 346.00L256.02 346.00" fill="none" stroke="#1a1a1a" stroke-width="0.56" stroke-linecap="round" stroke-linejoin="round"/>
<line x1="258.50" y1="342.00" x2="264.70" y2="342.00" stroke="#1c1c1c" stroke-width="0.6"/>
<path d="M264.70 342.00 L262.10 342.75 L262.10 341.25 Z" fill="#1c1c1c" stroke="#1c1c1c" stroke-width="0.3"/>
<line x1="267.90" y1="342.00" x2="275.00" y2="342.00" stroke="#1c1c1c" stroke-width="0.6"/>
<path d="M267.90 342.00 L270.50 341.25 L270.50 342.75 Z" fill="#1c1c1c" stroke="#1c1c1c" stroke-width="0.3"/>
<line x1="258.50" y1="349.50" x2="264.70" y2="349.50" stroke="#1c1c1c" stroke-width="0.6"/>
<path d="M264.70 349.50 L262.10 350.25 L262.10 348.75 Z" fill="#1c1c1c" stroke="#1c1c1c" stroke-width="0.3"/>
<line x1="267.90" y1="349.50" x2="275.50" y2="349.50" stroke="#1c1c1c" stroke-width="0.6"/>
<path d="M267.90 349.50 L270.50 348.75 L270.50 350.25 Z" fill="#1c1c1c" stroke="#1c1c1c" stroke-width="0.3"/>
<path d="M278.16 350.50L278.46 350.50L278.46 350.80L278.16 350.80L278.16 350.50M282.05 347.80L280.03 347.80L280.03 349.10L281.54 349.10L282.05 349.60L282.05 350.30L281.54 350.80L280.53 350.80L280.03 350.30M283.26 347.80L284.27 347.80L284.77 348.30L284.77 350.30L284.27 350.80L283.26 350.80L282.75 350.30L282.75 348.30L283.26 347.80M286.09 347.80L286.09 348.70M286.89 347.80L286.89 348.70" fill="none" stroke="#1a1a1a" stroke-width="0.56" stroke-linecap="round" stroke-linejoin="round"/>
<path d="M278.77 355.30L278.77 352.30L279.78 354.30L280.79 352.30L280.79 355.30M282.50 352.30L282.50 355.30M282.00 352.30L283.00 352.30M282.00 355.30L283.00 355.30M284.21 355.30L284.21 352.30L286.23 355.30L286.23 352.30" fill="none" stroke="#1a1a1a" stroke-width="0.56" stroke-linecap="round" stroke-linejoin="round"/>
<line x1="300.40" y1="357.50" x2="328.50" y2="357.50" stroke="#1c1c1c" stroke-width="0.6"/>
<path d="M305.91 353.69L306.53 353.09L306.53 356.11M308.17 356.11L310.23 353.09M312.49 356.11L312.49 353.09L310.95 355.10L313.00 355.10" fill="none" stroke="#1a1a1a" stroke-width="0.56" stroke-linecap="round" stroke-linejoin="round"/>
<path d="M315.50 357.50 L315.50 354.20 L318.00 354.20 L320.20 357.50 L320.20 363.00 L316.50 363.00 L316.50 357.50" fill="none" stroke="#1c1c1c" stroke-width="0.6"/>
<line x1="328.50" y1="357.50" x2="332.50" y2="353.00" stroke="#1c1c1c" stroke-width="0.6"/>
<line x1="328.50" y1="357.50" x2="332.50" y2="362.00" stroke="#1c1c1c" stroke-width="0.6"/>
<path d="M333.50 356.00L335.53 356.00M334.51 356.00L334.51 359.00M336.24 356.00L337.25 357.50L338.26 356.00M337.25 357.50L337.25 359.00M338.97 359.00L338.97 356.00L340.49 356.00L341.00 356.50L341.00 357.00L340.49 357.50L338.97 357.50" fill="none" stroke="#1a1a1a" stroke-width="0.56" stroke-linecap="round" stroke-linejoin="round"/>
<line x1="300.40" y1="357.50" x2="268.30" y2="381.80" stroke="#1c1c1c" stroke-width="0.6"/>
<path d="M268.30 381.80 L270.40 379.27 L271.30 380.47 Z" fill="#1c1c1c" stroke="#1c1c1c" stroke-width="0.3"/>
<path d="M293.80 401.70 L293.80 400.91 L293.81 400.13 L293.83 399.34 L293.85 398.55 L293.89 397.77 L293.92 396.98 L293.97 396.19 L294.02 395.41 L294.08 394.62 L294.14 393.84 L294.22 393.05 L294.29 392.27 L294.38 391.49 L294.47 390.71 L294.57 389.93 L294.68 389.15" fill="none" stroke="#1c1c1c" stroke-width="0.6"/>
<path d="M297.08 377.60 L297.29 376.84 L297.51 376.08 L297.74 375.33 L297.97 374.58 L298.21 373.83 L298.46 373.08 L298.71 372.33 L298.97 371.59 L299.24 370.85" fill="none" stroke="#1c1c1c" stroke-width="0.6"/>
<path d="M293.80 401.70 L292.90 398.74 L294.40 398.67 Z" fill="#1c1c1c" stroke="#1c1c1c" stroke-width="0.3"/>
<path d="M299.24 370.85 L298.95 373.93 L297.53 373.43 Z" fill="#1c1c1c" stroke="#1c1c1c" stroke-width="0.3"/>
<path d="M291.27 382.70L291.78 382.20L292.78 382.20L293.29 382.70L293.29 383.30L291.27 385.20L293.29 385.20M294.50 382.20L295.50 382.20L296.01 382.70L296.01 384.70L295.50 385.20L294.50 385.20L293.99 384.70L293.99 382.70L294.50 382.20M297.32 382.20L298.12 382.20L298.12 383.05L297.32 383.05L297.32 382.20" fill="none" stroke="#1a1a1a" stroke-width="0.56" stroke-linecap="round" stroke-linejoin="round"/>
<path d="M291.47 386.60L293.49 386.60M292.48 386.60L292.48 389.60M294.19 386.60L295.20 388.10L296.21 386.60M295.20 388.10L295.20 389.60M296.91 389.60L296.91 386.60L298.42 386.60L298.93 387.10L298.93 387.60L298.42 388.10L296.91 388.10" fill="none" stroke="#1a1a1a" stroke-width="0.56" stroke-linecap="round" stroke-linejoin="round"/>
<line x1="247.60" y1="393.50" x2="247.60" y2="401.70" stroke="#1c1c1c" stroke-width="0.6"/>
<path d="M247.60 401.70 L246.70 398.70 L248.50 398.70 Z" fill="#1c1c1c" stroke="#1c1c1c" stroke-width="0.3"/>
<line x1="247.60" y1="405.10" x2="247.60" y2="410.00" stroke="#1c1c1c" stroke-width="0.6"/>
<path d="M247.60 405.10 L248.50 408.10 L246.70 408.10 Z" fill="#1c1c1c" stroke="#1c1c1c" stroke-width="0.3"/>
<path d="M243.86 414.10L244.16 414.10L244.16 414.40L243.86 414.40L243.86 414.10M247.49 411.40L246.74 411.40L245.73 412.40L245.73 413.90L246.23 414.40L247.24 414.40L247.75 413.90L247.75 413.40L247.24 412.90L246.23 412.90L245.73 413.40M248.45 411.40L250.47 411.40L249.46 412.65L249.97 412.65L250.47 413.15L250.47 413.90L249.97 414.40L248.96 414.40L248.45 413.90M251.79 411.40L251.79 412.30M252.59 411.40L252.59 412.30" fill="none" stroke="#1a1a1a" stroke-width="0.56" stroke-linecap="round" stroke-linejoin="round"/>
<path d="M244.57 418.90L244.57 415.90L246.08 415.90L246.59 416.40L246.59 416.90L246.08 417.40L244.57 417.40M245.58 417.40L246.59 418.90M249.31 415.90L247.29 415.90L247.29 418.90L249.31 418.90M247.29 417.40L248.80 417.40M252.03 415.90L250.01 415.90L250.01 418.90M250.01 417.40L251.52 417.40" fill="none" stroke="#1a1a1a" stroke-width="0.56" stroke-linecap="round" stroke-linejoin="round"/>
<path d="M276.60 423.80 L282.30 423.80 L308.00 390.70" fill="none" stroke="#1c1c1c" stroke-width="0.6"/>
<path d="M308.00 390.70 L306.63 393.69 L305.45 392.77 Z" fill="#1c1c1c" stroke="#1c1c1c" stroke-width="0.3"/>
<circle cx="308.80" cy="390.00" r="1.0" fill="none" stroke="#1c1c1c" stroke-width="0.5"/>
<path d="M249.20 425.30L249.20 422.30L250.70 422.30L251.20 422.80L251.20 423.30L250.70 423.80L249.20 423.80M251.90 422.30L251.90 425.30L253.90 425.30M254.60 425.30L255.60 422.30L256.60 425.30M255.00 424.30L256.20 424.30M257.30 422.30L259.30 422.30M258.30 422.30L258.30 425.30M262.00 422.30L260.00 422.30L260.00 425.30L262.00 425.30M260.00 423.80L261.50 423.80M262.95 423.80L264.45 423.80M267.40 422.80L266.90 422.30L265.90 422.30L265.40 422.80L265.40 423.30L265.90 423.80L266.90 423.80L267.40 424.30L267.40 424.80L266.90 425.30L265.90 425.30L265.40 424.80M268.10 425.30L270.10 422.30M272.80 422.80L272.30 422.30L271.30 422.30L270.80 422.80L270.80 423.30L271.30 423.80L272.30 423.80L272.80 424.30L272.80 424.80L272.30 425.30L271.30 425.30L270.80 424.80M274.35 423.20L274.65 423.20L274.65 423.50L274.35 423.50L274.35 423.20M274.35 425.00L274.65 425.00L274.65 425.30L274.35 425.30L274.35 425.00" fill="none" stroke="#1a1a1a" stroke-width="0.56" stroke-linecap="round" stroke-linejoin="round"/>
<path d="M236.93 429.40L237.23 429.40L237.23 429.70L236.93 429.70L236.93 429.40M238.75 426.70L240.71 426.70L239.73 427.95L240.22 427.95L240.71 428.45L240.71 429.20L240.22 429.70L239.24 429.70L238.75 429.20M241.89 426.70L242.87 426.70L243.36 427.20L243.36 427.70L242.87 428.20L241.89 428.20L241.40 427.70L241.40 427.20L241.89 426.70M241.89 428.20L241.40 428.70L241.40 429.20L241.89 429.70L242.87 429.70L243.36 429.20L243.36 428.70L242.87 428.20M244.64 426.70L244.64 427.60M245.42 426.70L245.42 427.60M246.70 426.70L248.66 426.70M247.68 426.70L247.68 429.70M249.35 426.70L249.35 429.70M251.31 426.70L251.31 429.70M249.35 428.20L251.31 428.20M252.00 426.70L252.00 429.70M253.96 426.70L252.00 428.45M252.73 427.95L253.96 429.70M254.89 427.95L256.36 429.70M256.36 427.95L254.89 429.70M257.30 426.70L259.26 426.70L258.03 429.70M260.78 429.40L261.07 429.40L261.07 429.70L260.78 429.70L260.78 429.40M263.08 426.70L264.06 426.70L264.56 427.20L264.56 427.70L264.06 428.20L263.08 428.20L262.59 427.70L262.59 427.20L263.08 426.70M263.08 428.20L262.59 428.70L262.59 429.20L263.08 429.70L264.06 429.70L264.56 429.20L264.56 428.70L264.06 428.20M265.24 426.70L267.20 426.70L265.98 429.70M268.48 426.70L268.48 427.60M269.27 426.70L269.27 427.60M270.79 427.95L272.26 429.70M272.26 427.95L270.79 429.70M273.68 427.30L274.27 426.70L274.27 429.70M277.56 426.70L276.82 426.70L275.84 427.70L275.84 429.20L276.33 429.70L277.31 429.70L277.80 429.20L277.80 428.70L277.31 428.20L276.33 428.20L275.84 428.70M279.32 429.40L279.62 429.40L279.62 429.70L279.32 429.70L279.32 429.40M281.14 426.70L283.10 426.70L281.88 429.70M285.75 426.70L283.79 426.70L283.79 428.00L285.26 428.00L285.75 428.50L285.75 429.20L285.26 429.70L284.28 429.70L283.79 429.20M287.03 426.70L287.03 427.60M287.81 426.70L287.81 427.60" fill="none" stroke="#1a1a1a" stroke-width="0.56" stroke-linecap="round" stroke-linejoin="round"/>
<path d="M253.20 431.40L253.70 430.90L254.69 430.90L255.19 431.40L255.19 432.00L253.20 433.90L255.19 433.90M256.13 432.40L257.62 432.40M258.57 433.90L258.57 430.90L260.06 430.90L260.56 431.40L260.56 431.90L260.06 432.40L258.57 432.40M259.56 432.40L260.56 433.90M263.24 430.90L261.26 430.90L261.26 433.90L263.24 433.90M261.26 432.40L262.75 432.40M264.44 430.90L265.43 430.90L265.93 431.40L265.93 433.40L265.43 433.90L264.44 433.90L263.94 433.40L263.94 431.40L264.44 430.90M265.18 433.15L265.93 434.05M267.62 430.90L267.62 431.80M269.31 430.90L269.31 433.90L270.55 433.90L271.30 433.15L271.30 431.65L270.55 430.90L269.31 430.90" fill="none" stroke="#1a1a1a" stroke-width="0.56" stroke-linecap="round" stroke-linejoin="round"/>
<line x1="305.80" y1="405.10" x2="305.80" y2="419.50" stroke="#1c1c1c" stroke-width="0.6"/>
<line x1="356.80" y1="405.10" x2="356.80" y2="419.50" stroke="#1c1c1c" stroke-width="0.5"/>
<line x1="305.80" y1="416.20" x2="323.00" y2="416.20" stroke="#1c1c1c" stroke-width="0.6"/>
<line x1="338.50" y1="416.20" x2="356.80" y2="416.20" stroke="#1c1c1c" stroke-width="0.6"/>
<path d="M305.80 416.20 L309.00 415.45 L309.00 416.95 Z" fill="#1c1c1c" stroke="#1c1c1c" stroke-width="0.3"/>
<path d="M356.80 416.20 L353.60 416.95 L353.60 415.45 Z" fill="#1c1c1c" stroke="#1c1c1c" stroke-width="0.3"/>
<path d="M324.26 417.70L325.03 417.70L326.06 416.70L326.06 415.20L325.55 414.70L324.52 414.70L324.00 415.20L324.00 415.70L324.52 416.20L325.55 416.20L326.06 415.70M327.66 417.40L327.97 417.40L327.97 417.70L327.66 417.70L327.66 417.40M329.57 415.20L330.08 414.70L331.12 414.70L331.63 415.20L331.63 415.80L329.57 417.70L331.63 417.70M334.42 414.70L332.35 414.70L332.35 416.00L333.90 416.00L334.42 416.50L334.42 417.20L333.90 417.70L332.87 417.70L332.35 417.20M335.76 414.70L335.76 415.60M336.58 414.70L336.58 415.60" fill="none" stroke="#1a1a1a" stroke-width="0.56" stroke-linecap="round" stroke-linejoin="round"/>
<line x1="343.60" y1="398.00" x2="343.60" y2="410.00" stroke="#1c1c1c" stroke-width="0.5" stroke-dasharray="3 1"/>
<line x1="368.70" y1="394.00" x2="368.70" y2="401.70" stroke="#1c1c1c" stroke-width="0.6"/>
<path d="M368.70 401.70 L367.80 398.70 L369.60 398.70 Z" fill="#1c1c1c" stroke="#1c1c1c" stroke-width="0.3"/>
<line x1="368.70" y1="405.10" x2="368.70" y2="410.50" stroke="#1c1c1c" stroke-width="0.6"/>
<path d="M368.70 405.10 L369.60 408.10 L367.80 408.10 Z" fill="#1c1c1c" stroke="#1c1c1c" stroke-width="0.3"/>
<path d="M365.40 417.40L365.64 417.40L365.64 417.70L365.40 417.70L365.40 417.40M367.33 415.30L367.82 414.70L367.82 417.70M369.14 414.70L370.78 414.70L369.96 415.95L370.37 415.95L370.78 416.45L370.78 417.20L370.37 417.70L369.55 417.70L369.14 417.20M371.85 414.70L371.85 415.60M372.51 414.70L372.51 415.60" fill="none" stroke="#1a1a1a" stroke-width="0.56" stroke-linecap="round" stroke-linejoin="round"/>
<g transform="translate(379.80 403.40)">
<path d="M-2.20 -3.60 L0.00 0.00 L3.20 -6.20" fill="none" stroke="#1c1c1c" stroke-width="0.7"/>
<line x1="-2.20" y1="-3.60" x2="1.90" y2="-3.60" stroke="#1c1c1c" stroke-width="0.6"/>
<path d="M-6.73 -6.47L-6.16 -7.05L-6.16 -4.15M-4.65 -6.57L-4.17 -7.05L-3.23 -7.05L-2.75 -6.57L-2.75 -5.99L-4.65 -4.15L-2.75 -4.15M-0.20 -7.05L-2.09 -7.05L-2.09 -5.79L-0.67 -5.79L-0.20 -5.31L-0.20 -4.63L-0.67 -4.15L-1.62 -4.15L-2.09 -4.63" fill="none" stroke="#1a1a1a" stroke-width="0.56" stroke-linecap="round" stroke-linejoin="round"/>
</g>
<path d="M321.63 444.86L320.99 444.18L319.73 444.18L319.10 444.86L319.10 445.53L319.73 446.20L320.99 446.20L321.63 446.87L321.63 447.54L320.99 448.22L319.73 448.22L319.10 447.54M323.78 444.18L323.78 448.22M323.15 444.18L324.41 444.18M323.15 448.22L324.41 448.22M325.93 444.18L325.93 448.22L327.51 448.22L328.46 447.21L328.46 445.19L327.51 444.18L325.93 444.18M331.87 444.18L329.34 444.18L329.34 448.22L331.87 448.22M329.34 446.20L331.24 446.20M336.17 448.22L336.17 444.18L338.07 444.18L338.70 444.86L338.70 445.53L338.07 446.20L336.17 446.20M340.22 444.18L341.48 444.18L342.11 444.86L342.11 447.54L341.48 448.22L340.22 448.22L339.59 447.54L339.59 444.86L340.22 444.18M343.00 448.22L343.00 444.18L345.53 448.22L345.53 444.18M346.41 444.18L346.41 448.22L347.99 448.22L348.94 447.21L348.94 445.19L347.99 444.18L346.41 444.18M353.24 448.22L353.24 444.18L355.14 444.18L355.77 444.86L355.77 445.53L355.14 446.20L353.24 446.20M356.66 444.18L356.66 448.22L359.18 448.22M360.07 448.22L361.34 444.18L362.60 448.22M360.58 446.87L362.09 446.87M363.49 444.18L366.01 444.18M364.75 444.18L364.75 448.22M369.43 444.18L366.90 444.18L366.90 448.22L369.43 448.22M366.90 446.20L368.80 446.20M373.73 448.22L373.73 444.18L374.99 446.87L376.26 444.18L376.26 448.22M377.14 444.18L379.67 444.18M378.41 444.18L378.41 448.22M383.09 444.86L382.45 444.18L381.19 444.18L380.56 444.86L380.56 447.54L381.19 448.22L382.45 448.22L383.09 447.54L383.09 446.20L382.14 446.20M387.39 446.20L389.28 446.20L389.91 446.87L389.91 447.54L389.28 448.22L387.39 448.22L387.39 444.18L389.28 444.18L389.91 444.86L389.91 445.53L389.28 446.20M390.80 448.22L390.80 444.18L392.70 444.18L393.33 444.86L393.33 445.53L392.70 446.20L390.80 446.20M392.06 446.20L393.33 448.22M394.22 448.22L395.48 444.18L396.74 448.22M394.72 446.87L396.24 446.87M400.16 444.86L399.53 444.18L398.26 444.18L397.63 444.86L397.63 447.54L398.26 448.22L399.53 448.22L400.16 447.54M401.04 444.18L401.04 448.22M403.57 444.18L401.04 446.54M401.99 445.86L403.57 448.22M406.99 444.18L404.46 444.18L404.46 448.22L406.99 448.22M404.46 446.20L406.35 446.20M407.87 444.18L410.40 444.18M409.14 444.18L409.14 448.22" fill="none" stroke="#1a1a1a" stroke-width="0.65" stroke-linecap="round" stroke-linejoin="round"/>
<line x1="312.00" y1="449.70" x2="417.00" y2="449.70" stroke="#1c1c1c" stroke-width="1.1"/>
<line x1="314.00" y1="451.90" x2="415.00" y2="451.90" stroke="#1c1c1c" stroke-width="0.5"/>
<path d="M339.17 454.70L338.65 454.20L337.62 454.20L337.10 454.70L337.10 455.20L337.62 455.70L338.65 455.70L339.17 456.20L339.17 456.70L338.65 457.20L337.62 457.20L337.10 456.70M341.96 454.70L341.44 454.20L340.41 454.20L339.89 454.70L339.89 456.70L340.41 457.20L341.44 457.20L341.96 456.70M342.68 457.20L343.72 454.20L344.75 457.20M343.10 456.20L344.34 456.20M345.48 454.20L345.48 457.20L347.54 457.20M350.33 454.20L348.27 454.20L348.27 457.20L350.33 457.20M348.27 455.70L349.82 455.70M354.37 454.80L354.99 454.20L354.99 457.20M357.52 455.10L357.83 455.10L357.83 455.40L357.52 455.40L357.52 455.10M357.52 456.90L357.83 456.90L357.83 457.20L357.52 457.20L357.52 456.90M360.98 457.20L360.98 454.20L359.43 456.20L361.50 456.20" fill="none" stroke="#1a1a1a" stroke-width="0.56" stroke-linecap="round" stroke-linejoin="round"/>
<path d="M370.50 454.70L371.02 454.20L372.06 454.20L372.58 454.70L372.58 455.30L370.50 457.20L372.58 457.20M373.56 455.70L375.12 455.70M376.11 457.20L376.11 454.20L377.66 454.20L378.18 454.70L378.18 455.20L377.66 455.70L376.11 455.70M377.15 455.70L378.18 457.20M380.99 454.20L378.91 454.20L378.91 457.20L380.99 457.20M378.91 455.70L380.47 455.70M382.24 454.20L383.27 454.20L383.79 454.70L383.79 456.70L383.27 457.20L382.24 457.20L381.72 456.70L381.72 454.70L382.24 454.20M383.01 456.45L383.79 457.35M385.56 454.20L385.56 455.10M387.32 454.20L387.32 457.20L388.62 457.20L389.40 456.45L389.40 454.95L388.62 454.20L387.32 454.20" fill="none" stroke="#1a1a1a" stroke-width="0.56" stroke-linecap="round" stroke-linejoin="round"/>
<line x1="431.80" y1="292.00" x2="431.80" y2="405.00" stroke="#1c1c1c" stroke-width="0.8"/>
<line x1="477.60" y1="292.00" x2="477.60" y2="405.00" stroke="#1c1c1c" stroke-width="0.8"/>
<line x1="434.00" y1="292.00" x2="434.00" y2="401.70" stroke="#1c1c1c" stroke-width="0.6"/>
<line x1="475.40" y1="292.00" x2="475.40" y2="401.70" stroke="#1c1c1c" stroke-width="0.6"/>
<line x1="454.80" y1="301.50" x2="454.80" y2="406.00" stroke="#1c1c1c" stroke-width="0.5" stroke-dasharray="7 1.5 1.5 1.5"/>
<line x1="431.80" y1="295.60" x2="447.50" y2="295.60" stroke="#1c1c1c" stroke-width="0.6"/>
<line x1="462.00" y1="295.60" x2="477.60" y2="295.60" stroke="#1c1c1c" stroke-width="0.6"/>
<path d="M431.80 295.60 L435.00 294.85 L435.00 296.35 Z" fill="#1c1c1c" stroke="#1c1c1c" stroke-width="0.3"/>
<path d="M477.60 295.60 L474.40 296.35 L474.40 294.85 Z" fill="#1c1c1c" stroke="#1c1c1c" stroke-width="0.3"/>
<path d="M448.53 294.10L449.58 294.10L450.11 294.60L450.11 295.10L449.58 295.60L448.53 295.60L448.00 295.10L448.00 294.60L448.53 294.10M448.53 295.60L448.00 296.10L448.00 296.60L448.53 297.10L449.58 297.10L450.11 296.60L450.11 296.10L449.58 295.60M451.74 296.80L452.06 296.80L452.06 297.10L451.74 297.10L451.74 296.80M453.70 294.10L455.80 294.10L454.75 295.35L455.28 295.35L455.80 295.85L455.80 296.60L455.28 297.10L454.22 297.10L453.70 296.60M457.07 294.10L458.12 294.10L458.65 294.60L458.65 295.10L458.12 295.60L457.07 295.60L456.54 295.10L456.54 294.60L457.07 294.10M457.07 295.60L456.54 296.10L456.54 296.60L457.07 297.10L458.12 297.10L458.65 296.60L458.65 296.10L458.12 295.60M460.02 294.10L460.02 295.00M460.87 294.10L460.87 295.00" fill="none" stroke="#1a1a1a" stroke-width="0.56" stroke-linecap="round" stroke-linejoin="round"/>
<line x1="431.80" y1="304.10" x2="436.50" y2="304.10" stroke="#1c1c1c" stroke-width="0.6"/>
<line x1="449.00" y1="304.10" x2="454.80" y2="304.10" stroke="#1c1c1c" stroke-width="0.6"/>
<path d="M431.80 304.10 L435.00 303.35 L435.00 304.85 Z" fill="#1c1c1c" stroke="#1c1c1c" stroke-width="0.3"/>
<path d="M454.80 304.10 L451.60 304.85 L451.60 303.35 Z" fill="#1c1c1c" stroke="#1c1c1c" stroke-width="0.3"/>
<path d="M438.51 305.60L438.51 302.60L437.20 304.60L438.95 304.60M440.31 305.30L440.57 305.30L440.57 305.60L440.31 305.60L440.31 305.30M442.36 303.20L442.89 302.60L442.89 305.60M444.51 305.60L445.16 305.60L446.04 304.60L446.04 303.10L445.60 302.60L444.73 302.60L444.29 303.10L444.29 303.60L444.73 304.10L445.60 304.10L446.04 303.60M447.18 302.60L447.18 303.50M447.88 302.60L447.88 303.50" fill="none" stroke="#1a1a1a" stroke-width="0.56" stroke-linecap="round" stroke-linejoin="round"/>
<path d="M417.71 314.40L417.97 314.40L417.97 314.70L417.71 314.70L417.71 314.40M419.27 311.70L420.95 311.70L420.11 312.95L420.53 312.95L420.95 313.45L420.95 314.20L420.53 314.70L419.69 314.70L419.27 314.20M421.97 311.70L422.81 311.70L423.23 312.20L423.23 312.70L422.81 313.20L421.97 313.20L421.55 312.70L421.55 312.20L421.97 311.70M421.97 313.20L421.55 313.70L421.55 314.20L421.97 314.70L422.81 314.70L423.23 314.20L423.23 313.70L422.81 313.20M424.32 311.70L424.32 312.60M425.00 311.70L425.00 312.60" fill="none" stroke="#1a1a1a" stroke-width="0.56" stroke-linecap="round" stroke-linejoin="round"/>
<path d="M417.77 319.20L417.77 316.20L419.28 316.20L419.79 316.70L419.79 317.20L419.28 317.70L417.77 317.70M418.78 317.70L419.79 319.20M422.51 316.20L420.49 316.20L420.49 319.20L422.51 319.20M420.49 317.70L422.00 317.70M425.23 316.20L423.21 316.20L423.21 319.20M423.21 317.70L424.72 317.70" fill="none" stroke="#1a1a1a" stroke-width="0.56" stroke-linecap="round" stroke-linejoin="round"/>
<line x1="426.50" y1="313.50" x2="431.80" y2="313.50" stroke="#1c1c1c" stroke-width="0.6"/>
<path d="M431.80 313.50 L429.20 314.25 L429.20 312.75 Z" fill="#1c1c1c" stroke="#1c1c1c" stroke-width="0.3"/>
<line x1="434.00" y1="313.50" x2="441.00" y2="313.50" stroke="#1c1c1c" stroke-width="0.6"/>
<path d="M434.00 313.50 L436.60 312.75 L436.60 314.25 Z" fill="#1c1c1c" stroke="#1c1c1c" stroke-width="0.3"/>
<path d="M490.12 314.40L490.38 314.40L490.38 314.70L490.12 314.70L490.12 314.40M491.70 311.70L493.40 311.70L492.55 312.95L492.98 312.95L493.40 313.45L493.40 314.20L492.98 314.70L492.12 314.70L491.70 314.20M494.42 311.70L495.28 311.70L495.70 312.20L495.70 312.70L495.28 313.20L494.42 313.20L494.00 312.70L494.00 312.20L494.42 311.70M494.42 313.20L494.00 313.70L494.00 314.20L494.42 314.70L495.28 314.70L495.70 314.20L495.70 313.70L495.28 313.20M496.81 311.70L496.81 312.60M497.49 311.70L497.49 312.60" fill="none" stroke="#1a1a1a" stroke-width="0.56" stroke-linecap="round" stroke-linejoin="round"/>
<path d="M490.27 319.20L490.27 316.20L491.78 316.20L492.29 316.70L492.29 317.20L491.78 317.70L490.27 317.70M491.28 317.70L492.29 319.20M495.01 316.20L492.99 316.20L492.99 319.20L495.01 319.20M492.99 317.70L494.50 317.70M497.73 316.20L495.71 316.20L495.71 319.20M495.71 317.70L497.22 317.70" fill="none" stroke="#1a1a1a" stroke-width="0.56" stroke-linecap="round" stroke-linejoin="round"/>
<line x1="477.60" y1="313.50" x2="487.50" y2="313.50" stroke="#1c1c1c" stroke-width="0.6"/>
<path d="M477.60 313.50 L480.20 312.75 L480.20 314.25 Z" fill="#1c1c1c" stroke="#1c1c1c" stroke-width="0.3"/>
<line x1="468.00" y1="313.50" x2="475.40" y2="313.50" stroke="#1c1c1c" stroke-width="0.6"/>
<path d="M475.40 313.50 L472.80 314.25 L472.80 312.75 Z" fill="#1c1c1c" stroke="#1c1c1c" stroke-width="0.3"/>
<line x1="438.10" y1="320.00" x2="438.10" y2="366.00" stroke="#1c1c1c" stroke-width="0.5"/>
<line x1="471.60" y1="320.00" x2="471.60" y2="366.00" stroke="#1c1c1c" stroke-width="0.5"/>
<line x1="452.70" y1="332.00" x2="452.70" y2="366.00" stroke="#1c1c1c" stroke-width="0.5"/>
<line x1="457.10" y1="332.00" x2="457.10" y2="366.00" stroke="#1c1c1c" stroke-width="0.5"/>
<line x1="428.50" y1="325.20" x2="431.80" y2="325.20" stroke="#1c1c1c" stroke-width="0.6"/>
<line x1="438.10" y1="325.20" x2="454.80" y2="325.20" stroke="#1c1c1c" stroke-width="0.6"/>
<path d="M438.10 325.20 L441.30 324.45 L441.30 325.95 Z" fill="#1c1c1c" stroke="#1c1c1c" stroke-width="0.3"/>
<path d="M454.80 325.20 L451.60 325.95 L451.60 324.45 Z" fill="#1c1c1c" stroke="#1c1c1c" stroke-width="0.3"/>
<line x1="454.80" y1="325.20" x2="471.60" y2="325.20" stroke="#1c1c1c" stroke-width="0.6"/>
<path d="M454.80 325.20 L458.00 324.45 L458.00 325.95 Z" fill="#1c1c1c" stroke="#1c1c1c" stroke-width="0.3"/>
<path d="M471.60 325.20 L468.40 325.95 L468.40 324.45 Z" fill="#1c1c1c" stroke="#1c1c1c" stroke-width="0.3"/>
<line x1="471.60" y1="325.20" x2="481.00" y2="325.20" stroke="#1c1c1c" stroke-width="0.6"/>
<path d="M416.00 323.40L417.80 323.40L416.90 324.65L417.35 324.65L417.80 325.15L417.80 325.90L417.35 326.40L416.45 326.40L416.00 325.90M419.19 326.10L419.46 326.10L419.46 326.40L419.19 326.40L419.19 326.10M421.30 323.40L422.20 323.40L422.65 323.90L422.65 325.90L422.20 326.40L421.30 326.40L420.85 325.90L420.85 323.90L421.30 323.40M423.28 323.40L425.07 323.40L423.95 326.40M426.24 323.40L426.24 324.30M426.96 323.40L426.96 324.30" fill="none" stroke="#1a1a1a" stroke-width="0.56" stroke-linecap="round" stroke-linejoin="round"/>
<path d="M418.27 327.90L420.29 327.90M419.28 327.90L419.28 330.90M420.99 327.90L422.00 329.40L423.01 327.90M422.00 329.40L422.00 330.90M423.71 330.90L423.71 327.90L425.22 327.90L425.73 328.40L425.73 328.90L425.22 329.40L423.71 329.40" fill="none" stroke="#1a1a1a" stroke-width="0.56" stroke-linecap="round" stroke-linejoin="round"/>
<path d="M482.30 323.40L484.13 323.40L483.21 324.65L483.67 324.65L484.13 325.15L484.13 325.90L483.67 326.40L482.76 326.40L482.30 325.90M485.54 326.10L485.82 326.10L485.82 326.40L485.54 326.40L485.54 326.10M487.69 323.40L488.61 323.40L489.06 323.90L489.06 325.90L488.61 326.40L487.69 326.40L487.24 325.90L487.24 323.90L487.69 323.40M489.71 323.40L491.53 323.40L490.39 326.40M492.72 323.40L492.72 324.30M493.45 323.40L493.45 324.30" fill="none" stroke="#1a1a1a" stroke-width="0.56" stroke-linecap="round" stroke-linejoin="round"/>
<path d="M484.57 327.90L486.59 327.90M485.58 327.90L485.58 330.90M487.29 327.90L488.30 329.40L489.31 327.90M488.30 329.40L488.30 330.90M490.01 330.90L490.01 327.90L491.52 327.90L492.03 328.40L492.03 328.90L491.52 329.40L490.01 329.40" fill="none" stroke="#1a1a1a" stroke-width="0.56" stroke-linecap="round" stroke-linejoin="round"/>
<line x1="428.50" y1="336.60" x2="438.10" y2="336.60" stroke="#1c1c1c" stroke-width="0.6"/>
<line x1="438.10" y1="336.60" x2="452.70" y2="336.60" stroke="#1c1c1c" stroke-width="0.6"/>
<path d="M438.10 336.60 L441.30 335.85 L441.30 337.35 Z" fill="#1c1c1c" stroke="#1c1c1c" stroke-width="0.3"/>
<path d="M452.70 336.60 L449.50 337.35 L449.50 335.85 Z" fill="#1c1c1c" stroke="#1c1c1c" stroke-width="0.3"/>
<line x1="457.10" y1="336.60" x2="471.60" y2="336.60" stroke="#1c1c1c" stroke-width="0.6"/>
<path d="M457.10 336.60 L460.30 335.85 L460.30 337.35 Z" fill="#1c1c1c" stroke="#1c1c1c" stroke-width="0.3"/>
<path d="M471.60 336.60 L468.40 337.35 L468.40 335.85 Z" fill="#1c1c1c" stroke="#1c1c1c" stroke-width="0.3"/>
<line x1="471.60" y1="336.60" x2="481.00" y2="336.60" stroke="#1c1c1c" stroke-width="0.6"/>
<path d="M416.00 335.30L416.45 334.80L417.35 334.80L417.80 335.30L417.80 335.90L416.00 337.80L417.80 337.80M419.19 337.50L419.46 337.50L419.46 337.80L419.19 337.80L419.19 337.50M422.42 334.80L421.75 334.80L420.85 335.80L420.85 337.30L421.30 337.80L422.20 337.80L422.65 337.30L422.65 336.80L422.20 336.30L421.30 336.30L420.85 336.80M423.28 334.80L425.07 334.80L424.18 336.05L424.62 336.05L425.07 336.55L425.07 337.30L424.62 337.80L423.73 337.80L423.28 337.30M426.24 334.80L426.24 335.70M426.96 334.80L426.96 335.70" fill="none" stroke="#1a1a1a" stroke-width="0.56" stroke-linecap="round" stroke-linejoin="round"/>
<path d="M418.27 339.30L420.29 339.30M419.28 339.30L419.28 342.30M420.99 339.30L422.00 340.80L423.01 339.30M422.00 340.80L422.00 342.30M423.71 342.30L423.71 339.30L425.22 339.30L425.73 339.80L425.73 340.30L425.22 340.80L423.71 340.80" fill="none" stroke="#1a1a1a" stroke-width="0.56" stroke-linecap="round" stroke-linejoin="round"/>
<path d="M482.30 335.30L482.76 334.80L483.67 334.80L484.13 335.30L484.13 335.90L482.30 337.80L484.13 337.80M485.54 337.50L485.82 337.50L485.82 337.80L485.54 337.80L485.54 337.50M488.83 334.80L488.15 334.80L487.24 335.80L487.24 337.30L487.69 337.80L488.61 337.80L489.06 337.30L489.06 336.80L488.61 336.30L487.69 336.30L487.24 336.80M489.71 334.80L491.53 334.80L490.62 336.05L491.07 336.05L491.53 336.55L491.53 337.30L491.07 337.80L490.16 337.80L489.71 337.30M492.72 334.80L492.72 335.70M493.45 334.80L493.45 335.70" fill="none" stroke="#1a1a1a" stroke-width="0.56" stroke-linecap="round" stroke-linejoin="round"/>
<path d="M484.57 339.30L486.59 339.30M485.58 339.30L485.58 342.30M487.29 339.30L488.30 340.80L489.31 339.30M488.30 340.80L488.30 342.30M490.01 342.30L490.01 339.30L491.52 339.30L492.03 339.80L492.03 340.30L491.52 340.80L490.01 340.80" fill="none" stroke="#1a1a1a" stroke-width="0.56" stroke-linecap="round" stroke-linejoin="round"/>
<line x1="431.80" y1="358.30" x2="477.60" y2="358.30" stroke="#1c1c1c" stroke-width="0.8"/>
<rect x="438.10" y="366.80" width="14.60" height="3.40" rx="1.7" fill="none" stroke="#1c1c1c" stroke-width="0.8"/>
<rect x="457.10" y="366.80" width="14.50" height="3.40" rx="1.7" fill="none" stroke="#1c1c1c" stroke-width="0.8"/>
<line x1="405.00" y1="368.50" x2="438.10" y2="368.50" stroke="#1c1c1c" stroke-width="0.45" stroke-dasharray="6 1.2 1.5 1.2"/>
<line x1="452.70" y1="368.50" x2="457.10" y2="368.50" stroke="#1c1c1c" stroke-width="0.45"/>
<line x1="471.60" y1="368.50" x2="477.60" y2="368.50" stroke="#1c1c1c" stroke-width="0.45"/>
<rect x="438.10" y="388.60" width="14.60" height="3.40" rx="1.7" fill="none" stroke="#1c1c1c" stroke-width="0.8"/>
<rect x="457.10" y="388.60" width="14.50" height="3.40" rx="1.7" fill="none" stroke="#1c1c1c" stroke-width="0.8"/>
<line x1="405.00" y1="390.30" x2="438.10" y2="390.30" stroke="#1c1c1c" stroke-width="0.45" stroke-dasharray="6 1.2 1.5 1.2"/>
<line x1="452.70" y1="390.30" x2="457.10" y2="390.30" stroke="#1c1c1c" stroke-width="0.45"/>
<line x1="471.60" y1="390.30" x2="477.60" y2="390.30" stroke="#1c1c1c" stroke-width="0.45"/>
<line x1="445.40" y1="360.00" x2="445.40" y2="401.00" stroke="#1c1c1c" stroke-width="0.4" stroke-dasharray="3 1.5"/>
<line x1="464.40" y1="360.00" x2="464.40" y2="401.00" stroke="#1c1c1c" stroke-width="0.4" stroke-dasharray="3 1.5"/>
<rect x="431.80" y="401.70" width="45.80" height="3.40" rx="0" fill="#444" stroke="#1c1c1c" stroke-width="0.9"/>
<line x1="405.00" y1="403.90" x2="431.80" y2="403.90" stroke="#1c1c1c" stroke-width="0.5"/>
<line x1="410.00" y1="368.50" x2="410.00" y2="374.00" stroke="#1c1c1c" stroke-width="0.6"/>
<line x1="410.00" y1="384.00" x2="410.00" y2="390.30" stroke="#1c1c1c" stroke-width="0.6"/>
<path d="M410.00 368.50 L410.75 371.70 L409.25 371.70 Z" fill="#1c1c1c" stroke="#1c1c1c" stroke-width="0.3"/>
<path d="M410.00 390.30 L409.25 387.10 L410.75 387.10 Z" fill="#1c1c1c" stroke="#1c1c1c" stroke-width="0.3"/>
<path d="M404.46 378.50L404.46 375.50L403.00 377.50L404.95 377.50M406.47 378.20L406.76 378.20L406.76 378.50L406.47 378.50L406.47 378.20M408.76 375.50L409.74 375.50L410.23 376.00L410.23 378.00L409.74 378.50L408.76 378.50L408.27 378.00L408.27 376.00L408.76 375.50M411.40 375.50L412.38 375.50L412.86 376.00L412.86 378.00L412.38 378.50L411.40 378.50L410.91 378.00L410.91 376.00L411.40 375.50M414.13 375.50L414.13 376.40M414.91 375.50L414.91 376.40" fill="none" stroke="#1a1a1a" stroke-width="0.56" stroke-linecap="round" stroke-linejoin="round"/>
<path d="M405.77 380.00L407.79 380.00M406.78 380.00L406.78 383.00M408.49 380.00L409.50 381.50L410.51 380.00M409.50 381.50L409.50 383.00M411.21 383.00L411.21 380.00L412.72 380.00L413.23 380.50L413.23 381.00L412.72 381.50L411.21 381.50" fill="none" stroke="#1a1a1a" stroke-width="0.56" stroke-linecap="round" stroke-linejoin="round"/>
<line x1="410.00" y1="390.30" x2="410.00" y2="403.90" stroke="#1c1c1c" stroke-width="0.6"/>
<path d="M410.00 390.30 L410.75 393.50 L409.25 393.50 Z" fill="#1c1c1c" stroke="#1c1c1c" stroke-width="0.3"/>
<path d="M410.00 403.90 L409.25 400.70 L410.75 400.70 Z" fill="#1c1c1c" stroke="#1c1c1c" stroke-width="0.3"/>
<path d="M403.00 408.70L403.49 408.20L404.46 408.20L404.95 408.70L404.95 409.30L403.00 411.20L404.95 411.20M406.47 410.90L406.76 410.90L406.76 411.20L406.47 411.20L406.47 410.90M410.23 408.20L408.27 408.20L408.27 409.50L409.74 409.50L410.23 410.00L410.23 410.70L409.74 411.20L408.76 411.20L408.27 410.70M411.40 408.20L412.38 408.20L412.86 408.70L412.86 410.70L412.38 411.20L411.40 411.20L410.91 410.70L410.91 408.70L411.40 408.20M414.13 408.20L414.13 409.10M414.91 408.20L414.91 409.10" fill="none" stroke="#1a1a1a" stroke-width="0.56" stroke-linecap="round" stroke-linejoin="round"/>
<path d="M405.77 412.70L407.79 412.70M406.78 412.70L406.78 415.70M408.49 412.70L409.50 414.20L410.51 412.70M409.50 414.20L409.50 415.70M411.21 415.70L411.21 412.70L412.72 412.70L413.23 413.20L413.23 413.70L412.72 414.20L411.21 414.20" fill="none" stroke="#1a1a1a" stroke-width="0.56" stroke-linecap="round" stroke-linejoin="round"/>
<line x1="431.80" y1="405.50" x2="431.80" y2="421.50" stroke="#1c1c1c" stroke-width="0.5"/>
<line x1="477.00" y1="405.50" x2="477.00" y2="421.50" stroke="#1c1c1c" stroke-width="0.5"/>
<line x1="433.20" y1="405.50" x2="433.20" y2="421.50" stroke="#1c1c1c" stroke-width="0.5"/>
<path d="M418.67 419.50L418.91 419.50L418.91 419.80L418.67 419.80L418.67 419.50M420.53 417.40L421.01 416.80L421.01 419.80M422.48 419.80L423.07 419.80L423.86 418.80L423.86 417.30L423.47 416.80L422.67 416.80L422.28 417.30L422.28 417.80L422.67 418.30L423.47 418.30L423.86 417.80M424.89 416.80L424.89 417.70M425.53 416.80L425.53 417.70" fill="none" stroke="#1a1a1a" stroke-width="0.56" stroke-linecap="round" stroke-linejoin="round"/>
<line x1="427.00" y1="418.30" x2="431.80" y2="418.30" stroke="#1c1c1c" stroke-width="0.6"/>
<path d="M431.80 418.30 L429.20 419.05 L429.20 417.55 Z" fill="#1c1c1c" stroke="#1c1c1c" stroke-width="0.3"/>
<line x1="433.20" y1="418.30" x2="447.50" y2="418.30" stroke="#1c1c1c" stroke-width="0.6"/>
<line x1="461.50" y1="418.30" x2="477.00" y2="418.30" stroke="#1c1c1c" stroke-width="0.6"/>
<path d="M433.20 418.30 L436.40 417.55 L436.40 419.05 Z" fill="#1c1c1c" stroke="#1c1c1c" stroke-width="0.3"/>
<path d="M477.00 418.30 L473.80 419.05 L473.80 417.55 Z" fill="#1c1c1c" stroke="#1c1c1c" stroke-width="0.3"/>
<path d="M448.51 416.50L449.52 416.50L450.03 417.00L450.03 417.50L449.52 418.00L448.51 418.00L448.00 417.50L448.00 417.00L448.51 416.50M448.51 418.00L448.00 418.50L448.00 419.00L448.51 419.50L449.52 419.50L450.03 419.00L450.03 418.50L449.52 418.00M451.61 419.20L451.91 419.20L451.91 419.50L451.61 419.50L451.61 419.20M453.99 416.50L455.01 416.50L455.51 417.00L455.51 419.00L455.01 419.50L453.99 419.50L453.49 419.00L453.49 417.00L453.99 416.50M456.74 416.50L457.75 416.50L458.26 417.00L458.26 419.00L457.75 419.50L456.74 419.50L456.23 419.00L456.23 417.00L456.74 416.50M459.58 416.50L459.58 417.40M460.39 416.50L460.39 417.40" fill="none" stroke="#1a1a1a" stroke-width="0.56" stroke-linecap="round" stroke-linejoin="round"/>
<path d="M450.77 424.10L450.77 421.10L452.28 421.10L452.79 421.60L452.79 422.10L452.28 422.60L450.77 422.60M451.78 422.60L452.79 424.10M455.51 421.10L453.49 421.10L453.49 424.10L455.51 424.10M453.49 422.60L455.00 422.60M458.23 421.10L456.21 421.10L456.21 424.10M456.21 422.60L457.72 422.60" fill="none" stroke="#1a1a1a" stroke-width="0.56" stroke-linecap="round" stroke-linejoin="round"/>
<rect x="472.30" y="388.60" width="11.10" height="3.40" rx="1.7" fill="none" stroke="#1c1c1c" stroke-width="0.4"/>
<line x1="477.60" y1="388.60" x2="497.00" y2="388.60" stroke="#1c1c1c" stroke-width="0.4"/>
<line x1="477.60" y1="392.00" x2="497.00" y2="392.00" stroke="#1c1c1c" stroke-width="0.4"/>
<line x1="485.40" y1="382.50" x2="485.40" y2="388.60" stroke="#1c1c1c" stroke-width="0.6"/>
<path d="M485.40 388.60 L484.50 385.60 L486.30 385.60 Z" fill="#1c1c1c" stroke="#1c1c1c" stroke-width="0.3"/>
<path d="M485.40 392.00 L486.30 395.00 L484.50 395.00 Z" fill="#1c1c1c" stroke="#1c1c1c" stroke-width="0.3"/>
<path d="M484.04 376.90L484.26 376.90L484.26 377.20L484.04 377.20L484.04 376.90M485.43 374.20L486.94 374.20L486.18 375.45L486.56 375.45L486.94 375.95L486.94 376.70L486.56 377.20L485.81 377.20L485.43 376.70M487.46 374.70L487.84 374.20L488.59 374.20L488.97 374.70L488.97 375.30L487.46 377.20L488.97 377.20M489.95 374.20L489.95 375.10M490.55 374.20L490.55 375.10" fill="none" stroke="#1a1a1a" stroke-width="0.56" stroke-linecap="round" stroke-linejoin="round"/>
<path d="M483.77 378.70L485.79 378.70M484.78 378.70L484.78 381.70M486.49 378.70L487.50 380.20L488.51 378.70M487.50 380.20L487.50 381.70M489.21 381.70L489.21 378.70L490.72 378.70L491.23 379.20L491.23 379.70L490.72 380.20L489.21 380.20" fill="none" stroke="#1a1a1a" stroke-width="0.56" stroke-linecap="round" stroke-linejoin="round"/>
<line x1="494.40" y1="383.00" x2="494.40" y2="388.60" stroke="#1c1c1c" stroke-width="0.6"/>
<path d="M494.40 388.60 L493.50 385.60 L495.30 385.60 Z" fill="#1c1c1c" stroke="#1c1c1c" stroke-width="0.3"/>
<line x1="494.40" y1="392.00" x2="494.40" y2="397.00" stroke="#1c1c1c" stroke-width="0.6"/>
<path d="M494.40 392.00 L495.30 395.00 L493.50 395.00 Z" fill="#1c1c1c" stroke="#1c1c1c" stroke-width="0.3"/>
<path d="M492.09 400.80L492.33 400.80L492.33 401.10L492.09 401.10L492.09 400.80M495.01 398.10L494.40 398.10L493.59 399.10L493.59 400.60L494.00 401.10L494.81 401.10L495.21 400.60L495.21 400.10L494.81 399.60L494.00 399.60L493.59 400.10M495.79 398.10L497.41 398.10L496.60 399.35L497.00 399.35L497.41 399.85L497.41 400.60L497.00 401.10L496.19 401.10L495.79 400.60M498.46 398.10L498.46 399.00M499.11 398.10L499.11 399.00" fill="none" stroke="#1a1a1a" stroke-width="0.56" stroke-linecap="round" stroke-linejoin="round"/>
<path d="M491.97 402.60L493.99 402.60M492.98 402.60L492.98 405.60M494.69 402.60L495.70 404.10L496.71 402.60M495.70 404.10L495.70 405.60M497.41 405.60L497.41 402.60L498.92 402.60L499.43 403.10L499.43 403.60L498.92 404.10L497.41 404.10" fill="none" stroke="#1a1a1a" stroke-width="0.56" stroke-linecap="round" stroke-linejoin="round"/>
<path d="M489.40 354.70 L483.00 354.70 L472.30 366.90" fill="none" stroke="#1c1c1c" stroke-width="0.6"/>
<path d="M472.30 366.90 L473.85 364.00 L474.97 364.99 Z" fill="#1c1c1c" stroke="#1c1c1c" stroke-width="0.3"/>
<path d="M495.46 353.70L494.94 353.20L493.91 353.20L493.40 353.70L493.40 354.20L493.91 354.70L494.94 354.70L495.46 355.20L495.46 355.70L494.94 356.20L493.91 356.20L493.40 355.70M496.18 353.20L496.18 356.20L498.24 356.20M499.48 353.20L500.51 353.20L501.02 353.70L501.02 355.70L500.51 356.20L499.48 356.20L498.96 355.70L498.96 353.70L499.48 353.20M501.75 353.20L503.81 353.20M502.78 353.20L502.78 356.20M504.79 354.70L506.33 354.70M507.31 353.20L509.37 353.20M508.34 353.20L508.34 356.20M510.09 353.20L510.09 356.20M512.15 353.20L512.15 356.20M510.09 354.70L512.15 354.70M512.88 356.20L512.88 353.20L514.42 353.20L514.94 353.70L514.94 354.20L514.42 354.70L512.88 354.70M513.91 354.70L514.94 356.20M515.66 353.20L515.66 355.70L516.17 356.20L517.20 356.20L517.72 355.70L517.72 353.20M519.32 354.10L519.62 354.10L519.62 354.40L519.32 354.40L519.32 354.10M519.32 355.90L519.62 355.90L519.62 356.20L519.32 356.20L519.32 355.90" fill="none" stroke="#1a1a1a" stroke-width="0.56" stroke-linecap="round" stroke-linejoin="round"/>
<path d="M490.27 360.20L490.57 360.20L490.57 360.50L490.27 360.50L490.27 360.20M493.94 357.50L493.17 357.50L492.16 358.50L492.16 360.00L492.66 360.50L493.68 360.50L494.19 360.00L494.19 359.50L493.68 359.00L492.66 359.00L492.16 359.50M494.91 357.50L496.95 357.50L495.93 358.75L496.44 358.75L496.95 359.25L496.95 360.00L496.44 360.50L495.42 360.50L494.91 360.00M498.28 357.50L498.28 358.40M499.09 357.50L499.09 358.40M500.42 357.50L500.93 360.50L501.44 358.50L501.95 360.50L502.46 357.50M503.43 358.75L504.96 360.50M504.96 358.75L503.43 360.50M505.93 358.00L506.44 357.50L507.46 357.50L507.97 358.00L507.97 358.60L505.93 360.50L507.97 360.50M509.55 360.20L509.86 360.20L509.86 360.50L509.55 360.50L509.55 360.20M513.22 357.50L512.46 357.50L511.44 358.50L511.44 360.00L511.95 360.50L512.97 360.50L513.48 360.00L513.48 359.50L512.97 359.00L511.95 359.00L511.44 359.50M514.20 357.50L516.23 357.50L515.22 358.75L515.73 358.75L516.23 359.25L516.23 360.00L515.73 360.50L514.71 360.50L514.20 360.00M517.56 357.50L517.56 358.40M518.38 357.50L518.38 358.40M519.71 357.50L519.71 360.50L521.74 360.50M524.50 358.00L523.99 357.50L522.97 357.50L522.46 358.00L522.46 360.00L522.97 360.50L523.99 360.50L524.50 360.00L524.50 359.00L523.74 359.00" fill="none" stroke="#1a1a1a" stroke-width="0.56" stroke-linecap="round" stroke-linejoin="round"/>
<path d="M492.40 361.80L494.36 361.80M493.38 361.80L493.38 364.80M495.05 361.80L496.03 363.30L497.01 361.80M496.03 363.30L496.03 364.80M497.70 364.80L497.70 361.80L499.17 361.80L499.66 362.30L499.66 362.80L499.17 363.30L497.70 363.30M504.47 364.80L504.47 361.80L503.00 363.80L504.96 363.80M505.89 363.30L507.36 363.30M508.29 364.80L508.29 361.80L509.76 361.80L510.25 362.30L510.25 362.80L509.76 363.30L508.29 363.30M510.94 361.80L510.94 364.80L512.90 364.80M513.59 364.80L514.57 361.80L515.55 364.80M513.98 363.80L515.16 363.80M518.20 362.30L517.71 361.80L516.73 361.80L516.24 362.30L516.24 364.30L516.73 364.80L517.71 364.80L518.20 364.30M520.85 361.80L518.89 361.80L518.89 364.80L520.85 364.80M518.89 363.30L520.36 363.30M523.50 362.30L523.01 361.80L522.03 361.80L521.54 362.30L521.54 362.80L522.03 363.30L523.01 363.30L523.50 363.80L523.50 364.30L523.01 364.80L522.03 364.80L521.54 364.30" fill="none" stroke="#1a1a1a" stroke-width="0.56" stroke-linecap="round" stroke-linejoin="round"/>
<path d="M407.50 347.20 L421.00 347.20 L436.20 362.30" fill="none" stroke="#1c1c1c" stroke-width="0.6"/>
<path d="M436.20 362.30 L433.40 360.58 L434.46 359.51 Z" fill="#1c1c1c" stroke="#1c1c1c" stroke-width="0.3"/>
<circle cx="436.90" cy="363.00" r="1.0" fill="none" stroke="#1c1c1c" stroke-width="0.5"/>
<path d="M381.00 348.70L381.00 345.70L382.48 345.70L382.98 346.20L382.98 346.70L382.48 347.20L381.00 347.20M383.67 345.70L383.67 348.70L385.64 348.70M386.34 348.70L387.33 345.70L388.31 348.70M386.73 347.70L387.92 347.70M389.01 345.70L390.98 345.70M390.00 345.70L390.00 348.70M393.65 345.70L391.68 345.70L391.68 348.70L393.65 348.70M391.68 347.20L393.16 347.20M394.59 347.20L396.08 347.20M398.99 346.20L398.50 345.70L397.51 345.70L397.02 346.20L397.02 346.70L397.51 347.20L398.50 347.20L398.99 347.70L398.99 348.20L398.50 348.70L397.51 348.70L397.02 348.20M399.69 348.70L401.66 345.70M404.33 346.20L403.84 345.70L402.85 345.70L402.36 346.20L402.36 346.70L402.85 347.20L403.84 347.20L404.33 347.70L404.33 348.20L403.84 348.70L402.85 348.70L402.36 348.20M405.86 346.60L406.16 346.60L406.16 346.90L405.86 346.90L405.86 346.60M405.86 348.40L406.16 348.40L406.16 348.70L405.86 348.70L405.86 348.40" fill="none" stroke="#1a1a1a" stroke-width="0.56" stroke-linecap="round" stroke-linejoin="round"/>
<path d="M368.86 352.80L369.16 352.80L369.16 353.10L368.86 353.10L368.86 352.80M372.48 350.10L371.73 350.10L370.72 351.10L370.72 352.60L371.22 353.10L372.23 353.10L372.74 352.60L372.74 352.10L372.23 351.60L371.22 351.60L370.72 352.10M373.44 350.10L375.46 350.10L374.45 351.35L374.95 351.35L375.46 351.85L375.46 352.60L374.95 353.10L373.95 353.10L373.44 352.60M376.77 350.10L376.77 351.00M377.57 350.10L377.57 351.00M378.89 350.10L380.90 350.10M379.89 350.10L379.89 353.10M381.61 350.10L381.61 353.10M383.62 350.10L383.62 353.10M381.61 351.60L383.62 351.60M384.33 350.10L384.33 353.10M386.34 350.10L384.33 351.85M385.08 351.35L386.34 353.10M387.30 351.35L388.81 353.10M388.81 351.35L387.30 353.10M390.28 350.10L391.28 350.10L391.79 350.60L391.79 351.10L391.28 351.60L390.28 351.60L389.77 351.10L389.77 350.60L390.28 350.10M390.28 351.60L389.77 352.10L389.77 352.60L390.28 353.10L391.28 353.10L391.79 352.60L391.79 352.10L391.28 351.60M393.35 352.80L393.65 352.80L393.65 353.10L393.35 353.10L393.35 352.80M396.98 350.10L396.22 350.10L395.21 351.10L395.21 352.60L395.72 353.10L396.72 353.10L397.23 352.60L397.23 352.10L396.72 351.60L395.72 351.60L395.21 352.10M397.94 350.10L399.95 350.10L398.94 351.35L399.45 351.35L399.95 351.85L399.95 352.60L399.45 353.10L398.44 353.10L397.94 352.60M401.26 350.10L401.26 351.00M402.07 350.10L402.07 351.00M403.63 351.35L405.14 353.10M405.14 351.35L403.63 353.10M406.60 350.10L407.61 350.10L408.11 350.60L408.11 351.10L407.61 351.60L406.60 351.60L406.10 351.10L406.10 350.60L406.60 350.10M406.60 351.60L406.10 352.10L406.10 352.60L406.60 353.10L407.61 353.10L408.11 352.60L408.11 352.10L407.61 351.60M409.68 352.80L409.98 352.80L409.98 353.10L409.68 353.10L409.68 352.80M413.31 350.10L412.55 350.10L411.54 351.10L411.54 352.60L412.05 353.10L413.05 353.10L413.56 352.60L413.56 352.10L413.05 351.60L412.05 351.60L411.54 352.10M414.26 350.10L416.28 350.10L415.27 351.35L415.78 351.35L416.28 351.85L416.28 352.60L415.78 353.10L414.77 353.10L414.26 352.60M417.59 350.10L417.59 351.00M418.40 350.10L418.40 351.00" fill="none" stroke="#1a1a1a" stroke-width="0.56" stroke-linecap="round" stroke-linejoin="round"/>
<path d="M385.51 355.00L386.12 354.40L386.12 357.40M388.00 355.90L389.52 355.90M390.49 357.40L390.49 354.40L392.01 354.40L392.52 354.90L392.52 355.40L392.01 355.90L390.49 355.90M391.51 355.90L392.52 357.40M395.27 354.40L393.23 354.40L393.23 357.40L395.27 357.40M393.23 355.90L394.76 355.90M396.49 354.40L397.50 354.40L398.01 354.90L398.01 356.90L397.50 357.40L396.49 357.40L395.98 356.90L395.98 354.90L396.49 354.40M397.25 356.65L398.01 357.55M399.74 354.40L399.74 355.30M401.47 354.40L401.47 357.40L402.74 357.40L403.50 356.65L403.50 355.15L402.74 354.40L401.47 354.40" fill="none" stroke="#1a1a1a" stroke-width="0.56" stroke-linecap="round" stroke-linejoin="round"/>
<path d="M477.60 402.20 L488.40 414.30 L520.50 414.30" fill="none" stroke="#1c1c1c" stroke-width="0.6"/>
<path d="M477.60 402.20 L480.18 403.90 L479.07 404.92 Z" fill="#1c1c1c" stroke="#1c1c1c" stroke-width="0.3"/>
<path d="M491.05 416.59L491.83 415.99L491.83 419.01M493.90 419.01L496.50 415.99M499.35 419.01L499.35 415.99L497.41 418.00L500.00 418.00" fill="none" stroke="#1a1a1a" stroke-width="0.56" stroke-linecap="round" stroke-linejoin="round"/>
<path d="M501.40 411.30 L501.40 417.30 L505.60 414.30 Z" fill="none" stroke="#1c1c1c" stroke-width="0.6"/>
<path d="M506.89 416.59L507.48 415.99L507.48 419.01M509.31 417.50L510.79 417.50M511.73 415.99L513.70 415.99L512.71 417.25L513.21 417.25L513.70 417.75L513.70 418.51L513.21 419.01L512.22 419.01L511.73 418.51" fill="none" stroke="#1a1a1a" stroke-width="0.56" stroke-linecap="round" stroke-linejoin="round"/>
<line x1="516.50" y1="414.30" x2="520.50" y2="410.30" stroke="#1c1c1c" stroke-width="0.6"/>
<line x1="516.50" y1="414.30" x2="520.50" y2="418.50" stroke="#1c1c1c" stroke-width="0.6"/>
<path d="M521.00 412.80L523.03 412.80M522.01 412.80L522.01 415.80M523.74 412.80L524.75 414.30L525.76 412.80M524.75 414.30L524.75 415.80M526.47 415.80L526.47 412.80L527.99 412.80L528.50 413.30L528.50 413.80L527.99 414.30L526.47 414.30" fill="none" stroke="#1a1a1a" stroke-width="0.56" stroke-linecap="round" stroke-linejoin="round"/>
<rect x="566.40" y="406.30" width="131.80" height="53.90" rx="0" fill="none" stroke="#1c1c1c" stroke-width="1.1"/>
<line x1="566.40" y1="410.80" x2="698.20" y2="410.80" stroke="#1c1c1c" stroke-width="0.9"/>
<line x1="577.70" y1="406.30" x2="577.70" y2="410.80" stroke="#1c1c1c" stroke-width="0.8"/>
<line x1="659.50" y1="406.30" x2="659.50" y2="410.80" stroke="#1c1c1c" stroke-width="0.8"/>
<line x1="670.30" y1="406.30" x2="670.30" y2="410.80" stroke="#1c1c1c" stroke-width="0.8"/>
<line x1="681.20" y1="406.30" x2="681.20" y2="410.80" stroke="#1c1c1c" stroke-width="0.8"/>
<path d="M568.50 409.75L568.50 407.45L569.82 407.45L570.26 407.83L570.26 408.22L569.82 408.60L568.50 408.60M569.38 408.60L570.26 409.75M572.63 407.45L570.87 407.45L570.87 409.75L572.63 409.75M570.87 408.60L572.19 408.60M573.24 407.45L574.12 409.75L575.00 407.45" fill="none" stroke="#1a1a1a" stroke-width="0.56" stroke-linecap="round" stroke-linejoin="round" opacity="0.8"/>
<path d="M608.60 407.45L608.60 409.75L609.39 409.75L609.87 409.18L609.87 408.02L609.39 407.45L608.60 407.45M611.58 407.45L610.31 407.45L610.31 409.75L611.58 409.75M610.31 408.60L611.26 408.60M613.29 407.83L612.98 407.45L612.34 407.45L612.03 407.83L612.03 408.22L612.34 408.60L612.98 408.60L613.29 408.98L613.29 409.37L612.98 409.75L612.34 409.75L612.03 409.37M615.01 407.83L614.69 407.45L614.06 407.45L613.74 407.83L613.74 409.37L614.06 409.75L614.69 409.75L615.01 409.37M615.45 409.75L615.45 407.45L616.40 407.45L616.72 407.83L616.72 408.22L616.40 408.60L615.45 408.60M616.09 408.60L616.72 409.75M617.80 407.45L617.80 409.75M617.48 407.45L618.12 407.45M617.48 409.75L618.12 409.75M618.88 409.75L618.88 407.45L619.83 407.45L620.15 407.83L620.15 408.22L619.83 408.60L618.88 408.60M620.59 407.45L621.86 407.45M621.23 407.45L621.23 409.75M622.94 407.45L622.94 409.75M622.62 407.45L623.26 407.45M622.62 409.75L623.26 409.75M624.34 407.45L624.97 407.45L625.29 407.83L625.29 409.37L624.97 409.75L624.34 409.75L624.02 409.37L624.02 407.83L624.34 407.45M625.73 409.75L625.73 407.45L627.00 409.75L627.00 407.45" fill="none" stroke="#1a1a1a" stroke-width="0.56" stroke-linecap="round" stroke-linejoin="round" opacity="0.8"/>
<path d="M662.50 408.60L663.94 408.60L664.41 408.98L664.41 409.37L663.94 409.75L662.50 409.75L662.50 407.45L663.94 407.45L664.41 407.83L664.41 408.22L663.94 408.60M665.09 407.45L666.04 408.60L667.00 407.45M666.04 408.60L666.04 409.75" fill="none" stroke="#1a1a1a" stroke-width="0.56" stroke-linecap="round" stroke-linejoin="round" opacity="0.8"/>
<path d="M673.25 407.83L672.94 407.45L672.31 407.45L672.00 407.83L672.00 409.37L672.31 409.75L672.94 409.75L673.25 409.37M673.69 407.45L673.69 409.75M674.94 407.45L674.94 409.75M673.69 408.60L674.94 408.60M675.38 407.45L675.38 409.75M676.62 407.45L675.38 408.79M675.84 408.41L676.62 409.75M677.69 407.45L677.69 408.14M678.75 407.45L678.75 409.75L679.53 409.75L680.00 409.18L680.00 408.02L679.53 407.45L678.75 407.45" fill="none" stroke="#1a1a1a" stroke-width="0.56" stroke-linecap="round" stroke-linejoin="round" opacity="0.8"/>
<path d="M685.00 407.45L685.00 409.75L686.24 409.75L686.98 409.18L686.98 408.02L686.24 407.45L685.00 407.45M687.67 409.75L688.66 407.45L689.65 409.75M688.07 408.98L689.26 408.98M690.35 407.45L692.33 407.45M691.34 407.45L691.34 409.75M695.00 407.45L693.02 407.45L693.02 409.75L695.00 409.75M693.02 408.60L694.51 408.60" fill="none" stroke="#1a1a1a" stroke-width="0.56" stroke-linecap="round" stroke-linejoin="round" opacity="0.8"/>
<g fill="none" stroke="#1c1c1c" stroke-width="0.85"><ellipse cx="578.9" cy="419.8" rx="8" ry="5.8" stroke-width="1.0"/><path d="M575.2 414.8 Q571.6 419.8 575.2 424.8 M577.6 414.3 Q574.2 419.8 577.6 425.3 M582.6 414.8 Q586.2 419.8 582.6 424.8 M580.2 414.3 Q583.6 419.8 580.2 425.3"/><ellipse cx="578.9" cy="419.8" rx="1.5" ry="4.6"/></g>
<path transform="translate(589.1 421.3)" fill="#111" stroke="#111" stroke-width="0.45" d="M0.20 0.00 1.70 -7.77H7.82L7.58 -6.52H3.09L2.71 -4.56H6.86L6.62 -3.31H2.47L2.07 -1.26H6.78L6.53 0.00Z M11.59 -7.77Q13.42 -7.77 14.40 -6.92Q15.38 -6.06 15.38 -4.45Q15.38 -3.15 14.83 -2.15Q14.29 -1.15 13.25 -0.58Q12.21 0.00 10.92 0.00H7.74L9.25 -7.77ZM9.61 -1.26H10.88Q11.76 -1.26 12.44 -1.64Q13.12 -2.01 13.49 -2.73Q13.85 -3.44 13.85 -4.38Q13.85 -5.42 13.27 -5.97Q12.69 -6.52 11.60 -6.52H10.63Z M22.35 0.00 23.30 -4.88Q23.44 -5.59 23.71 -6.65L23.33 -5.82Q22.89 -4.86 22.70 -4.50L20.43 0.00H19.27L18.75 -4.52Q18.58 -6.12 18.53 -6.65Q18.37 -5.31 18.29 -4.89L17.34 0.00H15.90L17.41 -7.77H19.59L20.07 -3.43L20.21 -1.90Q20.41 -2.34 20.58 -2.70Q20.75 -3.06 23.14 -7.77H25.31L23.80 0.00Z"/>
<line x1="612.00" y1="422.60" x2="680.00" y2="422.60" stroke="#1c1c1c" stroke-width="0.9"/>
<path d="M590.36 424.35L588.73 424.35L588.00 427.25L589.63 427.25M588.36 425.80L589.59 425.80M590.20 427.25L590.66 425.41L591.84 427.25L592.29 425.41M594.46 425.56L593.92 427.73L592.63 427.98M594.40 425.80L593.24 425.56L592.65 426.28L592.84 427.15L594.14 426.86M595.86 425.51L595.43 427.25M596.08 424.64L596.02 424.88M596.82 427.25L597.28 425.41L598.45 427.25L598.91 425.41M601.11 425.41L599.48 425.41L599.02 427.25L600.65 427.25M599.25 426.33L600.47 426.33M603.31 425.41L601.68 425.41L601.22 427.25L602.86 427.25M601.45 426.33L602.68 426.33M603.43 427.25L603.89 425.41L605.11 425.41L605.44 425.72L605.37 426.03L604.88 426.33L603.66 426.33M604.47 426.33L605.06 427.25M606.88 425.51L606.45 427.25M607.10 424.64L607.04 424.88M607.84 427.25L608.30 425.41L609.47 427.25L609.93 425.41M612.10 425.56L611.55 427.73L610.27 427.98M612.03 425.80L610.87 425.56L610.28 426.28L610.47 427.15L611.77 426.86M613.13 426.96L613.14 427.25L612.71 427.83M615.17 424.35L614.45 427.25L615.47 427.25L616.26 426.53L616.62 425.08L616.19 424.35L615.17 424.35M618.74 425.41L617.11 425.41L616.65 427.25L618.28 427.25M616.88 426.33L618.11 426.33M620.87 425.72L620.54 425.41L619.72 425.41L619.24 425.72L619.16 426.03L619.50 426.33L620.31 426.33L620.64 426.64L620.57 426.94L620.08 427.25L619.27 427.25L618.93 426.94M622.31 425.51L621.88 427.25M622.53 424.64L622.47 424.88M625.32 425.56L624.78 427.73L623.49 427.98M625.26 425.80L624.10 425.56L623.51 426.28L623.70 427.15L624.99 426.86M625.47 427.25L625.93 425.41L627.10 427.25L627.56 425.41M628.56 426.96L628.57 427.25L628.14 427.83M629.88 427.25L631.15 425.41L631.51 427.25M630.36 426.64L631.34 426.64M632.08 427.25L632.54 425.41L633.71 427.25L634.17 425.41M636.64 424.35L635.92 427.25M636.28 425.80L635.12 425.56L634.53 426.28L634.69 427.25L635.98 427.01M638.69 427.25L639.42 424.35L639.75 426.28L641.05 424.35L640.33 427.25M640.90 427.25L642.17 425.41L642.53 427.25M641.38 426.64L642.36 426.64M643.10 427.25L643.56 425.41L644.73 427.25L645.19 425.41M645.31 427.25L646.58 425.41L646.94 427.25M645.79 426.64L646.77 426.64M649.57 425.56L649.02 427.73L647.74 427.98M649.50 425.80L648.34 425.56L647.75 426.28L647.94 427.15L649.24 426.86M651.81 425.41L650.17 425.41L649.72 427.25L651.35 427.25M649.94 426.33L651.17 426.33M651.92 427.25L652.38 425.41L652.89 426.64L654.01 425.41L653.55 427.25M656.21 425.41L654.58 425.41L654.12 427.25L655.75 427.25M654.35 426.33L655.58 426.33M656.33 427.25L656.79 425.41L657.96 427.25L658.42 425.41M660.01 424.59L659.35 427.25L659.84 427.25M659.29 425.51L660.27 425.51M665.18 424.83L664.89 424.35L664.07 424.35L663.54 424.83L663.42 425.32L663.71 425.80L664.53 425.80L664.81 426.28L664.69 426.77L664.16 427.25L663.35 427.25L663.06 426.77M667.23 425.41L665.60 425.41L665.14 427.25L666.78 427.25M665.37 426.33L666.60 426.33M667.35 427.25L667.81 425.41L669.03 425.41L669.36 425.72L669.29 426.03L668.80 426.33L667.58 426.33M668.39 426.33L668.98 427.25M670.01 425.41L670.37 427.25L671.64 425.41M673.01 425.51L672.57 427.25M673.22 424.64L673.16 424.88M675.97 425.72L675.64 425.41L674.83 425.41L674.34 425.72L674.04 426.94L674.37 427.25L675.18 427.25L675.67 426.94M678.26 425.41L676.62 425.41L676.16 427.25L677.80 427.25M676.39 426.33L677.62 426.33M680.38 425.72L680.05 425.41L679.24 425.41L678.75 425.72L678.68 426.03L679.01 426.33L679.82 426.33L680.15 426.64L680.08 426.94L679.59 427.25L678.78 427.25L678.45 426.94" fill="none" stroke="#1a1a1a" stroke-width="0.7" stroke-linecap="round" stroke-linejoin="round"/>
<path d="M569.18 429.05L568.00 429.05L568.00 431.55L569.18 431.55M568.00 430.30L568.88 430.30M569.59 429.05L569.59 431.55L570.33 431.55L570.77 430.93L570.77 429.68L570.33 429.05L569.59 429.05M571.18 431.55L571.18 429.05L571.77 430.72L572.36 429.05L572.36 431.55M575.54 429.47L575.25 429.05L574.66 429.05L574.37 429.47L574.37 429.88L574.66 430.30L575.25 430.30L575.54 430.72L575.54 431.13L575.25 431.55L574.66 431.55L574.37 431.13M577.14 429.97L575.96 429.97L575.96 431.55L577.14 431.55M575.96 430.76L576.84 430.76M577.55 431.55L577.55 429.97L578.43 429.97L578.73 430.23L578.73 430.49L578.43 430.76L577.55 430.76M578.14 430.76L578.73 431.55M579.14 429.97L579.73 431.55L580.32 429.97M581.32 430.05L581.32 431.55M581.32 429.30L581.32 429.51M583.50 430.23L583.21 429.97L582.62 429.97L582.32 430.23L582.32 431.29L582.62 431.55L583.21 431.55L583.50 431.29M585.09 429.97L583.92 429.97L583.92 431.55L585.09 431.55M583.92 430.76L584.80 430.76M586.68 430.23L586.39 429.97L585.80 429.97L585.51 430.23L585.51 430.49L585.80 430.76L586.39 430.76L586.68 431.02L586.68 431.29L586.39 431.55L585.80 431.55L585.51 431.29M587.69 431.30L587.75 431.55L587.54 432.05M589.28 429.05L589.28 431.55M588.98 429.05L589.57 429.05M588.98 431.55L589.57 431.55M590.28 431.55L590.28 429.97L591.46 431.55L591.46 429.97M593.05 430.23L592.76 429.97L592.17 429.97L591.87 430.23L591.87 431.29L592.17 431.55L592.76 431.55L593.05 431.29M595.29 429.88L596.00 429.88L596.00 431.13L595.29 431.13L595.29 429.88M595.29 430.51L596.00 430.51M598.24 431.55L598.24 429.05L599.12 429.05L599.42 429.47L599.42 429.88L599.12 430.30L598.24 430.30M600.12 429.05L600.71 429.05L601.01 429.47L601.01 431.13L600.71 431.55L600.12 431.55L599.83 431.13L599.83 429.47L600.12 429.05M603.01 430.30L603.90 430.30L604.19 430.72L604.19 431.13L603.90 431.55L603.01 431.55L603.01 429.05L603.90 429.05L604.19 429.47L604.19 429.88L603.90 430.30M604.90 429.97L605.49 429.97L605.78 430.23L605.78 431.29L605.49 431.55L604.90 431.55L604.61 431.29L604.61 430.23L604.90 429.97M606.34 430.09L607.23 431.55M607.23 430.09L606.34 431.55M609.38 429.05L610.56 429.05L609.97 430.09L610.26 430.09L610.56 430.51L610.56 431.13L610.26 431.55L609.67 431.55L609.38 431.13M611.27 429.05L611.85 429.05L612.15 429.47L612.15 431.13L611.85 431.55L611.27 431.55L610.97 431.13L610.97 429.47L611.27 429.05M613.59 429.05L613.15 429.05L612.56 429.88L612.56 431.13L612.86 431.55L613.45 431.55L613.74 431.13L613.74 430.72L613.45 430.30L612.86 430.30L612.56 430.72M615.98 429.88L616.69 429.88L616.69 431.13L615.98 431.13L615.98 429.88M615.98 430.51L616.69 430.51M619.81 431.55L619.81 429.05L618.93 430.72L620.11 430.72M620.81 429.05L621.40 429.05L621.70 429.47L621.70 431.13L621.40 431.55L620.81 431.55L620.52 431.13L620.52 429.47L620.81 429.05M623.70 429.05L623.70 431.55M624.88 429.05L624.88 431.55M623.70 430.30L624.88 430.30M625.59 429.97L626.18 429.97L626.47 430.23L626.47 431.29L626.18 431.55L625.59 431.55L625.30 431.29L625.30 430.23L625.59 429.97M628.06 430.23L627.77 429.97L627.18 429.97L626.89 430.23L626.89 430.49L627.18 430.76L627.77 430.76L628.06 431.02L628.06 431.29L627.77 431.55L627.18 431.55L626.89 431.29M628.48 431.55L628.48 429.97L629.07 431.02L629.66 429.97L629.66 431.55M631.25 429.97L630.07 429.97L630.07 431.55L631.25 431.55M630.07 430.76L630.95 430.76M631.66 431.55L631.66 429.97L632.54 429.97L632.84 430.23L632.84 430.49L632.54 430.76L631.66 430.76M632.25 430.76L632.84 431.55M636.02 429.47L635.73 429.05L635.14 429.05L634.84 429.47L634.84 429.88L635.14 430.30L635.73 430.30L636.02 430.72L636.02 431.13L635.73 431.55L635.14 431.55L634.84 431.13M637.02 429.26L637.02 431.55L637.38 431.55M636.67 430.05L637.38 430.05M638.53 431.30L638.70 431.30L638.70 431.55L638.53 431.55L638.53 431.30M641.45 429.88L642.15 429.88L642.15 431.13L641.45 431.13L641.45 429.88M641.45 430.51L642.15 430.51M644.39 431.55L644.39 429.05L644.98 430.72L645.57 429.05L645.57 431.55M645.98 431.55L646.57 429.97L647.16 431.55M646.22 431.02L646.93 431.02M647.58 431.55L647.58 429.97L648.46 429.97L648.75 430.23L648.75 430.49L648.46 430.76L647.58 430.76M648.17 430.76L648.75 431.55M649.76 429.05L649.76 431.55M650.76 429.05L650.76 431.55M650.76 430.30L651.64 430.09L651.94 430.72L651.64 431.55L650.76 431.34M652.65 429.97L653.23 429.97L653.53 430.23L653.53 431.29L653.23 431.55L652.65 431.55L652.35 431.29L652.35 430.23L652.65 429.97M653.94 431.55L653.94 429.97L654.83 429.97L655.12 430.23L655.12 430.49L654.83 430.76L653.94 430.76M654.53 430.76L655.12 431.55M655.83 429.97L656.42 429.97L656.71 430.23L656.71 431.29L656.42 431.55L655.83 431.55L655.53 431.29L655.53 430.23L655.83 429.97M657.71 431.30L657.77 431.55L657.57 432.05M658.72 431.55L658.72 429.05L659.31 430.72L659.89 429.05L659.89 431.55M660.31 431.55L660.90 429.05L661.49 431.55M660.54 430.72L661.25 430.72M663.79 429.05L664.38 429.05L664.67 429.47L664.67 431.13L664.38 431.55L663.79 431.55L663.49 431.13L663.49 429.47L663.79 429.05M665.38 429.55L665.73 429.05L665.73 431.55M667.85 429.05L666.67 429.05L666.67 430.13L667.56 430.13L667.85 430.55L667.85 431.13L667.56 431.55L666.97 431.55L666.67 431.13M669.30 429.05L668.86 429.05L668.27 429.88L668.27 431.13L668.56 431.55L669.15 431.55L669.44 431.13L669.44 430.72L669.15 430.30L668.56 430.30L668.27 430.72M670.89 429.05L670.45 429.05L669.86 429.88L669.86 431.13L670.15 431.55L670.74 431.55L671.04 431.13L671.04 430.72L670.74 430.30L670.15 430.30L669.86 430.72M673.28 429.88L673.98 429.88L673.98 431.13L673.28 431.13L673.28 429.88M673.28 430.51L673.98 430.51M677.05 429.05L676.67 429.68L676.67 430.93L677.05 431.55M678.70 431.55L678.70 429.05L677.82 430.72L678.99 430.72M679.70 429.55L680.05 429.05L680.05 431.55M681.00 429.05L682.18 429.05L681.59 430.09L681.88 430.09L682.18 430.51L682.18 431.13L681.88 431.55L681.29 431.55L681.00 431.13M682.94 429.05L683.33 429.68L683.33 430.93L682.94 431.55M685.36 429.05L684.18 429.05L684.18 430.13L685.06 430.13L685.36 430.55L685.36 431.13L685.06 431.55L684.48 431.55L684.18 431.13M686.07 429.05L686.66 429.05L686.95 429.47L686.95 429.88L686.66 430.30L686.07 430.30L685.77 429.88L685.77 429.47L686.07 429.05M686.07 430.30L685.77 430.72L685.77 431.13L686.07 431.55L686.66 431.55L686.95 431.13L686.95 430.72L686.66 430.30M688.25 431.55L688.25 429.05L687.36 430.72L688.54 430.72M689.10 430.30L689.99 430.30M690.84 429.05L691.43 429.05L691.73 429.47L691.73 431.13L691.43 431.55L690.84 431.55L690.55 431.13L690.55 429.47L690.84 429.05M693.02 431.55L693.02 429.05L692.14 430.72L693.32 430.72M694.03 429.05L694.61 429.05L694.91 429.47L694.91 431.13L694.61 431.55L694.03 431.55L693.73 431.13L693.73 429.47L694.03 429.05M695.62 429.05L696.21 429.05L696.50 429.47L696.50 431.13L696.21 431.55L695.62 431.55L695.32 431.13L695.32 429.47L695.62 429.05" fill="none" stroke="#1a1a1a" stroke-width="0.75" stroke-linecap="round" stroke-linejoin="round"/>
<line x1="566.40" y1="432.80" x2="698.20" y2="432.80" stroke="#1c1c1c" stroke-width="1.1"/>
<line x1="566.40" y1="438.50" x2="698.20" y2="438.50" stroke="#1c1c1c" stroke-width="0.8"/>
<line x1="591.20" y1="432.80" x2="591.20" y2="438.50" stroke="#1c1c1c" stroke-width="0.7"/>
<line x1="592.30" y1="432.80" x2="592.30" y2="438.50" stroke="#1c1c1c" stroke-width="0.7"/>
<line x1="617.90" y1="432.80" x2="617.90" y2="438.50" stroke="#1c1c1c" stroke-width="0.7"/>
<line x1="619.00" y1="432.80" x2="619.00" y2="438.50" stroke="#1c1c1c" stroke-width="0.7"/>
<line x1="644.70" y1="432.80" x2="644.70" y2="438.50" stroke="#1c1c1c" stroke-width="0.7"/>
<line x1="645.80" y1="432.80" x2="645.80" y2="438.50" stroke="#1c1c1c" stroke-width="0.7"/>
<line x1="670.40" y1="432.80" x2="670.40" y2="438.50" stroke="#1c1c1c" stroke-width="0.7"/>
<line x1="671.50" y1="432.80" x2="671.50" y2="438.50" stroke="#1c1c1c" stroke-width="0.7"/>
<path d="M568.00 434.50L568.00 436.90L568.80 436.90L569.28 436.30L569.28 435.10L568.80 434.50L568.00 434.50M569.73 436.90L570.37 434.50L571.00 436.90M569.98 436.10L570.75 436.10M571.45 434.50L572.73 434.50M572.09 434.50L572.09 436.90M574.46 434.50L573.18 434.50L573.18 436.90L574.46 436.90M573.18 435.70L574.14 435.70M575.45 435.22L575.64 435.22L575.64 435.46L575.45 435.46L575.45 435.22M575.45 436.66L575.64 436.66L575.64 436.90L575.45 436.90L575.45 436.66M579.48 434.50L579.00 434.50L578.36 435.30L578.36 436.50L578.68 436.90L579.32 436.90L579.64 436.50L579.64 436.10L579.32 435.70L578.68 435.70L578.36 436.10M580.25 435.70L581.21 435.70M582.13 434.98L582.52 434.50L582.52 436.90M583.54 434.50L584.82 434.50L584.18 435.50L584.50 435.50L584.82 435.90L584.82 436.50L584.50 436.90L583.86 436.90L583.54 436.50M585.43 435.70L586.39 435.70M587.16 436.90L587.63 436.90L588.27 436.10L588.27 434.90L587.95 434.50L587.31 434.50L587.00 434.90L587.00 435.30L587.31 435.70L587.95 435.70L588.27 435.30M589.68 436.90L589.68 434.50L588.72 436.10L590.00 436.10" fill="none" stroke="#1a1a1a" stroke-width="0.6" stroke-linecap="round" stroke-linejoin="round"/>
<path d="M595.39 434.90L595.04 434.50L594.35 434.50L594.00 434.90L594.00 435.30L594.35 435.70L595.04 435.70L595.39 436.10L595.39 436.50L595.04 436.90L594.35 436.90L594.00 436.50M597.26 434.90L596.91 434.50L596.22 434.50L595.87 434.90L595.87 436.50L596.22 436.90L596.91 436.90L597.26 436.50M597.75 436.90L598.44 434.50L599.13 436.90M598.03 436.10L598.86 436.10M599.62 434.50L599.62 436.90L601.01 436.90M602.88 434.50L601.50 434.50L601.50 436.90L602.88 436.90M601.50 435.70L602.54 435.70M603.96 435.22L604.17 435.22L604.17 435.46L603.96 435.46L603.96 435.22M603.96 436.66L604.17 436.66L604.17 436.90L603.96 436.90L603.96 436.66M607.12 436.90L607.12 434.50L608.50 436.90L608.50 434.50M609.34 434.50L610.03 434.50L610.38 434.90L610.38 436.50L610.03 436.90L609.34 436.90L608.99 436.50L608.99 434.90L609.34 434.50M610.87 434.50L612.25 434.50M611.56 434.50L611.56 436.90M614.13 434.50L612.74 434.50L612.74 436.90L614.13 436.90M612.74 435.70L613.78 435.70M614.61 434.50L614.61 436.90L615.48 436.90L616.00 436.30L616.00 435.10L615.48 434.50L614.61 434.50" fill="none" stroke="#1a1a1a" stroke-width="0.6" stroke-linecap="round" stroke-linejoin="round"/>
<path d="M620.50 434.50L620.50 436.90L621.33 436.90L621.82 436.30L621.82 435.10L621.33 434.50L620.50 434.50M622.29 436.90L622.29 434.50L623.28 434.50L623.61 434.90L623.61 435.30L623.28 435.70L622.29 435.70M622.95 435.70L623.61 436.90M624.08 434.50L624.41 436.90L624.74 435.30L625.07 436.90L625.40 434.50M625.87 436.90L625.87 434.50L627.19 436.90L627.19 434.50M629.44 435.70L630.44 435.70L630.77 436.10L630.77 436.50L630.44 436.90L629.44 436.90L629.44 434.50L630.44 434.50L630.77 434.90L630.77 435.30L630.44 435.70M631.23 434.50L631.89 435.70L632.56 434.50M631.89 435.70L631.89 436.90M633.58 435.22L633.78 435.22L633.78 435.46L633.58 435.46L633.58 435.22M633.58 436.66L633.78 436.66L633.78 436.90L633.58 436.90L633.58 436.66M636.60 436.90L636.60 434.50L637.59 434.50L637.92 434.90L637.92 435.30L637.59 435.70L636.60 435.70M637.26 435.70L637.92 436.90M638.39 436.90L638.39 434.50L639.05 436.10L639.71 434.50L639.71 436.90M640.18 436.90L640.18 434.50L640.84 436.10L641.50 434.50L641.50 436.90" fill="none" stroke="#1a1a1a" stroke-width="0.6" stroke-linecap="round" stroke-linejoin="round"/>
<path d="M648.66 434.90L648.37 434.50L647.79 434.50L647.50 434.90L647.50 436.50L647.79 436.90L648.37 436.90L648.66 436.50M649.07 434.50L649.07 436.90M650.23 434.50L650.23 436.90M649.07 435.70L650.23 435.70M650.64 434.50L650.64 436.90M651.80 434.50L650.64 435.90M651.07 435.50L651.80 436.90M652.78 434.50L652.78 435.22M653.77 434.50L653.77 436.90L654.50 436.90L654.93 436.30L654.93 435.10L654.50 434.50L653.77 434.50M655.83 435.22L656.01 435.22L656.01 435.46L655.83 435.46L655.83 435.22M655.83 436.66L656.01 436.66L656.01 436.90L655.83 436.90L655.83 436.66" fill="none" stroke="#1a1a1a" stroke-width="0.6" stroke-linecap="round" stroke-linejoin="round"/>
<path d="M673.00 436.90L673.58 434.50L674.16 436.90M673.23 436.10L673.93 436.10M674.57 436.90L674.57 434.50L675.44 434.50L675.73 434.90L675.73 435.30L675.44 435.70L674.57 435.70M676.14 436.90L676.14 434.50L677.01 434.50L677.30 434.90L677.30 435.30L677.01 435.70L676.14 435.70M678.28 434.50L678.28 435.22M679.27 434.50L679.27 436.90L680.00 436.90L680.43 436.30L680.43 435.10L680.00 434.50L679.27 434.50M681.33 435.22L681.51 435.22L681.51 435.46L681.33 435.46L681.33 435.22M681.33 436.66L681.51 436.66L681.51 436.90L681.33 436.90L681.33 436.66" fill="none" stroke="#1a1a1a" stroke-width="0.5" stroke-linecap="round" stroke-linejoin="round" opacity="0.7"/>
<path d="M657.00 436.50 L660.00 434.00 L662.00 436.80 L665.00 434.50 L668.00 437.00" fill="none" stroke="#1c1c1c" stroke-width="0.5"/>
<path d="M568.90 439.70L568.68 439.40L568.23 439.40L568.00 439.70L568.00 440.90L568.23 441.20L568.68 441.20L568.90 440.90M569.22 439.40L569.22 441.20L570.12 441.20M570.89 439.40L570.89 441.20M570.66 439.40L571.12 439.40M570.66 441.20L571.12 441.20M572.56 439.40L571.66 439.40L571.66 441.20L572.56 441.20M571.66 440.30L572.34 440.30M572.88 441.20L572.88 439.40L573.78 441.20L573.78 439.40M574.10 439.40L575.00 439.40M574.55 439.40L574.55 441.20" fill="none" stroke="#1a1a1a" stroke-width="0.55" stroke-linecap="round" stroke-linejoin="round"/>
<path d="M600.28 441.26L599.66 440.58L598.42 440.58L597.80 441.26L597.80 441.93L598.42 442.60L599.66 442.60L600.28 443.27L600.28 443.94L599.66 444.62L598.42 444.62L597.80 443.94M601.77 440.58L603.01 440.58L603.64 441.26L603.64 443.94L603.01 444.62L601.77 444.62L601.15 443.94L601.15 441.26L601.77 440.58M604.51 440.58L604.51 443.94L605.13 444.62L606.37 444.62L606.99 443.94L606.99 440.58M607.86 440.58L610.34 440.58M609.10 440.58L609.10 444.62M611.21 440.58L611.21 444.62M613.70 440.58L613.70 444.62M611.21 442.60L613.70 442.60M614.57 440.58L615.19 444.62L615.81 441.93L616.43 444.62L617.05 440.58M618.54 440.58L619.78 440.58L620.40 441.26L620.40 443.94L619.78 444.62L618.54 444.62L617.92 443.94L617.92 441.26L618.54 440.58M621.28 444.62L621.28 440.58L623.14 440.58L623.76 441.26L623.76 441.93L623.14 442.60L621.28 442.60M622.52 442.60L623.76 444.62M624.63 440.58L627.11 440.58M625.87 440.58L625.87 444.62M627.98 440.58L627.98 444.62M630.46 440.58L630.46 444.62M627.98 442.60L630.46 442.60M634.69 444.62L634.69 440.58L636.55 440.58L637.17 441.26L637.17 441.93L636.55 442.60L634.69 442.60M638.04 444.62L639.28 440.58L640.52 444.62M638.54 443.27L640.03 443.27M641.40 444.62L641.40 440.58L643.26 440.58L643.88 441.26L643.88 441.93L643.26 442.60L641.40 442.60M647.23 440.58L644.75 440.58L644.75 444.62L647.23 444.62M644.75 442.60L646.61 442.60M648.10 444.62L648.10 440.58L649.97 440.58L650.59 441.26L650.59 441.93L649.97 442.60L648.10 442.60M649.34 442.60L650.59 444.62M657.29 441.26L656.67 440.58L655.43 440.58L654.81 441.26L654.81 443.94L655.43 444.62L656.67 444.62L657.29 443.94M658.79 440.58L660.03 440.58L660.65 441.26L660.65 443.94L660.03 444.62L658.79 444.62L658.16 443.94L658.16 441.26L658.79 440.58M662.57 444.21L662.95 444.21L662.95 444.62L662.57 444.62L662.57 444.21" fill="none" stroke="#1a1a1a" stroke-width="0.7" stroke-linecap="round" stroke-linejoin="round"/>
<path d="M571.96 445.10L571.82 447.90L572.61 446.03L572.65 447.90L573.63 445.10M575.88 445.10L574.22 445.10L573.66 447.90L575.32 447.90M573.94 446.50L575.19 446.50M578.05 445.57L577.72 445.10L576.89 445.10L576.38 445.57L576.28 446.03L576.61 446.50L577.44 446.50L577.77 446.97L577.67 447.43L577.16 447.90L576.33 447.90L576.00 447.43M578.73 445.10L580.40 445.10M579.56 445.10L579.00 447.90M584.81 445.57L584.49 445.10L583.65 445.10L583.14 445.57L583.05 446.03L583.37 446.50L584.21 446.50L584.53 446.97L584.44 447.43L583.93 447.90L583.09 447.90L582.77 447.43M584.93 447.90L585.49 445.10L586.74 445.10L587.07 445.57L586.97 446.03L586.46 446.50L585.21 446.50M587.19 447.90L587.75 445.10L589.00 445.10L589.32 445.57L589.23 446.03L588.72 446.50L587.47 446.50M588.30 446.50L588.86 447.90M590.84 445.10L590.28 447.90M590.42 445.10L591.25 445.10M589.86 447.90L590.69 447.90M591.70 447.90L592.26 445.10L593.37 447.90L593.93 445.10M596.09 445.57L595.77 445.10L594.93 445.10L594.42 445.57L594.05 447.43L594.37 447.90L595.21 447.90L595.72 447.43L595.90 446.50L595.28 446.50M598.44 445.10L596.77 445.10L596.21 447.90M596.49 446.50L597.74 446.50M599.86 445.10L599.30 447.90M599.44 445.10L600.28 445.10M598.88 447.90L599.72 447.90M602.95 445.10L601.28 445.10L600.72 447.90L602.39 447.90M601.00 446.50L602.25 446.50M603.54 445.10L602.98 447.90L604.64 447.90M605.79 445.10L605.23 447.90L606.27 447.90L607.04 447.20L607.32 445.80L606.83 445.10L605.79 445.10" fill="none" stroke="#1a1a1a" stroke-width="0.7" stroke-linecap="round" stroke-linejoin="round"/>
<path d="M688.00 448.00L688.00 445.40L688.96 447.13L689.91 445.40L689.91 448.00M690.59 448.00L691.54 445.40L692.50 448.00M690.97 447.13L692.12 447.13" fill="none" stroke="#1a1a1a" stroke-width="0.8" stroke-linecap="round" stroke-linejoin="round"/>
<line x1="566.40" y1="449.30" x2="698.20" y2="449.30" stroke="#1c1c1c" stroke-width="0.9"/>
<line x1="654.00" y1="449.30" x2="654.00" y2="460.20" stroke="#1c1c1c" stroke-width="0.9"/>
<path d="M568.00 450.50L568.94 450.50M568.47 450.50L568.47 452.30M569.73 450.50L569.73 452.30M569.50 450.50L569.97 450.50M569.50 452.30L569.97 452.30M570.53 450.50L571.47 450.50M571.00 450.50L571.00 452.30M571.80 450.50L571.80 452.30L572.73 452.30M574.00 450.50L573.06 450.50L573.06 452.30L574.00 452.30M573.06 451.40L573.77 451.40" fill="none" stroke="#1a1a1a" stroke-width="0.55" stroke-linecap="round" stroke-linejoin="round"/>
<path d="M656.00 450.50L656.00 452.30L656.52 452.30L656.83 451.85L656.83 450.95L656.52 450.50L656.00 450.50M657.12 452.30L657.12 450.50L657.74 450.50L657.94 450.80L657.94 451.10L657.74 451.40L657.12 451.40M657.53 451.40L657.94 452.30M658.23 452.30L658.65 450.50L659.06 452.30M658.40 451.70L658.90 451.70M659.35 450.50L659.56 452.30L659.77 451.10L659.97 452.30L660.18 450.50M660.88 450.50L660.88 452.30M660.68 450.50L661.09 450.50M660.68 452.30L661.09 452.30M661.59 452.30L661.59 450.50L662.41 452.30L662.41 450.50M663.53 450.80L663.32 450.50L662.91 450.50L662.70 450.80L662.70 452.00L662.91 452.30L663.32 452.30L663.53 452.00L663.53 451.40L663.22 451.40M664.94 452.30L664.94 450.50L665.77 452.30L665.77 450.50M666.26 451.16L666.68 451.16L666.88 451.35L666.88 452.11L666.68 452.30L666.26 452.30L666.06 452.11L666.06 451.35L666.26 451.16M667.52 452.12L667.65 452.12L667.65 452.30L667.52 452.30L667.52 452.12" fill="none" stroke="#1a1a1a" stroke-width="0.55" stroke-linecap="round" stroke-linejoin="round"/>
<path d="M575.00 453.94L575.00 457.26M577.03 453.94L577.03 457.26M575.00 455.60L577.03 455.60M579.77 453.94L577.74 453.94L577.74 457.26L579.77 457.26M577.74 455.60L579.26 455.60M580.48 457.26L581.49 453.94L582.51 457.26M580.88 456.15L582.10 456.15M583.22 453.94L583.22 457.26L584.49 457.26L585.25 456.43L585.25 454.77L584.49 453.94L583.22 453.94M585.96 455.60L587.48 455.60L587.99 456.15L587.99 456.70L587.48 457.26L585.96 457.26L585.96 453.94L587.48 453.94L587.99 454.50L587.99 455.05L587.48 455.60M589.21 453.94L590.22 453.94L590.73 454.50L590.73 456.70L590.22 457.26L589.21 457.26L588.70 456.70L588.70 454.50L589.21 453.94M591.44 453.94L593.47 457.26M593.47 453.94L591.44 457.26M596.92 457.26L596.92 453.94L597.93 456.15L598.95 453.94L598.95 457.26M600.16 453.94L601.18 453.94L601.68 454.50L601.68 456.70L601.18 457.26L600.16 457.26L599.66 456.70L599.66 454.50L600.16 453.94M602.40 453.94L602.40 457.26L603.66 457.26L604.42 456.43L604.42 454.77L603.66 453.94L602.40 453.94M606.15 453.94L606.15 457.26M605.64 453.94L606.66 453.94M605.64 457.26L606.66 457.26M609.90 453.94L607.88 453.94L607.88 457.26M607.88 455.60L609.40 455.60M611.63 453.94L611.63 457.26M611.12 453.94L612.14 453.94M611.12 457.26L612.14 457.26M615.38 454.50L614.88 453.94L613.86 453.94L613.36 454.50L613.36 456.70L613.86 457.26L614.88 457.26L615.38 456.70M616.10 457.26L617.11 453.94L618.12 457.26M616.50 456.15L617.72 456.15M618.84 453.94L620.86 453.94M619.85 453.94L619.85 457.26M622.59 453.94L622.59 457.26M622.08 453.94L623.10 453.94M622.08 457.26L623.10 457.26M624.82 453.94L625.84 453.94L626.34 454.50L626.34 456.70L625.84 457.26L624.82 457.26L624.32 456.70L624.32 454.50L624.82 453.94M627.05 457.26L627.05 453.94L629.08 457.26L629.08 453.94M632.53 453.94L632.53 457.26L633.80 457.26L634.56 456.43L634.56 454.77L633.80 453.94L632.53 453.94M637.30 453.94L635.27 453.94L635.27 457.26L637.30 457.26M635.27 455.60L636.79 455.60M638.01 453.94L640.04 453.94M639.03 453.94L639.03 457.26M640.75 457.26L641.77 453.94L642.78 457.26M641.16 456.15L642.38 456.15M644.51 453.94L644.51 457.26M644.00 453.94L645.01 453.94M644.00 457.26L645.01 457.26M646.23 453.94L646.23 457.26L648.26 457.26M651.00 454.50L650.49 453.94L649.48 453.94L648.97 454.50L648.97 455.05L649.48 455.60L650.49 455.60L651.00 456.15L651.00 456.70L650.49 457.26L649.48 457.26L648.97 456.70" fill="none" stroke="#1a1a1a" stroke-width="0.65" stroke-linecap="round" stroke-linejoin="round"/>
<path d="M666.63 454.35L666.05 453.73L664.88 453.73L664.30 454.35L664.30 454.98L664.88 455.60L666.05 455.60L666.63 456.22L666.63 456.85L666.05 457.47L664.88 457.47L664.30 456.85M667.45 453.73L668.04 457.47L668.62 454.98L669.20 457.47L669.78 453.73M672.94 454.35L672.35 453.73L671.19 453.73L670.60 454.35L670.60 456.85L671.19 457.47L672.35 457.47L672.94 456.85M674.05 455.60L675.80 455.60M678.66 457.47L678.66 453.73L676.91 456.22L679.24 456.22M680.06 453.73L682.39 453.73L680.93 457.47M683.79 454.48L684.49 453.73L684.49 457.47M686.66 455.60L688.40 455.60M690.10 453.73L691.26 453.73L691.85 454.35L691.85 456.85L691.26 457.47L690.10 457.47L689.52 456.85L689.52 454.35L690.10 453.73M692.67 454.35L693.25 453.73L694.42 453.73L695.00 454.35L695.00 455.10L692.67 457.47L695.00 457.47" fill="none" stroke="#1a1a1a" stroke-width="0.65" stroke-linecap="round" stroke-linejoin="round"/>
</svg>
</body></html>
